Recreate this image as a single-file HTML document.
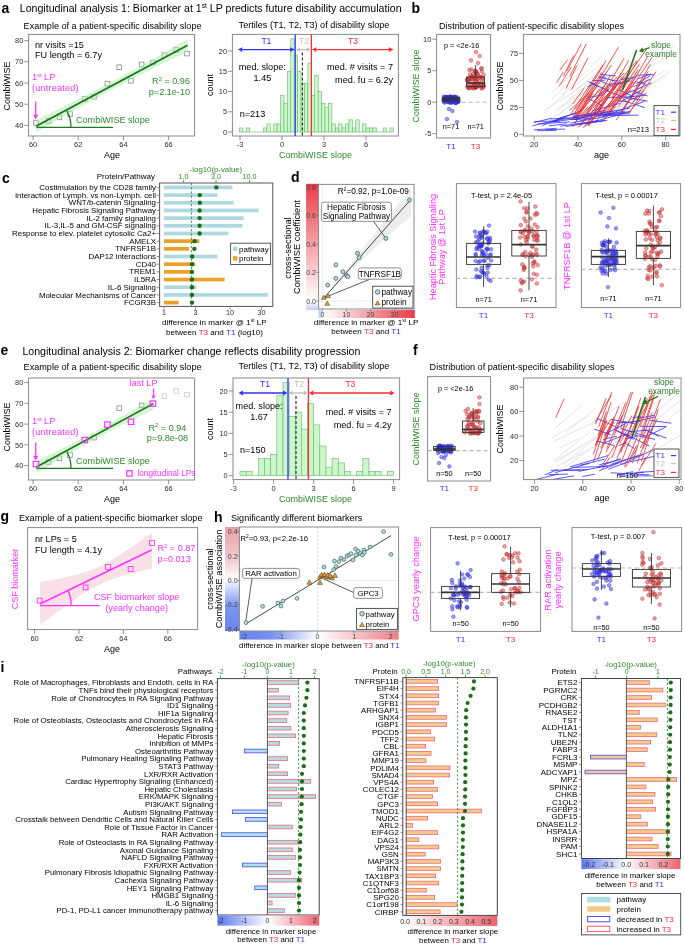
<!DOCTYPE html><html><head><meta charset="utf-8"><style>html,body{margin:0;padding:0;background:#fff;}svg{display:block;font-family:"Liberation Sans",sans-serif;will-change:transform;}</style></head><body>
<svg width="685" height="944" viewBox="0 0 685 944">
<defs>
<clipPath id="clip34"><rect x="523.4" y="34.4" width="156.6" height="101.6"/></clipPath>
<clipPath id="clip378"><rect x="523.6" y="378" width="157.4" height="101.6"/></clipPath>
<linearGradient id="gdy" x1="0" y1="0" x2="0" y2="1"><stop offset="0" stop-color="#ea3c48"/><stop offset="0.93" stop-color="#ffffff"/><stop offset="1" stop-color="#c4cef8"/></linearGradient>
<linearGradient id="gdx" x1="0" y1="0" x2="1" y2="0"><stop offset="0" stop-color="#b8c6fa"/><stop offset="0.06" stop-color="#ffffff"/><stop offset="1" stop-color="#ea3c48"/></linearGradient>
<linearGradient id="ghy" x1="0" y1="0" x2="0" y2="1"><stop offset="0" stop-color="#eaa0aa"/><stop offset="0.3" stop-color="#f2c8cc"/><stop offset="0.5" stop-color="#ffffff"/><stop offset="0.76" stop-color="#7c94f2"/><stop offset="1" stop-color="#6c84ee"/></linearGradient>
<linearGradient id="ghx" x1="0" y1="0" x2="1" y2="0"><stop offset="0" stop-color="#6c84ee"/><stop offset="0.2" stop-color="#7890f0"/><stop offset="0.49" stop-color="#ffffff"/><stop offset="1" stop-color="#ec8088"/></linearGradient>
<linearGradient id="gi1" x1="0" y1="0" x2="1" y2="0"><stop offset="0" stop-color="#5c78ee"/><stop offset="0.5" stop-color="#ffffff"/><stop offset="1" stop-color="#ea6470"/></linearGradient>
<linearGradient id="gi2" x1="0" y1="0" x2="1" y2="0"><stop offset="0" stop-color="#ffffff"/><stop offset="1" stop-color="#ea6470"/></linearGradient>
<linearGradient id="gi3" x1="0" y1="0" x2="1" y2="0"><stop offset="0" stop-color="#5c78ee"/><stop offset="0.45" stop-color="#ffffff"/><stop offset="1" stop-color="#ea6470"/></linearGradient>
</defs>
<rect x="0" y="0" width="685" height="944" fill="#ffffff"/>
<text x="1.5" y="12.6" font-size="14" fill="#000" font-weight="bold">a</text>
<text x="19.8" y="12" font-size="10.6">Longitudinal analysis 1: Biomarker at 1<tspan font-size="6.57" dy="-3.82">st</tspan><tspan dy="3.82"> LP predicts future disability accumulation</tspan></text>
<text x="23.6" y="28.9" font-size="9.1">Example of a patient-specific disability slope</text>
<rect x="28.6" y="34.4" width="166" height="101.6" fill="none" stroke="#8a8a8a" stroke-width="1"/>
<line x1="24.3" y1="125.4" x2="28.6" y2="125.4" stroke="#777777" stroke-width="0.8"/>
<text x="23.3" y="128.06" font-size="7.4" text-anchor="end" fill="#2a2a2a">40</text>
<line x1="24.3" y1="104.2" x2="28.6" y2="104.2" stroke="#777777" stroke-width="0.8"/>
<text x="23.3" y="106.86" font-size="7.4" text-anchor="end" fill="#2a2a2a">50</text>
<line x1="24.3" y1="83" x2="28.6" y2="83" stroke="#777777" stroke-width="0.8"/>
<text x="23.3" y="85.66" font-size="7.4" text-anchor="end" fill="#2a2a2a">60</text>
<line x1="24.3" y1="61.8" x2="28.6" y2="61.8" stroke="#777777" stroke-width="0.8"/>
<text x="23.3" y="64.46" font-size="7.4" text-anchor="end" fill="#2a2a2a">70</text>
<line x1="24.3" y1="40.6" x2="28.6" y2="40.6" stroke="#777777" stroke-width="0.8"/>
<text x="23.3" y="43.26" font-size="7.4" text-anchor="end" fill="#2a2a2a">80</text>
<line x1="33" y1="136" x2="33" y2="140.3" stroke="#777777" stroke-width="0.8"/>
<text x="33" y="147.3" font-size="7.4" text-anchor="middle" fill="#2a2a2a">60</text>
<line x1="78.2" y1="136" x2="78.2" y2="140.3" stroke="#777777" stroke-width="0.8"/>
<text x="78.2" y="147.3" font-size="7.4" text-anchor="middle" fill="#2a2a2a">62</text>
<line x1="123.4" y1="136" x2="123.4" y2="140.3" stroke="#777777" stroke-width="0.8"/>
<text x="123.4" y="147.3" font-size="7.4" text-anchor="middle" fill="#2a2a2a">64</text>
<line x1="168.6" y1="136" x2="168.6" y2="140.3" stroke="#777777" stroke-width="0.8"/>
<text x="168.6" y="147.3" font-size="7.4" text-anchor="middle" fill="#2a2a2a">66</text>
<text x="112" y="158" font-size="9" text-anchor="middle">Age</text>
<text x="10" y="86" font-size="9" text-anchor="middle" transform="rotate(-90 10 86)">CombiWISE</text>
<text x="35" y="48" font-size="9.1">nr visits =15</text>
<text x="35" y="58.4" font-size="9.1">FU length = 6.7y</text>
<rect x="33.7" y="120.7" width="4.6" height="4.6" fill="none" stroke="#888" stroke-width="0.8"/>
<rect x="46.3" y="118.7" width="4.6" height="4.6" fill="none" stroke="#888" stroke-width="0.8"/>
<rect x="57.1" y="115.1" width="4.6" height="4.6" fill="none" stroke="#888" stroke-width="0.8"/>
<rect x="67.7" y="111.7" width="4.6" height="4.6" fill="none" stroke="#888" stroke-width="0.8"/>
<rect x="82.5" y="96.7" width="4.6" height="4.6" fill="none" stroke="#888" stroke-width="0.8"/>
<rect x="91.7" y="94.3" width="4.6" height="4.6" fill="none" stroke="#888" stroke-width="0.8"/>
<rect x="105.1" y="81.3" width="4.6" height="4.6" fill="none" stroke="#888" stroke-width="0.8"/>
<rect x="116.9" y="64.9" width="4.6" height="4.6" fill="none" stroke="#888" stroke-width="0.8"/>
<rect x="128.7" y="78.5" width="4.6" height="4.6" fill="none" stroke="#888" stroke-width="0.8"/>
<rect x="139.3" y="62.1" width="4.6" height="4.6" fill="none" stroke="#888" stroke-width="0.8"/>
<rect x="150.7" y="60.3" width="4.6" height="4.6" fill="none" stroke="#888" stroke-width="0.8"/>
<rect x="162.1" y="52.9" width="4.6" height="4.6" fill="none" stroke="#888" stroke-width="0.8"/>
<rect x="173.9" y="47.7" width="4.6" height="4.6" fill="none" stroke="#888" stroke-width="0.8"/>
<rect x="184.7" y="51.3" width="4.6" height="4.6" fill="none" stroke="#888" stroke-width="0.8"/>
<path d="M36 120 L43.58 116.31 L51.16 112.61 L58.74 108.88 L66.32 105.13 L73.9 101.34 L81.48 97.52 L89.06 93.66 L96.64 89.74 L104.22 85.78 L111.8 81.75 L119.38 77.67 L126.96 73.52 L134.54 69.33 L142.12 65.08 L149.7 60.79 L157.28 56.47 L164.86 52.11 L172.44 47.73 L180.02 43.32 L187.6 38.9 L187.6 51.5 L180.02 55.19 L172.44 58.89 L164.86 62.62 L157.28 66.37 L149.7 70.16 L142.12 73.98 L134.54 77.84 L126.96 81.76 L119.38 85.72 L111.8 89.75 L104.22 93.83 L96.64 97.98 L89.06 102.17 L81.48 106.42 L73.9 110.71 L66.32 115.03 L58.74 119.39 L51.16 123.77 L43.58 128.18 L36 132.6 Z" fill="#a8f0a8" fill-opacity="0.5"/>
<line x1="36" y1="126.3" x2="187.6" y2="45.2" stroke="#1c701c" stroke-width="1.6"/>
<text x="190" y="84.4" font-size="9.1" text-anchor="end" fill="#2e8b2e">R<tspan font-size="5.8" dy="-3.3">2</tspan><tspan dy="3.3"> = 0.96</tspan></text>
<text x="190" y="95" font-size="9.1" text-anchor="end" fill="#2e8b2e">p=2.1e-10</text>
<line x1="36.5" y1="127.4" x2="113" y2="127.4" stroke="#1e7a1e" stroke-width="1.3"/>
<path d="M66.86 110.69 A 35 35 0 0 1 71 127.4" fill="none" stroke="#1e7a1e" stroke-width="1.3"/>
<text x="76" y="123" font-size="9.1" fill="#2e8b2e">CombiWISE slope</text>
<text x="32" y="80" font-size="9.1" fill="#ff33ff">1<tspan font-size="5.8" dy="-3.3">st</tspan><tspan dy="3.3"> LP</tspan></text>
<text x="32" y="91" font-size="9.1" fill="#ff33ff" letter-spacing="0.2">(untreated)</text>
<line x1="35.7" y1="101.5" x2="35.7" y2="114.7" stroke="#ff33ff" stroke-width="1.3"/>
<path d="M35.7 119.4 L33.2 114.7 L38.2 114.7 Z" fill="#ff33ff"/>
<text x="238.6" y="28.4" font-size="9.1">Tertiles (T1, T2, T3) of disability slope</text>
<rect x="239.5" y="127.95" width="3.42" height="4.05" fill="#ccf7cc" stroke="#66bb66" stroke-width="0.6"/>
<line x1="242.92" y1="132" x2="246.34" y2="132" stroke="#77c777" stroke-width="0.7"/>
<rect x="246.34" y="127.95" width="3.42" height="4.05" fill="#ccf7cc" stroke="#66bb66" stroke-width="0.6"/>
<line x1="249.76" y1="132" x2="253.18" y2="132" stroke="#77c777" stroke-width="0.7"/>
<line x1="253.18" y1="132" x2="256.6" y2="132" stroke="#77c777" stroke-width="0.7"/>
<line x1="256.6" y1="132" x2="260.02" y2="132" stroke="#77c777" stroke-width="0.7"/>
<line x1="260.02" y1="132" x2="263.44" y2="132" stroke="#77c777" stroke-width="0.7"/>
<rect x="263.44" y="127.95" width="3.42" height="4.05" fill="#ccf7cc" stroke="#66bb66" stroke-width="0.6"/>
<rect x="266.86" y="123.9" width="3.42" height="8.1" fill="#ccf7cc" stroke="#66bb66" stroke-width="0.6"/>
<line x1="270.28" y1="132" x2="273.7" y2="132" stroke="#77c777" stroke-width="0.7"/>
<rect x="273.7" y="123.9" width="3.42" height="8.1" fill="#ccf7cc" stroke="#66bb66" stroke-width="0.6"/>
<rect x="277.12" y="123.9" width="3.42" height="8.1" fill="#ccf7cc" stroke="#66bb66" stroke-width="0.6"/>
<rect x="280.54" y="95.55" width="3.42" height="36.45" fill="#ccf7cc" stroke="#66bb66" stroke-width="0.6"/>
<rect x="283.96" y="103.65" width="3.42" height="28.35" fill="#ccf7cc" stroke="#66bb66" stroke-width="0.6"/>
<rect x="287.38" y="71.25" width="3.42" height="60.75" fill="#ccf7cc" stroke="#66bb66" stroke-width="0.6"/>
<rect x="290.8" y="38.85" width="3.42" height="93.15" fill="#ccf7cc" stroke="#66bb66" stroke-width="0.6"/>
<rect x="294.22" y="55.05" width="3.42" height="76.95" fill="#ccf7cc" stroke="#66bb66" stroke-width="0.6"/>
<rect x="297.64" y="71.25" width="3.42" height="60.75" fill="#ccf7cc" stroke="#66bb66" stroke-width="0.6"/>
<rect x="301.06" y="83.4" width="3.42" height="48.6" fill="#ccf7cc" stroke="#66bb66" stroke-width="0.6"/>
<rect x="304.48" y="83.4" width="3.42" height="48.6" fill="#ccf7cc" stroke="#66bb66" stroke-width="0.6"/>
<rect x="307.9" y="63.15" width="3.42" height="68.85" fill="#ccf7cc" stroke="#66bb66" stroke-width="0.6"/>
<rect x="311.32" y="95.55" width="3.42" height="36.45" fill="#ccf7cc" stroke="#66bb66" stroke-width="0.6"/>
<rect x="314.74" y="75.3" width="3.42" height="56.7" fill="#ccf7cc" stroke="#66bb66" stroke-width="0.6"/>
<rect x="318.16" y="91.5" width="3.42" height="40.5" fill="#ccf7cc" stroke="#66bb66" stroke-width="0.6"/>
<rect x="321.58" y="103.65" width="3.42" height="28.35" fill="#ccf7cc" stroke="#66bb66" stroke-width="0.6"/>
<rect x="325" y="107.7" width="3.42" height="24.3" fill="#ccf7cc" stroke="#66bb66" stroke-width="0.6"/>
<rect x="328.42" y="103.65" width="3.42" height="28.35" fill="#ccf7cc" stroke="#66bb66" stroke-width="0.6"/>
<rect x="331.84" y="123.9" width="3.42" height="8.1" fill="#ccf7cc" stroke="#66bb66" stroke-width="0.6"/>
<rect x="335.26" y="127.95" width="3.42" height="4.05" fill="#ccf7cc" stroke="#66bb66" stroke-width="0.6"/>
<rect x="338.68" y="123.9" width="3.42" height="8.1" fill="#ccf7cc" stroke="#66bb66" stroke-width="0.6"/>
<rect x="342.1" y="127.95" width="3.42" height="4.05" fill="#ccf7cc" stroke="#66bb66" stroke-width="0.6"/>
<rect x="345.52" y="123.9" width="3.42" height="8.1" fill="#ccf7cc" stroke="#66bb66" stroke-width="0.6"/>
<rect x="348.94" y="119.85" width="3.42" height="12.15" fill="#ccf7cc" stroke="#66bb66" stroke-width="0.6"/>
<rect x="352.36" y="127.95" width="3.42" height="4.05" fill="#ccf7cc" stroke="#66bb66" stroke-width="0.6"/>
<rect x="355.78" y="119.85" width="3.42" height="12.15" fill="#ccf7cc" stroke="#66bb66" stroke-width="0.6"/>
<line x1="359.2" y1="132" x2="362.62" y2="132" stroke="#77c777" stroke-width="0.7"/>
<rect x="362.62" y="123.9" width="3.42" height="8.1" fill="#ccf7cc" stroke="#66bb66" stroke-width="0.6"/>
<rect x="366.04" y="127.95" width="3.42" height="4.05" fill="#ccf7cc" stroke="#66bb66" stroke-width="0.6"/>
<rect x="369.46" y="127.95" width="3.42" height="4.05" fill="#ccf7cc" stroke="#66bb66" stroke-width="0.6"/>
<rect x="372.88" y="127.95" width="3.42" height="4.05" fill="#ccf7cc" stroke="#66bb66" stroke-width="0.6"/>
<line x1="376.3" y1="132" x2="379.72" y2="132" stroke="#77c777" stroke-width="0.7"/>
<line x1="379.72" y1="132" x2="383.14" y2="132" stroke="#77c777" stroke-width="0.7"/>
<rect x="383.14" y="127.95" width="3.42" height="4.05" fill="#ccf7cc" stroke="#66bb66" stroke-width="0.6"/>
<line x1="386.56" y1="132" x2="389.98" y2="132" stroke="#77c777" stroke-width="0.7"/>
<rect x="389.98" y="127.95" width="3.42" height="4.05" fill="#ccf7cc" stroke="#66bb66" stroke-width="0.6"/>
<rect x="232.4" y="34.4" width="166" height="101.6" fill="none" stroke="#8a8a8a" stroke-width="1"/>
<line x1="228.1" y1="132" x2="232.4" y2="132" stroke="#777777" stroke-width="0.8"/>
<text x="227.1" y="134.66" font-size="7.4" text-anchor="end" fill="#2a2a2a">0</text>
<line x1="228.1" y1="111.75" x2="232.4" y2="111.75" stroke="#777777" stroke-width="0.8"/>
<text x="227.1" y="114.41" font-size="7.4" text-anchor="end" fill="#2a2a2a">5</text>
<line x1="228.1" y1="91.5" x2="232.4" y2="91.5" stroke="#777777" stroke-width="0.8"/>
<text x="227.1" y="94.16" font-size="7.4" text-anchor="end" fill="#2a2a2a">10</text>
<line x1="228.1" y1="71.25" x2="232.4" y2="71.25" stroke="#777777" stroke-width="0.8"/>
<text x="227.1" y="73.91" font-size="7.4" text-anchor="end" fill="#2a2a2a">15</text>
<line x1="228.1" y1="51" x2="232.4" y2="51" stroke="#777777" stroke-width="0.8"/>
<text x="227.1" y="53.66" font-size="7.4" text-anchor="end" fill="#2a2a2a">20</text>
<line x1="240" y1="136" x2="240" y2="140.3" stroke="#777777" stroke-width="0.8"/>
<text x="240" y="147.3" font-size="7.4" text-anchor="middle" fill="#2a2a2a">-3</text>
<line x1="282" y1="136" x2="282" y2="140.3" stroke="#777777" stroke-width="0.8"/>
<text x="282" y="147.3" font-size="7.4" text-anchor="middle" fill="#2a2a2a">0</text>
<line x1="324" y1="136" x2="324" y2="140.3" stroke="#777777" stroke-width="0.8"/>
<text x="324" y="147.3" font-size="7.4" text-anchor="middle" fill="#2a2a2a">3</text>
<line x1="366" y1="136" x2="366" y2="140.3" stroke="#777777" stroke-width="0.8"/>
<text x="366" y="147.3" font-size="7.4" text-anchor="middle" fill="#2a2a2a">6</text>
<line x1="295.2" y1="34.4" x2="295.2" y2="136" stroke="#3333ff" stroke-width="1.3"/>
<line x1="311.4" y1="34.4" x2="311.4" y2="136" stroke="#ff2a2a" stroke-width="1.3"/>
<line x1="302.4" y1="52.6" x2="302.4" y2="136" stroke="#333" stroke-width="1.2" stroke-dasharray="3,2"/>
<line x1="242.4" y1="49.6" x2="290.2" y2="49.6" stroke="#3333ff" stroke-width="1.3"/>
<path d="M237.9 49.6 L242.4 47.2 L242.4 52 Z" fill="#3333ff"/>
<path d="M294.7 49.6 L290.2 47.2 L290.2 52 Z" fill="#3333ff"/>
<line x1="299.8" y1="49.6" x2="306.8" y2="49.6" stroke="#bbbbbb" stroke-width="1.3"/>
<path d="M296.2 49.6 L299.8 47.4 L299.8 51.8 Z" fill="#bbbbbb"/>
<path d="M310.4 49.6 L306.8 47.4 L306.8 51.8 Z" fill="#bbbbbb"/>
<line x1="316.4" y1="49.6" x2="388.9" y2="49.6" stroke="#ff2a2a" stroke-width="1.3"/>
<path d="M311.9 49.6 L316.4 47.2 L316.4 52 Z" fill="#ff2a2a"/>
<path d="M393.4 49.6 L388.9 47.2 L388.9 52 Z" fill="#ff2a2a"/>
<text x="266.4" y="44" font-size="8.6" text-anchor="middle" fill="#3333ff">T1</text>
<text x="304" y="44" font-size="8.6" text-anchor="middle" fill="#c0c0c0">T2</text>
<text x="353" y="44" font-size="8.6" text-anchor="middle" fill="#ff2a2a">T3</text>
<text x="238.8" y="70.4" font-size="9.1">med. slope:</text>
<text x="262.4" y="81.4" font-size="9.1" text-anchor="middle">1.45</text>
<text x="239.7" y="116.6" font-size="9.1">n=213</text>
<text x="393" y="70" font-size="9.1" text-anchor="end">med. # visits = 7</text>
<text x="393" y="83" font-size="9.1" text-anchor="end">med. fu = 6.2y</text>
<text x="212.5" y="85" font-size="9" text-anchor="middle" transform="rotate(-90 212.5 85)">count</text>
<text x="315.6" y="157.8" font-size="9" text-anchor="middle" fill="#2e8b2e">CombiWISE slope</text>
<text x="411.5" y="12.6" font-size="14" fill="#000" font-weight="bold">b</text>
<text x="439" y="28.6" font-size="9.1">Distribution of patient-specific disability slopes</text>
<rect x="436.6" y="34.4" width="54" height="103.6" fill="none" stroke="#8a8a8a" stroke-width="1"/>
<line x1="461.6" y1="102.2" x2="490.6" y2="102.2" stroke="#b8b8b8" stroke-width="1.1" stroke-dasharray="4,3"/>
<circle cx="453.26" cy="98.14" r="1.8" fill="#3a3af6" stroke="#2424c0" stroke-width="0.4" fill-opacity="0.5"/>
<circle cx="448.99" cy="99.53" r="1.8" fill="#3a3af6" stroke="#2424c0" stroke-width="0.4" fill-opacity="0.5"/>
<circle cx="444.06" cy="99.43" r="1.8" fill="#3a3af6" stroke="#2424c0" stroke-width="0.4" fill-opacity="0.5"/>
<circle cx="444.86" cy="97.85" r="1.8" fill="#3a3af6" stroke="#2424c0" stroke-width="0.4" fill-opacity="0.5"/>
<circle cx="445.36" cy="100.58" r="1.8" fill="#3a3af6" stroke="#2424c0" stroke-width="0.4" fill-opacity="0.5"/>
<circle cx="457.72" cy="99.86" r="1.8" fill="#3a3af6" stroke="#2424c0" stroke-width="0.4" fill-opacity="0.5"/>
<circle cx="458.14" cy="101.93" r="1.8" fill="#3a3af6" stroke="#2424c0" stroke-width="0.4" fill-opacity="0.5"/>
<circle cx="447.84" cy="100.69" r="1.8" fill="#3a3af6" stroke="#2424c0" stroke-width="0.4" fill-opacity="0.5"/>
<circle cx="448.13" cy="98.02" r="1.8" fill="#3a3af6" stroke="#2424c0" stroke-width="0.4" fill-opacity="0.5"/>
<circle cx="452.22" cy="96.68" r="1.8" fill="#3a3af6" stroke="#2424c0" stroke-width="0.4" fill-opacity="0.5"/>
<circle cx="451.72" cy="101.89" r="1.8" fill="#3a3af6" stroke="#2424c0" stroke-width="0.4" fill-opacity="0.5"/>
<circle cx="446.59" cy="97.81" r="1.8" fill="#3a3af6" stroke="#2424c0" stroke-width="0.4" fill-opacity="0.5"/>
<circle cx="448.21" cy="101.99" r="1.8" fill="#3a3af6" stroke="#2424c0" stroke-width="0.4" fill-opacity="0.5"/>
<circle cx="448" cy="102.03" r="1.8" fill="#3a3af6" stroke="#2424c0" stroke-width="0.4" fill-opacity="0.5"/>
<circle cx="447.16" cy="97.26" r="1.8" fill="#3a3af6" stroke="#2424c0" stroke-width="0.4" fill-opacity="0.5"/>
<circle cx="456.63" cy="102.17" r="1.8" fill="#3a3af6" stroke="#2424c0" stroke-width="0.4" fill-opacity="0.5"/>
<circle cx="458.2" cy="101.73" r="1.8" fill="#3a3af6" stroke="#2424c0" stroke-width="0.4" fill-opacity="0.5"/>
<circle cx="454.86" cy="99.11" r="1.8" fill="#3a3af6" stroke="#2424c0" stroke-width="0.4" fill-opacity="0.5"/>
<circle cx="444.09" cy="99.36" r="1.8" fill="#3a3af6" stroke="#2424c0" stroke-width="0.4" fill-opacity="0.5"/>
<circle cx="452.1" cy="102.61" r="1.8" fill="#3a3af6" stroke="#2424c0" stroke-width="0.4" fill-opacity="0.5"/>
<circle cx="453.93" cy="96.83" r="1.8" fill="#3a3af6" stroke="#2424c0" stroke-width="0.4" fill-opacity="0.5"/>
<circle cx="450.34" cy="102.27" r="1.8" fill="#3a3af6" stroke="#2424c0" stroke-width="0.4" fill-opacity="0.5"/>
<circle cx="450.61" cy="97.54" r="1.8" fill="#3a3af6" stroke="#2424c0" stroke-width="0.4" fill-opacity="0.5"/>
<circle cx="454.02" cy="101.31" r="1.8" fill="#3a3af6" stroke="#2424c0" stroke-width="0.4" fill-opacity="0.5"/>
<circle cx="455.83" cy="103.03" r="1.8" fill="#3a3af6" stroke="#2424c0" stroke-width="0.4" fill-opacity="0.5"/>
<circle cx="453.53" cy="98.99" r="1.8" fill="#3a3af6" stroke="#2424c0" stroke-width="0.4" fill-opacity="0.5"/>
<circle cx="446.02" cy="99.26" r="1.8" fill="#3a3af6" stroke="#2424c0" stroke-width="0.4" fill-opacity="0.5"/>
<circle cx="455.02" cy="97.81" r="1.8" fill="#3a3af6" stroke="#2424c0" stroke-width="0.4" fill-opacity="0.5"/>
<circle cx="449.36" cy="98.49" r="1.8" fill="#3a3af6" stroke="#2424c0" stroke-width="0.4" fill-opacity="0.5"/>
<circle cx="450.24" cy="96.57" r="1.8" fill="#3a3af6" stroke="#2424c0" stroke-width="0.4" fill-opacity="0.5"/>
<circle cx="455.79" cy="102.83" r="1.8" fill="#3a3af6" stroke="#2424c0" stroke-width="0.4" fill-opacity="0.5"/>
<circle cx="449.73" cy="96.79" r="1.8" fill="#3a3af6" stroke="#2424c0" stroke-width="0.4" fill-opacity="0.5"/>
<circle cx="457.87" cy="100.78" r="1.8" fill="#3a3af6" stroke="#2424c0" stroke-width="0.4" fill-opacity="0.5"/>
<circle cx="446.98" cy="98.23" r="1.8" fill="#3a3af6" stroke="#2424c0" stroke-width="0.4" fill-opacity="0.5"/>
<circle cx="452.34" cy="99.35" r="1.8" fill="#3a3af6" stroke="#2424c0" stroke-width="0.4" fill-opacity="0.5"/>
<circle cx="449.78" cy="97.61" r="1.8" fill="#3a3af6" stroke="#2424c0" stroke-width="0.4" fill-opacity="0.5"/>
<circle cx="457.8" cy="99.64" r="1.8" fill="#3a3af6" stroke="#2424c0" stroke-width="0.4" fill-opacity="0.5"/>
<circle cx="452.76" cy="102.15" r="1.8" fill="#3a3af6" stroke="#2424c0" stroke-width="0.4" fill-opacity="0.5"/>
<circle cx="456.99" cy="101.3" r="1.8" fill="#3a3af6" stroke="#2424c0" stroke-width="0.4" fill-opacity="0.5"/>
<circle cx="455.47" cy="97.46" r="1.8" fill="#3a3af6" stroke="#2424c0" stroke-width="0.4" fill-opacity="0.5"/>
<circle cx="445.05" cy="99.04" r="1.8" fill="#3a3af6" stroke="#2424c0" stroke-width="0.4" fill-opacity="0.5"/>
<circle cx="444.51" cy="101.31" r="1.8" fill="#3a3af6" stroke="#2424c0" stroke-width="0.4" fill-opacity="0.5"/>
<circle cx="448.6" cy="98.18" r="1.8" fill="#3a3af6" stroke="#2424c0" stroke-width="0.4" fill-opacity="0.5"/>
<circle cx="445.77" cy="97.6" r="1.8" fill="#3a3af6" stroke="#2424c0" stroke-width="0.4" fill-opacity="0.5"/>
<circle cx="443.88" cy="98.91" r="1.8" fill="#3a3af6" stroke="#2424c0" stroke-width="0.4" fill-opacity="0.5"/>
<circle cx="445.73" cy="97.17" r="1.8" fill="#3a3af6" stroke="#2424c0" stroke-width="0.4" fill-opacity="0.5"/>
<circle cx="448.96" cy="98.85" r="1.8" fill="#3a3af6" stroke="#2424c0" stroke-width="0.4" fill-opacity="0.5"/>
<circle cx="458.4" cy="100.66" r="1.8" fill="#3a3af6" stroke="#2424c0" stroke-width="0.4" fill-opacity="0.5"/>
<circle cx="444.79" cy="99.34" r="1.8" fill="#3a3af6" stroke="#2424c0" stroke-width="0.4" fill-opacity="0.5"/>
<circle cx="447.47" cy="98.83" r="1.8" fill="#3a3af6" stroke="#2424c0" stroke-width="0.4" fill-opacity="0.5"/>
<circle cx="443.85" cy="96.66" r="1.8" fill="#3a3af6" stroke="#2424c0" stroke-width="0.4" fill-opacity="0.5"/>
<circle cx="445.7" cy="97.07" r="1.8" fill="#3a3af6" stroke="#2424c0" stroke-width="0.4" fill-opacity="0.5"/>
<circle cx="451.42" cy="101.25" r="1.8" fill="#3a3af6" stroke="#2424c0" stroke-width="0.4" fill-opacity="0.5"/>
<circle cx="453.94" cy="97.45" r="1.8" fill="#3a3af6" stroke="#2424c0" stroke-width="0.4" fill-opacity="0.5"/>
<circle cx="446.01" cy="98.92" r="1.8" fill="#3a3af6" stroke="#2424c0" stroke-width="0.4" fill-opacity="0.5"/>
<circle cx="455.19" cy="97.08" r="1.8" fill="#3a3af6" stroke="#2424c0" stroke-width="0.4" fill-opacity="0.5"/>
<circle cx="455.67" cy="98.4" r="1.8" fill="#3a3af6" stroke="#2424c0" stroke-width="0.4" fill-opacity="0.5"/>
<circle cx="455.59" cy="97.43" r="1.8" fill="#3a3af6" stroke="#2424c0" stroke-width="0.4" fill-opacity="0.5"/>
<circle cx="446.9" cy="97.31" r="1.8" fill="#3a3af6" stroke="#2424c0" stroke-width="0.4" fill-opacity="0.5"/>
<circle cx="443.93" cy="101.85" r="1.8" fill="#3a3af6" stroke="#2424c0" stroke-width="0.4" fill-opacity="0.5"/>
<circle cx="447.39" cy="98.61" r="1.8" fill="#3a3af6" stroke="#2424c0" stroke-width="0.4" fill-opacity="0.5"/>
<circle cx="450.21" cy="102.96" r="1.8" fill="#3a3af6" stroke="#2424c0" stroke-width="0.4" fill-opacity="0.5"/>
<circle cx="457.83" cy="97.59" r="1.8" fill="#3a3af6" stroke="#2424c0" stroke-width="0.4" fill-opacity="0.5"/>
<circle cx="446.9" cy="98.39" r="1.8" fill="#3a3af6" stroke="#2424c0" stroke-width="0.4" fill-opacity="0.5"/>
<circle cx="452.86" cy="98.34" r="1.8" fill="#3a3af6" stroke="#2424c0" stroke-width="0.4" fill-opacity="0.5"/>
<circle cx="450.69" cy="97.42" r="1.8" fill="#3a3af6" stroke="#2424c0" stroke-width="0.4" fill-opacity="0.5"/>
<circle cx="444.77" cy="102.67" r="1.8" fill="#3a3af6" stroke="#2424c0" stroke-width="0.4" fill-opacity="0.5"/>
<circle cx="455.23" cy="102.87" r="1.8" fill="#3a3af6" stroke="#2424c0" stroke-width="0.4" fill-opacity="0.5"/>
<circle cx="446.18" cy="97.02" r="1.8" fill="#3a3af6" stroke="#2424c0" stroke-width="0.4" fill-opacity="0.5"/>
<circle cx="455.51" cy="96.85" r="1.8" fill="#3a3af6" stroke="#2424c0" stroke-width="0.4" fill-opacity="0.5"/>
<circle cx="449.52" cy="96.92" r="1.8" fill="#3a3af6" stroke="#2424c0" stroke-width="0.4" fill-opacity="0.5"/>
<circle cx="449" cy="109" r="1.8" fill="#3a3af6" stroke="#2424c0" stroke-width="0.4" fill-opacity="0.5"/>
<circle cx="452.4" cy="111" r="1.8" fill="#3a3af6" stroke="#2424c0" stroke-width="0.4" fill-opacity="0.5"/>
<circle cx="447" cy="119" r="1.8" fill="#3a3af6" stroke="#2424c0" stroke-width="0.4" fill-opacity="0.5"/>
<circle cx="457" cy="122" r="1.8" fill="#3a3af6" stroke="#2424c0" stroke-width="0.4" fill-opacity="0.5"/>
<line x1="451" y1="96.2" x2="451" y2="97.6" stroke="#333" stroke-width="0.9"/>
<line x1="451" y1="101.2" x2="451" y2="103.5" stroke="#333" stroke-width="0.9"/>
<rect x="442.2" y="97.6" width="17.6" height="3.6" fill="none" stroke="#333" stroke-width="0.9"/>
<line x1="442.2" y1="99.4" x2="459.8" y2="99.4" stroke="#333" stroke-width="1.6"/>
<circle cx="469.99" cy="74.36" r="1.8" fill="#de4646" stroke="#a82222" stroke-width="0.4" fill-opacity="0.5"/>
<circle cx="482.48" cy="78.42" r="1.8" fill="#de4646" stroke="#a82222" stroke-width="0.4" fill-opacity="0.5"/>
<circle cx="481.15" cy="68.8" r="1.8" fill="#de4646" stroke="#a82222" stroke-width="0.4" fill-opacity="0.5"/>
<circle cx="473.06" cy="73.71" r="1.8" fill="#de4646" stroke="#a82222" stroke-width="0.4" fill-opacity="0.5"/>
<circle cx="467.34" cy="86.67" r="1.8" fill="#de4646" stroke="#a82222" stroke-width="0.4" fill-opacity="0.5"/>
<circle cx="476.05" cy="73.64" r="1.8" fill="#de4646" stroke="#a82222" stroke-width="0.4" fill-opacity="0.5"/>
<circle cx="481.92" cy="71.56" r="1.8" fill="#de4646" stroke="#a82222" stroke-width="0.4" fill-opacity="0.5"/>
<circle cx="471.38" cy="69.43" r="1.8" fill="#de4646" stroke="#a82222" stroke-width="0.4" fill-opacity="0.5"/>
<circle cx="477.07" cy="79.26" r="1.8" fill="#de4646" stroke="#a82222" stroke-width="0.4" fill-opacity="0.5"/>
<circle cx="469.33" cy="80.94" r="1.8" fill="#de4646" stroke="#a82222" stroke-width="0.4" fill-opacity="0.5"/>
<circle cx="474.89" cy="70.8" r="1.8" fill="#de4646" stroke="#a82222" stroke-width="0.4" fill-opacity="0.5"/>
<circle cx="474.25" cy="88.28" r="1.8" fill="#de4646" stroke="#a82222" stroke-width="0.4" fill-opacity="0.5"/>
<circle cx="476.14" cy="72.22" r="1.8" fill="#de4646" stroke="#a82222" stroke-width="0.4" fill-opacity="0.5"/>
<circle cx="474.58" cy="86.44" r="1.8" fill="#de4646" stroke="#a82222" stroke-width="0.4" fill-opacity="0.5"/>
<circle cx="480.69" cy="77.04" r="1.8" fill="#de4646" stroke="#a82222" stroke-width="0.4" fill-opacity="0.5"/>
<circle cx="479.43" cy="81.45" r="1.8" fill="#de4646" stroke="#a82222" stroke-width="0.4" fill-opacity="0.5"/>
<circle cx="475.91" cy="87.08" r="1.8" fill="#de4646" stroke="#a82222" stroke-width="0.4" fill-opacity="0.5"/>
<circle cx="468.9" cy="88.03" r="1.8" fill="#de4646" stroke="#a82222" stroke-width="0.4" fill-opacity="0.5"/>
<circle cx="471.81" cy="86.92" r="1.8" fill="#de4646" stroke="#a82222" stroke-width="0.4" fill-opacity="0.5"/>
<circle cx="476.65" cy="72.27" r="1.8" fill="#de4646" stroke="#a82222" stroke-width="0.4" fill-opacity="0.5"/>
<circle cx="474.64" cy="76.16" r="1.8" fill="#de4646" stroke="#a82222" stroke-width="0.4" fill-opacity="0.5"/>
<circle cx="475.81" cy="87.45" r="1.8" fill="#de4646" stroke="#a82222" stroke-width="0.4" fill-opacity="0.5"/>
<circle cx="476.17" cy="87.34" r="1.8" fill="#de4646" stroke="#a82222" stroke-width="0.4" fill-opacity="0.5"/>
<circle cx="478.99" cy="85.85" r="1.8" fill="#de4646" stroke="#a82222" stroke-width="0.4" fill-opacity="0.5"/>
<circle cx="471.51" cy="76.44" r="1.8" fill="#de4646" stroke="#a82222" stroke-width="0.4" fill-opacity="0.5"/>
<circle cx="481.38" cy="88.36" r="1.8" fill="#de4646" stroke="#a82222" stroke-width="0.4" fill-opacity="0.5"/>
<circle cx="474.62" cy="78.14" r="1.8" fill="#de4646" stroke="#a82222" stroke-width="0.4" fill-opacity="0.5"/>
<circle cx="468.34" cy="79.26" r="1.8" fill="#de4646" stroke="#a82222" stroke-width="0.4" fill-opacity="0.5"/>
<circle cx="482.35" cy="88.03" r="1.8" fill="#de4646" stroke="#a82222" stroke-width="0.4" fill-opacity="0.5"/>
<circle cx="478.32" cy="83.73" r="1.8" fill="#de4646" stroke="#a82222" stroke-width="0.4" fill-opacity="0.5"/>
<circle cx="483.55" cy="85.3" r="1.8" fill="#de4646" stroke="#a82222" stroke-width="0.4" fill-opacity="0.5"/>
<circle cx="473.87" cy="85.95" r="1.8" fill="#de4646" stroke="#a82222" stroke-width="0.4" fill-opacity="0.5"/>
<circle cx="481.25" cy="86.3" r="1.8" fill="#de4646" stroke="#a82222" stroke-width="0.4" fill-opacity="0.5"/>
<circle cx="475.87" cy="81.06" r="1.8" fill="#de4646" stroke="#a82222" stroke-width="0.4" fill-opacity="0.5"/>
<circle cx="472.51" cy="78.84" r="1.8" fill="#de4646" stroke="#a82222" stroke-width="0.4" fill-opacity="0.5"/>
<circle cx="476.52" cy="86.44" r="1.8" fill="#de4646" stroke="#a82222" stroke-width="0.4" fill-opacity="0.5"/>
<circle cx="472.74" cy="77.17" r="1.8" fill="#de4646" stroke="#a82222" stroke-width="0.4" fill-opacity="0.5"/>
<circle cx="468.19" cy="87.47" r="1.8" fill="#de4646" stroke="#a82222" stroke-width="0.4" fill-opacity="0.5"/>
<circle cx="483.62" cy="74.97" r="1.8" fill="#de4646" stroke="#a82222" stroke-width="0.4" fill-opacity="0.5"/>
<circle cx="467.77" cy="79.5" r="1.8" fill="#de4646" stroke="#a82222" stroke-width="0.4" fill-opacity="0.5"/>
<circle cx="469.3" cy="70" r="1.8" fill="#de4646" stroke="#a82222" stroke-width="0.4" fill-opacity="0.5"/>
<circle cx="481.02" cy="85.57" r="1.8" fill="#de4646" stroke="#a82222" stroke-width="0.4" fill-opacity="0.5"/>
<circle cx="482.73" cy="78.4" r="1.8" fill="#de4646" stroke="#a82222" stroke-width="0.4" fill-opacity="0.5"/>
<circle cx="468.62" cy="87.86" r="1.8" fill="#de4646" stroke="#a82222" stroke-width="0.4" fill-opacity="0.5"/>
<circle cx="474.33" cy="83.47" r="1.8" fill="#de4646" stroke="#a82222" stroke-width="0.4" fill-opacity="0.5"/>
<circle cx="477.89" cy="85.82" r="1.8" fill="#de4646" stroke="#a82222" stroke-width="0.4" fill-opacity="0.5"/>
<circle cx="481.66" cy="68.2" r="1.8" fill="#de4646" stroke="#a82222" stroke-width="0.4" fill-opacity="0.5"/>
<circle cx="474.81" cy="85.11" r="1.8" fill="#de4646" stroke="#a82222" stroke-width="0.4" fill-opacity="0.5"/>
<circle cx="482.85" cy="82.2" r="1.8" fill="#de4646" stroke="#a82222" stroke-width="0.4" fill-opacity="0.5"/>
<circle cx="476.06" cy="78.21" r="1.8" fill="#de4646" stroke="#a82222" stroke-width="0.4" fill-opacity="0.5"/>
<circle cx="469.84" cy="78.03" r="1.8" fill="#de4646" stroke="#a82222" stroke-width="0.4" fill-opacity="0.5"/>
<circle cx="472.4" cy="78.9" r="1.8" fill="#de4646" stroke="#a82222" stroke-width="0.4" fill-opacity="0.5"/>
<circle cx="472.03" cy="84.14" r="1.8" fill="#de4646" stroke="#a82222" stroke-width="0.4" fill-opacity="0.5"/>
<circle cx="473" cy="86.77" r="1.8" fill="#de4646" stroke="#a82222" stroke-width="0.4" fill-opacity="0.5"/>
<circle cx="467.36" cy="79.35" r="1.8" fill="#de4646" stroke="#a82222" stroke-width="0.4" fill-opacity="0.5"/>
<circle cx="470.32" cy="87.55" r="1.8" fill="#de4646" stroke="#a82222" stroke-width="0.4" fill-opacity="0.5"/>
<circle cx="468.91" cy="85.79" r="1.8" fill="#de4646" stroke="#a82222" stroke-width="0.4" fill-opacity="0.5"/>
<circle cx="475.52" cy="71.55" r="1.8" fill="#de4646" stroke="#a82222" stroke-width="0.4" fill-opacity="0.5"/>
<circle cx="475.71" cy="71.17" r="1.8" fill="#de4646" stroke="#a82222" stroke-width="0.4" fill-opacity="0.5"/>
<circle cx="472.93" cy="88.44" r="1.8" fill="#de4646" stroke="#a82222" stroke-width="0.4" fill-opacity="0.5"/>
<circle cx="477.91" cy="74.18" r="1.8" fill="#de4646" stroke="#a82222" stroke-width="0.4" fill-opacity="0.5"/>
<circle cx="468.02" cy="80.27" r="1.8" fill="#de4646" stroke="#a82222" stroke-width="0.4" fill-opacity="0.5"/>
<circle cx="479.7" cy="77.66" r="1.8" fill="#de4646" stroke="#a82222" stroke-width="0.4" fill-opacity="0.5"/>
<circle cx="468.54" cy="78.53" r="1.8" fill="#de4646" stroke="#a82222" stroke-width="0.4" fill-opacity="0.5"/>
<circle cx="478.5" cy="75.76" r="1.8" fill="#de4646" stroke="#a82222" stroke-width="0.4" fill-opacity="0.5"/>
<circle cx="472.08" cy="79.28" r="1.8" fill="#de4646" stroke="#a82222" stroke-width="0.4" fill-opacity="0.5"/>
<circle cx="474.68" cy="78.48" r="1.8" fill="#de4646" stroke="#a82222" stroke-width="0.4" fill-opacity="0.5"/>
<circle cx="483.63" cy="86.04" r="1.8" fill="#de4646" stroke="#a82222" stroke-width="0.4" fill-opacity="0.5"/>
<circle cx="483.52" cy="86.91" r="1.8" fill="#de4646" stroke="#a82222" stroke-width="0.4" fill-opacity="0.5"/>
<circle cx="467.12" cy="80.35" r="1.8" fill="#de4646" stroke="#a82222" stroke-width="0.4" fill-opacity="0.5"/>
<circle cx="475.65" cy="81.46" r="1.8" fill="#de4646" stroke="#a82222" stroke-width="0.4" fill-opacity="0.5"/>
<circle cx="476" cy="52" r="1.8" fill="#de4646" stroke="#a82222" stroke-width="0.4" fill-opacity="0.5"/>
<circle cx="479.6" cy="56" r="1.8" fill="#de4646" stroke="#a82222" stroke-width="0.4" fill-opacity="0.5"/>
<circle cx="471" cy="60.4" r="1.8" fill="#de4646" stroke="#a82222" stroke-width="0.4" fill-opacity="0.5"/>
<circle cx="478" cy="63" r="1.8" fill="#de4646" stroke="#a82222" stroke-width="0.4" fill-opacity="0.5"/>
<line x1="475.6" y1="65" x2="475.6" y2="77" stroke="#333" stroke-width="0.9"/>
<line x1="475.6" y1="86.4" x2="475.6" y2="89" stroke="#333" stroke-width="0.9"/>
<rect x="466.6" y="77" width="18" height="9.4" fill="none" stroke="#333" stroke-width="0.9"/>
<line x1="466.6" y1="83" x2="484.6" y2="83" stroke="#333" stroke-width="1.6"/>
<text x="461.6" y="48" font-size="7.3" text-anchor="middle">p = &lt;2e-16</text>
<text x="451" y="129" font-size="7.3" text-anchor="middle">n=71</text>
<text x="475.6" y="129" font-size="7.3" text-anchor="middle">n=71</text>
<text x="451" y="148.9" font-size="8.1" text-anchor="middle" fill="#3333ff">T1</text>
<text x="475.6" y="148.9" font-size="8.1" text-anchor="middle" fill="#ff2a2a">T3</text>
<line x1="432.3" y1="133.7" x2="436.6" y2="133.7" stroke="#777777" stroke-width="0.8"/>
<text x="431.3" y="136.36" font-size="7.4" text-anchor="end" fill="#2a2a2a">-5</text>
<line x1="432.3" y1="102.2" x2="436.6" y2="102.2" stroke="#777777" stroke-width="0.8"/>
<text x="431.3" y="104.86" font-size="7.4" text-anchor="end" fill="#2a2a2a">0</text>
<line x1="432.3" y1="70.7" x2="436.6" y2="70.7" stroke="#777777" stroke-width="0.8"/>
<text x="431.3" y="73.36" font-size="7.4" text-anchor="end" fill="#2a2a2a">5</text>
<line x1="432.3" y1="39.2" x2="436.6" y2="39.2" stroke="#777777" stroke-width="0.8"/>
<text x="431.3" y="41.86" font-size="7.4" text-anchor="end" fill="#2a2a2a">10</text>
<text x="418.5" y="86" font-size="9" text-anchor="middle" fill="#2e8b2e" transform="rotate(-90 418.5 86)">CombiWISE slope</text>
<g clip-path="url(#clip34)">
<line x1="600.25" y1="85.07" x2="637.27" y2="49.71" stroke="#dedede" stroke-width="0.8"/>
<line x1="611.02" y1="112.44" x2="652.77" y2="83.35" stroke="#dedede" stroke-width="0.8"/>
<line x1="629.73" y1="76.71" x2="664.31" y2="59.24" stroke="#dedede" stroke-width="0.8"/>
<line x1="586.1" y1="96.66" x2="610.1" y2="78.54" stroke="#dedede" stroke-width="0.8"/>
<line x1="544.17" y1="112.86" x2="567.38" y2="91.01" stroke="#dedede" stroke-width="0.8"/>
<line x1="613.39" y1="83.05" x2="635.11" y2="71.78" stroke="#dedede" stroke-width="0.8"/>
<line x1="599.75" y1="115.13" x2="620.6" y2="96.02" stroke="#dedede" stroke-width="0.8"/>
<line x1="562.23" y1="83.61" x2="585.41" y2="62.35" stroke="#dedede" stroke-width="0.8"/>
<line x1="569.57" y1="99.28" x2="612.36" y2="64.56" stroke="#dedede" stroke-width="0.8"/>
<line x1="561.8" y1="94.71" x2="604.04" y2="53.8" stroke="#dedede" stroke-width="0.8"/>
<line x1="625.17" y1="97.78" x2="650.54" y2="84.24" stroke="#dedede" stroke-width="0.8"/>
<line x1="556.36" y1="110.23" x2="575.59" y2="95.4" stroke="#dedede" stroke-width="0.8"/>
<line x1="543.27" y1="110.78" x2="578.61" y2="89.16" stroke="#dedede" stroke-width="0.8"/>
<line x1="618.25" y1="100.52" x2="648.4" y2="79.27" stroke="#dedede" stroke-width="0.8"/>
<line x1="607.78" y1="77.15" x2="626.79" y2="68.48" stroke="#dedede" stroke-width="0.8"/>
<line x1="611.93" y1="112.71" x2="651.65" y2="78.11" stroke="#dedede" stroke-width="0.8"/>
<line x1="576.64" y1="118.27" x2="609.37" y2="102.92" stroke="#dedede" stroke-width="0.8"/>
<line x1="559.6" y1="113.71" x2="602.22" y2="77.32" stroke="#dedede" stroke-width="0.8"/>
<line x1="628.47" y1="97.93" x2="670.75" y2="71.03" stroke="#dedede" stroke-width="0.8"/>
<line x1="591.22" y1="112.38" x2="629.12" y2="80.17" stroke="#dedede" stroke-width="0.8"/>
<line x1="616.29" y1="111.37" x2="656.4" y2="72.98" stroke="#dedede" stroke-width="0.8"/>
<line x1="551.35" y1="99.27" x2="577.82" y2="74.33" stroke="#dedede" stroke-width="0.8"/>
<line x1="574.23" y1="98.37" x2="616.04" y2="72.73" stroke="#dedede" stroke-width="0.8"/>
<line x1="572.1" y1="116.33" x2="594.28" y2="104.7" stroke="#dedede" stroke-width="0.8"/>
<line x1="606.35" y1="108.12" x2="650.06" y2="87.56" stroke="#dedede" stroke-width="0.8"/>
<line x1="633.72" y1="94.83" x2="665.26" y2="76.77" stroke="#dedede" stroke-width="0.8"/>
<line x1="597.59" y1="98.29" x2="636.83" y2="71.9" stroke="#dedede" stroke-width="0.8"/>
<line x1="548.08" y1="121.61" x2="589.68" y2="92.01" stroke="#dedede" stroke-width="0.8"/>
<line x1="620.08" y1="84.53" x2="641.03" y2="64.44" stroke="#dedede" stroke-width="0.8"/>
<line x1="600.94" y1="110.99" x2="639.17" y2="85.01" stroke="#dedede" stroke-width="0.8"/>
<line x1="556.69" y1="110.43" x2="596.41" y2="83.03" stroke="#dedede" stroke-width="0.8"/>
<line x1="634.88" y1="73.11" x2="674.79" y2="45.57" stroke="#dedede" stroke-width="0.8"/>
<line x1="587.86" y1="98.85" x2="624.55" y2="76.77" stroke="#dedede" stroke-width="0.8"/>
<line x1="580.1" y1="103.85" x2="601.47" y2="82.91" stroke="#dedede" stroke-width="0.8"/>
<line x1="631.24" y1="91.66" x2="665.24" y2="70.33" stroke="#dedede" stroke-width="0.8"/>
<line x1="551.16" y1="92.83" x2="575.84" y2="70.26" stroke="#dedede" stroke-width="0.8"/>
<line x1="576.19" y1="89.39" x2="614.37" y2="58.06" stroke="#dedede" stroke-width="0.8"/>
<line x1="604.04" y1="100.83" x2="641.52" y2="69.87" stroke="#dedede" stroke-width="0.8"/>
<line x1="568.79" y1="90.68" x2="599.08" y2="65.89" stroke="#dedede" stroke-width="0.8"/>
<line x1="569.99" y1="95.04" x2="612.36" y2="62.89" stroke="#dedede" stroke-width="0.8"/>
<line x1="532.48" y1="125.82" x2="557.28" y2="119.83" stroke="#3030f4" stroke-width="0.8"/>
<line x1="582.8" y1="118.38" x2="605.81" y2="84.06" stroke="#ee3030" stroke-width="0.8"/>
<line x1="600.12" y1="80.92" x2="615.75" y2="87.7" stroke="#3030f4" stroke-width="0.8"/>
<line x1="576.92" y1="116.71" x2="597.17" y2="85.47" stroke="#ee3030" stroke-width="0.8"/>
<line x1="576.11" y1="119.64" x2="598.24" y2="112.82" stroke="#3030f4" stroke-width="0.8"/>
<line x1="553.24" y1="121" x2="581.39" y2="110.57" stroke="#3030f4" stroke-width="0.8"/>
<line x1="595.58" y1="122.1" x2="628.38" y2="78.71" stroke="#ee3030" stroke-width="0.8"/>
<line x1="637.64" y1="84.91" x2="650.36" y2="78.99" stroke="#3030f4" stroke-width="0.8"/>
<line x1="637.13" y1="79.02" x2="651.04" y2="73.86" stroke="#3030f4" stroke-width="0.8"/>
<line x1="619.32" y1="89.96" x2="634.05" y2="96.94" stroke="#3030f4" stroke-width="0.8"/>
<line x1="604.08" y1="119.66" x2="633.68" y2="81.67" stroke="#ee3030" stroke-width="0.8"/>
<line x1="571.57" y1="89.64" x2="588.13" y2="57.46" stroke="#ee3030" stroke-width="0.8"/>
<line x1="572.68" y1="104.08" x2="584.49" y2="87.54" stroke="#ee3030" stroke-width="0.8"/>
<line x1="603.51" y1="114.61" x2="627.38" y2="113.73" stroke="#3030f4" stroke-width="0.8"/>
<line x1="570.06" y1="115.22" x2="602.74" y2="65.12" stroke="#ee3030" stroke-width="0.8"/>
<line x1="592.97" y1="80.65" x2="604.81" y2="80.18" stroke="#3030f4" stroke-width="0.8"/>
<line x1="583.33" y1="127.91" x2="608.46" y2="94.75" stroke="#ee3030" stroke-width="0.8"/>
<line x1="622.91" y1="83.08" x2="637.74" y2="75.26" stroke="#3030f4" stroke-width="0.8"/>
<line x1="587.69" y1="111.18" x2="624.04" y2="72.87" stroke="#ee3030" stroke-width="0.8"/>
<line x1="612.04" y1="80.65" x2="618.62" y2="80.88" stroke="#3030f4" stroke-width="0.8"/>
<line x1="579.6" y1="121.1" x2="613.42" y2="111.37" stroke="#3030f4" stroke-width="0.8"/>
<line x1="569.58" y1="110.41" x2="590.01" y2="91.97" stroke="#ee3030" stroke-width="0.8"/>
<line x1="591.62" y1="122.24" x2="630.4" y2="111.61" stroke="#3030f4" stroke-width="0.8"/>
<line x1="596.74" y1="115.97" x2="638.57" y2="115.09" stroke="#3030f4" stroke-width="0.8"/>
<line x1="594.62" y1="100.94" x2="607.98" y2="84.86" stroke="#ee3030" stroke-width="0.8"/>
<line x1="560.35" y1="126.23" x2="598.98" y2="120.53" stroke="#3030f4" stroke-width="0.8"/>
<line x1="579.22" y1="112.57" x2="592.93" y2="91.18" stroke="#ee3030" stroke-width="0.8"/>
<line x1="633.43" y1="86.68" x2="640.26" y2="84.43" stroke="#3030f4" stroke-width="0.8"/>
<line x1="606.19" y1="114.23" x2="636.88" y2="80.41" stroke="#ee3030" stroke-width="0.8"/>
<line x1="636.19" y1="83.86" x2="650.31" y2="75.92" stroke="#3030f4" stroke-width="0.8"/>
<line x1="607.02" y1="91" x2="628.52" y2="98.72" stroke="#3030f4" stroke-width="0.8"/>
<line x1="565.98" y1="88.65" x2="576.72" y2="65.72" stroke="#ee3030" stroke-width="0.8"/>
<line x1="596.63" y1="114.27" x2="621.47" y2="72.26" stroke="#ee3030" stroke-width="0.8"/>
<line x1="617.81" y1="100.98" x2="628.81" y2="101.55" stroke="#3030f4" stroke-width="0.8"/>
<line x1="584.35" y1="114.87" x2="602.5" y2="113.15" stroke="#3030f4" stroke-width="0.8"/>
<line x1="623.62" y1="100.63" x2="644.94" y2="107.71" stroke="#3030f4" stroke-width="0.8"/>
<line x1="576.33" y1="115.13" x2="611.5" y2="65.24" stroke="#ee3030" stroke-width="0.8"/>
<line x1="597.76" y1="113.61" x2="628.88" y2="60.13" stroke="#ee3030" stroke-width="0.8"/>
<line x1="602.66" y1="113.7" x2="627.57" y2="89.72" stroke="#ee3030" stroke-width="0.8"/>
<line x1="608.88" y1="84.49" x2="629.02" y2="81.22" stroke="#3030f4" stroke-width="0.8"/>
<line x1="588.21" y1="97.51" x2="602.51" y2="94.97" stroke="#3030f4" stroke-width="0.8"/>
<line x1="572.56" y1="119.78" x2="585.09" y2="105.81" stroke="#ee3030" stroke-width="0.8"/>
<line x1="621.71" y1="111.01" x2="648.26" y2="71.43" stroke="#ee3030" stroke-width="0.8"/>
<line x1="629.43" y1="100.08" x2="640.03" y2="96.07" stroke="#3030f4" stroke-width="0.8"/>
<line x1="597.61" y1="115.02" x2="629.79" y2="111.68" stroke="#3030f4" stroke-width="0.8"/>
<line x1="551.14" y1="118.97" x2="592.2" y2="116.66" stroke="#3030f4" stroke-width="0.8"/>
<line x1="569.79" y1="76.35" x2="586.45" y2="43.68" stroke="#ee3030" stroke-width="0.8"/>
<line x1="600.56" y1="122.26" x2="616.6" y2="105.8" stroke="#ee3030" stroke-width="0.8"/>
<line x1="574.74" y1="119.19" x2="599.98" y2="88.39" stroke="#ee3030" stroke-width="0.8"/>
<line x1="588.03" y1="117.36" x2="601.57" y2="100.29" stroke="#ee3030" stroke-width="0.8"/>
<line x1="587.45" y1="87.05" x2="598.82" y2="81.19" stroke="#3030f4" stroke-width="0.8"/>
<line x1="572.65" y1="116.28" x2="612.73" y2="114.16" stroke="#3030f4" stroke-width="0.8"/>
<line x1="598.74" y1="103.03" x2="615.58" y2="86.35" stroke="#ee3030" stroke-width="0.8"/>
<line x1="580.9" y1="116.51" x2="595.32" y2="113.82" stroke="#3030f4" stroke-width="0.8"/>
<line x1="534.35" y1="121.47" x2="560.07" y2="121.01" stroke="#3030f4" stroke-width="0.8"/>
<line x1="608.47" y1="113.31" x2="637.39" y2="74.92" stroke="#ee3030" stroke-width="0.8"/>
<line x1="616.29" y1="119.93" x2="647.03" y2="74.35" stroke="#ee3030" stroke-width="0.8"/>
<line x1="629.89" y1="98.08" x2="647.41" y2="101.1" stroke="#3030f4" stroke-width="0.8"/>
<line x1="599.26" y1="76.64" x2="605.84" y2="77.38" stroke="#3030f4" stroke-width="0.8"/>
<line x1="563.49" y1="76.05" x2="573.58" y2="55.54" stroke="#ee3030" stroke-width="0.8"/>
<line x1="594.39" y1="113.34" x2="623.83" y2="76.79" stroke="#ee3030" stroke-width="0.8"/>
<line x1="594.63" y1="84.85" x2="608.45" y2="90.4" stroke="#3030f4" stroke-width="0.8"/>
<line x1="572.57" y1="126.99" x2="592.9" y2="93.42" stroke="#ee3030" stroke-width="0.8"/>
<line x1="588" y1="125.74" x2="619.02" y2="82.86" stroke="#ee3030" stroke-width="0.8"/>
<line x1="575" y1="109.17" x2="607.48" y2="71.31" stroke="#ee3030" stroke-width="0.8"/>
<line x1="572.68" y1="116.72" x2="605.21" y2="110.54" stroke="#3030f4" stroke-width="0.8"/>
<line x1="548.74" y1="125.85" x2="566.83" y2="123.8" stroke="#3030f4" stroke-width="0.8"/>
<line x1="559.17" y1="86.21" x2="571.38" y2="66.8" stroke="#ee3030" stroke-width="0.8"/>
<line x1="576.83" y1="114.47" x2="603.64" y2="86.3" stroke="#ee3030" stroke-width="0.8"/>
<line x1="589.05" y1="98.96" x2="602.26" y2="105.65" stroke="#3030f4" stroke-width="0.8"/>
<line x1="544.79" y1="129.7" x2="564.99" y2="129.08" stroke="#3030f4" stroke-width="0.8"/>
<line x1="630.29" y1="92.17" x2="651.63" y2="82.83" stroke="#3030f4" stroke-width="0.8"/>
<line x1="575.09" y1="119.39" x2="608.01" y2="111.55" stroke="#3030f4" stroke-width="0.8"/>
<line x1="602.23" y1="116.61" x2="644.84" y2="101.25" stroke="#3030f4" stroke-width="0.8"/>
<line x1="619.15" y1="102.02" x2="638.16" y2="69.47" stroke="#ee3030" stroke-width="0.8"/>
<line x1="576.4" y1="111.15" x2="601.89" y2="72.33" stroke="#ee3030" stroke-width="0.8"/>
<line x1="587.91" y1="125.38" x2="601.15" y2="109.44" stroke="#ee3030" stroke-width="0.8"/>
<line x1="574.63" y1="123.49" x2="587.79" y2="106.79" stroke="#ee3030" stroke-width="0.8"/>
<line x1="627.17" y1="109.13" x2="643.79" y2="90.29" stroke="#ee3030" stroke-width="0.8"/>
<line x1="541.66" y1="125.63" x2="566.63" y2="116.96" stroke="#3030f4" stroke-width="0.8"/>
<line x1="621.82" y1="110.62" x2="633.04" y2="95.57" stroke="#ee3030" stroke-width="0.8"/>
<line x1="606.18" y1="98.01" x2="623.19" y2="96.72" stroke="#3030f4" stroke-width="0.8"/>
<line x1="628.19" y1="115.01" x2="655.77" y2="71.76" stroke="#ee3030" stroke-width="0.8"/>
<line x1="570.55" y1="122.97" x2="604.28" y2="116.8" stroke="#3030f4" stroke-width="0.8"/>
<line x1="621.64" y1="101.28" x2="640.87" y2="90.39" stroke="#3030f4" stroke-width="0.8"/>
<line x1="557.46" y1="118.6" x2="576.1" y2="113.36" stroke="#3030f4" stroke-width="0.8"/>
<line x1="565.71" y1="126.51" x2="607.2" y2="120.48" stroke="#3030f4" stroke-width="0.8"/>
<line x1="537.86" y1="123.72" x2="569.86" y2="121.94" stroke="#3030f4" stroke-width="0.8"/>
<line x1="570.71" y1="119.74" x2="593.99" y2="118.33" stroke="#3030f4" stroke-width="0.8"/>
<line x1="581.38" y1="118.26" x2="600.66" y2="100.68" stroke="#ee3030" stroke-width="0.8"/>
<line x1="582.95" y1="114.5" x2="617.45" y2="76.56" stroke="#ee3030" stroke-width="0.8"/>
<line x1="559.66" y1="70.35" x2="567.59" y2="59.78" stroke="#ee3030" stroke-width="0.8"/>
<line x1="612.15" y1="98.41" x2="647.02" y2="48.47" stroke="#ee3030" stroke-width="0.8"/>
<line x1="591.24" y1="83.24" x2="599.41" y2="86.87" stroke="#3030f4" stroke-width="0.8"/>
<line x1="533.85" y1="129.91" x2="556.72" y2="128.28" stroke="#3030f4" stroke-width="0.8"/>
<line x1="613.96" y1="85.36" x2="630.57" y2="80.64" stroke="#3030f4" stroke-width="0.8"/>
<line x1="599.67" y1="94.48" x2="608.95" y2="89.11" stroke="#3030f4" stroke-width="0.8"/>
<line x1="636.81" y1="81.99" x2="645.74" y2="84.19" stroke="#3030f4" stroke-width="0.8"/>
<line x1="633.61" y1="91.45" x2="647.74" y2="96.02" stroke="#3030f4" stroke-width="0.8"/>
<line x1="533.97" y1="122.59" x2="551.74" y2="118.16" stroke="#3030f4" stroke-width="0.8"/>
<line x1="594.34" y1="118.36" x2="618.4" y2="82.13" stroke="#ee3030" stroke-width="0.8"/>
<line x1="585.55" y1="101.42" x2="618.58" y2="47.18" stroke="#ee3030" stroke-width="0.8"/>
<line x1="620.79" y1="79.6" x2="633.45" y2="77.44" stroke="#3030f4" stroke-width="0.8"/>
<line x1="599.3" y1="77.38" x2="614.29" y2="80.51" stroke="#3030f4" stroke-width="0.8"/>
<line x1="611.63" y1="97.78" x2="628.6" y2="72.22" stroke="#ee3030" stroke-width="0.8"/>
<line x1="566.75" y1="71.24" x2="581.31" y2="43.68" stroke="#ee3030" stroke-width="0.8"/>
<line x1="554.63" y1="120.61" x2="578.47" y2="116.99" stroke="#3030f4" stroke-width="0.8"/>
<line x1="632.95" y1="102.5" x2="646.62" y2="80.48" stroke="#ee3030" stroke-width="0.8"/>
<line x1="622.88" y1="98.88" x2="647.61" y2="56.64" stroke="#ee3030" stroke-width="0.8"/>
<line x1="591.7" y1="114.69" x2="629.51" y2="108.22" stroke="#3030f4" stroke-width="0.8"/>
<line x1="587.05" y1="125.05" x2="610.55" y2="83.65" stroke="#ee3030" stroke-width="0.8"/>
<line x1="551.92" y1="122.1" x2="579.3" y2="118.2" stroke="#3030f4" stroke-width="0.8"/>
<line x1="592.11" y1="110.88" x2="619.89" y2="103.3" stroke="#3030f4" stroke-width="0.8"/>
<line x1="608.3" y1="106" x2="637.39" y2="61.36" stroke="#ee3030" stroke-width="0.8"/>
<line x1="618.67" y1="106.4" x2="652.55" y2="56.64" stroke="#ee3030" stroke-width="0.8"/>
<line x1="585.36" y1="126.32" x2="614.72" y2="99.01" stroke="#ee3030" stroke-width="0.8"/>
<line x1="607" y1="111.77" x2="639.42" y2="64.14" stroke="#ee3030" stroke-width="0.8"/>
<line x1="577.8" y1="127.69" x2="593.2" y2="110.43" stroke="#ee3030" stroke-width="0.8"/>
<line x1="573.36" y1="115.07" x2="606.13" y2="60.42" stroke="#ee3030" stroke-width="0.8"/>
<line x1="593.98" y1="109.4" x2="624" y2="58.42" stroke="#ee3030" stroke-width="0.8"/>
<line x1="556.64" y1="82.7" x2="563.25" y2="72.01" stroke="#ee3030" stroke-width="0.8"/>
<line x1="599.35" y1="114.89" x2="623.88" y2="91.95" stroke="#ee3030" stroke-width="0.8"/>
<line x1="602.31" y1="116.79" x2="625.01" y2="112.6" stroke="#3030f4" stroke-width="0.8"/>
<line x1="621.61" y1="112.08" x2="650.5" y2="64.29" stroke="#ee3030" stroke-width="0.8"/>
<line x1="580.38" y1="126.3" x2="610.19" y2="76.01" stroke="#ee3030" stroke-width="0.8"/>
<line x1="622.56" y1="95.74" x2="631.16" y2="90.92" stroke="#3030f4" stroke-width="0.8"/>
<line x1="600.42" y1="74.45" x2="615.68" y2="75.98" stroke="#3030f4" stroke-width="0.8"/>
<line x1="575.51" y1="124.25" x2="605.36" y2="120.25" stroke="#3030f4" stroke-width="0.8"/>
<line x1="625.15" y1="97.18" x2="645.39" y2="95.24" stroke="#3030f4" stroke-width="0.8"/>
<line x1="572.55" y1="119.15" x2="589.75" y2="93.71" stroke="#ee3030" stroke-width="0.8"/>
<line x1="589.34" y1="125.81" x2="601.28" y2="104.91" stroke="#ee3030" stroke-width="0.8"/>
<line x1="603.11" y1="115.02" x2="625.03" y2="110.9" stroke="#3030f4" stroke-width="0.8"/>
<line x1="607.06" y1="115.71" x2="626.87" y2="83.22" stroke="#ee3030" stroke-width="0.8"/>
<line x1="601.08" y1="102.34" x2="637.19" y2="60.09" stroke="#ee3030" stroke-width="0.8"/>
<line x1="638.06" y1="75.14" x2="653.71" y2="74.6" stroke="#3030f4" stroke-width="0.8"/>
<line x1="627.5" y1="113.92" x2="646.48" y2="92.57" stroke="#ee3030" stroke-width="0.8"/>
<line x1="588.31" y1="81.64" x2="595.82" y2="84.75" stroke="#3030f4" stroke-width="0.8"/>
<line x1="537.04" y1="130.74" x2="556.39" y2="130.44" stroke="#3030f4" stroke-width="0.8"/>
</g>
<rect x="523.4" y="34.4" width="156.6" height="101.6" fill="none" stroke="#8a8a8a" stroke-width="1"/>
<line x1="519.1" y1="134.4" x2="523.4" y2="134.4" stroke="#777777" stroke-width="0.8"/>
<text x="518.1" y="137.06" font-size="7.4" text-anchor="end" fill="#2a2a2a">0</text>
<line x1="519.1" y1="107.4" x2="523.4" y2="107.4" stroke="#777777" stroke-width="0.8"/>
<text x="518.1" y="110.06" font-size="7.4" text-anchor="end" fill="#2a2a2a">25</text>
<line x1="519.1" y1="80.4" x2="523.4" y2="80.4" stroke="#777777" stroke-width="0.8"/>
<text x="518.1" y="83.06" font-size="7.4" text-anchor="end" fill="#2a2a2a">50</text>
<line x1="519.1" y1="53.4" x2="523.4" y2="53.4" stroke="#777777" stroke-width="0.8"/>
<text x="518.1" y="56.06" font-size="7.4" text-anchor="end" fill="#2a2a2a">75</text>
<line x1="534.2" y1="136" x2="534.2" y2="140.3" stroke="#777777" stroke-width="0.8"/>
<text x="534.2" y="147.3" font-size="7.4" text-anchor="middle" fill="#2a2a2a">20</text>
<line x1="578" y1="136" x2="578" y2="140.3" stroke="#777777" stroke-width="0.8"/>
<text x="578" y="147.3" font-size="7.4" text-anchor="middle" fill="#2a2a2a">40</text>
<line x1="621.8" y1="136" x2="621.8" y2="140.3" stroke="#777777" stroke-width="0.8"/>
<text x="621.8" y="147.3" font-size="7.4" text-anchor="middle" fill="#2a2a2a">60</text>
<line x1="665.6" y1="136" x2="665.6" y2="140.3" stroke="#777777" stroke-width="0.8"/>
<text x="665.6" y="147.3" font-size="7.4" text-anchor="middle" fill="#2a2a2a">80</text>
<text x="502.5" y="86" font-size="9" text-anchor="middle" transform="rotate(-90 502.5 86)">CombiWISE</text>
<text x="601.6" y="158" font-size="9" text-anchor="middle">age</text>
<line x1="622.4" y1="90" x2="636.6" y2="50" stroke="#1e6e1e" stroke-width="1.5"/>
<line x1="649.5" y1="47.6" x2="642.64" y2="50.16" stroke="#2a7a1a" stroke-width="1.4"/>
<path d="M638.8 51.6 L642.2 47.55 L644.02 52.42 Z" fill="#2a7a1a"/>
<text x="661" y="48" font-size="8.4" text-anchor="middle" fill="#2a7a2a">slope</text>
<text x="661" y="57" font-size="8.4" text-anchor="middle" fill="#2a7a2a">example</text>
<rect x="654" y="105.6" width="25" height="30" fill="#ffffff" stroke="#444" stroke-width="0.9"/>
<text x="655.5" y="114.6" font-size="8" fill="#3333ff">T1</text>
<line x1="671" y1="112.2" x2="676" y2="112.2" stroke="#3333ff" stroke-width="1.2"/>
<text x="655.5" y="123" font-size="8" fill="#c0c0c0">T2</text>
<line x1="671" y1="120.4" x2="676" y2="120.4" stroke="#c0c0c0" stroke-width="1.2"/>
<text x="655.5" y="132" font-size="8" fill="#ff2a2a">T3</text>
<line x1="671" y1="129.4" x2="676" y2="129.4" stroke="#ff2a2a" stroke-width="1.2"/>
<text x="649" y="132.4" font-size="7.6" text-anchor="end">n=213</text>
<text x="2" y="182.6" font-size="14" fill="#000" font-weight="bold">c</text>
<text x="155" y="179.3" font-size="8" text-anchor="end">Protein/Pathway</text>
<rect x="164" y="185.55" width="68.4" height="3.7" fill="#add8e0"/>
<line x1="156.6" y1="187.4" x2="159.6" y2="187.4" stroke="#777777" stroke-width="0.8"/>
<text x="156" y="190" font-size="7.9" text-anchor="end">Costimulation by the CD28 family</text>
<rect x="164" y="193.23" width="53.4" height="3.7" fill="#add8e0"/>
<line x1="156.6" y1="195.08" x2="159.6" y2="195.08" stroke="#777777" stroke-width="0.8"/>
<text x="156" y="197.68" font-size="7.9" text-anchor="end">Interaction of Lymph. vs non-Lymph. cell</text>
<rect x="164" y="200.91" width="69.6" height="3.7" fill="#add8e0"/>
<line x1="156.6" y1="202.76" x2="159.6" y2="202.76" stroke="#777777" stroke-width="0.8"/>
<text x="156" y="205.36" font-size="7.9" text-anchor="end">WNT/b-catenin Signaling</text>
<rect x="164" y="208.59" width="94.6" height="3.7" fill="#add8e0"/>
<line x1="156.6" y1="210.44" x2="159.6" y2="210.44" stroke="#777777" stroke-width="0.8"/>
<text x="156" y="213.04" font-size="7.9" text-anchor="end">Hepatic Fibrosis Signaling Pathway</text>
<rect x="164" y="216.27" width="79.6" height="3.7" fill="#add8e0"/>
<line x1="156.6" y1="218.12" x2="159.6" y2="218.12" stroke="#777777" stroke-width="0.8"/>
<text x="156" y="220.72" font-size="7.9" text-anchor="end">IL-2 family signaling</text>
<rect x="164" y="223.95" width="78.4" height="3.7" fill="#add8e0"/>
<line x1="156.6" y1="225.8" x2="159.6" y2="225.8" stroke="#777777" stroke-width="0.8"/>
<text x="156" y="228.4" font-size="7.9" text-anchor="end">IL-3,IL-5 and GM-CSF signaling</text>
<rect x="164" y="231.63" width="64.4" height="3.7" fill="#add8e0"/>
<line x1="156.6" y1="233.48" x2="159.6" y2="233.48" stroke="#777777" stroke-width="0.8"/>
<text x="156" y="236.08" font-size="7.9" text-anchor="end">Response to elev. platelet cytosolic Ca2+</text>
<rect x="164" y="239.31" width="35.4" height="3.7" fill="#e9a228"/>
<line x1="156.6" y1="241.16" x2="159.6" y2="241.16" stroke="#777777" stroke-width="0.8"/>
<text x="156" y="243.76" font-size="7.9" text-anchor="end">AMELX</text>
<rect x="164" y="246.99" width="25" height="3.7" fill="#e9a228"/>
<line x1="156.6" y1="248.84" x2="159.6" y2="248.84" stroke="#777777" stroke-width="0.8"/>
<text x="156" y="251.44" font-size="7.9" text-anchor="end">TNFRSF1B</text>
<rect x="164" y="254.67" width="53.6" height="3.7" fill="#add8e0"/>
<line x1="156.6" y1="256.52" x2="159.6" y2="256.52" stroke="#777777" stroke-width="0.8"/>
<text x="156" y="259.12" font-size="7.9" text-anchor="end">DAP12 interactions</text>
<rect x="164" y="262.35" width="31.2" height="3.7" fill="#e9a228"/>
<line x1="156.6" y1="264.2" x2="159.6" y2="264.2" stroke="#777777" stroke-width="0.8"/>
<text x="156" y="266.8" font-size="7.9" text-anchor="end">CD40</text>
<rect x="164" y="270.03" width="29" height="3.7" fill="#e9a228"/>
<line x1="156.6" y1="271.88" x2="159.6" y2="271.88" stroke="#777777" stroke-width="0.8"/>
<text x="156" y="274.48" font-size="7.9" text-anchor="end">TREM1</text>
<rect x="164" y="277.71" width="60.6" height="3.7" fill="#e9a228"/>
<line x1="156.6" y1="279.56" x2="159.6" y2="279.56" stroke="#777777" stroke-width="0.8"/>
<text x="156" y="282.16" font-size="7.9" text-anchor="end">IL5RA</text>
<rect x="164" y="285.39" width="32.4" height="3.7" fill="#add8e0"/>
<line x1="156.6" y1="287.24" x2="159.6" y2="287.24" stroke="#777777" stroke-width="0.8"/>
<text x="156" y="289.84" font-size="7.9" text-anchor="end">IL-6 Signaling</text>
<rect x="164" y="293.07" width="104" height="3.7" fill="#add8e0"/>
<line x1="156.6" y1="294.92" x2="159.6" y2="294.92" stroke="#777777" stroke-width="0.8"/>
<text x="156" y="297.52" font-size="7.9" text-anchor="end">Molecular Mechanisms of Cancer</text>
<rect x="164" y="300.75" width="14.6" height="3.7" fill="#e9a228"/>
<line x1="156.6" y1="302.6" x2="159.6" y2="302.6" stroke="#777777" stroke-width="0.8"/>
<text x="156" y="305.2" font-size="7.9" text-anchor="end">FCGR3B</text>
<line x1="191.4" y1="183" x2="191.4" y2="306.4" stroke="#2e8b2e" stroke-width="0.9" stroke-dasharray="2.2,2"/>
<circle cx="216.4" cy="187.4" r="2.2" fill="#1a6e1a"/>
<circle cx="199.8" cy="195.08" r="2.2" fill="#1a6e1a"/>
<circle cx="199.8" cy="202.76" r="2.2" fill="#1a6e1a"/>
<circle cx="199.6" cy="210.44" r="2.2" fill="#1a6e1a"/>
<circle cx="199.6" cy="218.12" r="2.2" fill="#1a6e1a"/>
<circle cx="199.6" cy="225.8" r="2.2" fill="#1a6e1a"/>
<circle cx="199.6" cy="233.48" r="2.2" fill="#1a6e1a"/>
<circle cx="194.6" cy="241.16" r="2.2" fill="#1a6e1a"/>
<circle cx="194.4" cy="248.84" r="2.2" fill="#1a6e1a"/>
<circle cx="192.2" cy="256.52" r="2.2" fill="#1a6e1a"/>
<circle cx="192" cy="264.2" r="2.2" fill="#1a6e1a"/>
<circle cx="192" cy="271.88" r="2.2" fill="#1a6e1a"/>
<circle cx="192" cy="279.56" r="2.2" fill="#1a6e1a"/>
<circle cx="192" cy="287.24" r="2.2" fill="#1a6e1a"/>
<circle cx="192" cy="294.92" r="2.2" fill="#1a6e1a"/>
<circle cx="192" cy="302.6" r="2.2" fill="#1a6e1a"/>
<rect x="159.6" y="183" width="113.2" height="123.4" fill="none" stroke="#555" stroke-width="1"/>
<line x1="183.6" y1="180" x2="183.6" y2="183" stroke="#2e8b2e" stroke-width="0.8"/>
<text x="183.6" y="179.4" font-size="7.2" text-anchor="middle" fill="#2e8b2e">1.0</text>
<line x1="216" y1="180" x2="216" y2="183" stroke="#2e8b2e" stroke-width="0.8"/>
<text x="216" y="179.4" font-size="7.2" text-anchor="middle" fill="#2e8b2e">3.0</text>
<line x1="249.6" y1="180" x2="249.6" y2="183" stroke="#2e8b2e" stroke-width="0.8"/>
<text x="249.6" y="179.4" font-size="7.2" text-anchor="middle" fill="#2e8b2e">10.0</text>
<text x="216" y="172.2" font-size="7.8" text-anchor="middle" fill="#2e8b2e">-log10(p-value)</text>
<line x1="164" y1="306.4" x2="164" y2="309.9" stroke="#777777" stroke-width="0.8"/>
<text x="164" y="315.4" font-size="7.2" text-anchor="middle" fill="#2a2a2a">1</text>
<line x1="195.6" y1="306.4" x2="195.6" y2="309.9" stroke="#777777" stroke-width="0.8"/>
<text x="195.6" y="315.4" font-size="7.2" text-anchor="middle" fill="#2a2a2a">3</text>
<line x1="230" y1="306.4" x2="230" y2="309.9" stroke="#777777" stroke-width="0.8"/>
<text x="230" y="315.4" font-size="7.2" text-anchor="middle" fill="#2a2a2a">10</text>
<line x1="261.5" y1="306.4" x2="261.5" y2="309.9" stroke="#777777" stroke-width="0.8"/>
<text x="261.5" y="315.4" font-size="7.2" text-anchor="middle" fill="#2a2a2a">30</text>
<text x="214.4" y="325.4" font-size="8.1" text-anchor="middle">difference in marker @ 1<tspan font-size="5.02" dy="-2.92">st</tspan><tspan dy="2.92"> LP</tspan></text>
<text x="214.4" y="335" font-size="8.1" text-anchor="middle">between <tspan fill="#ff2a2a">T3</tspan> and <tspan fill="#3333ff">T1</tspan> (log10)</text>
<rect x="230.6" y="243.2" width="40" height="21.3" fill="#fff" stroke="#444" stroke-width="0.9"/>
<rect x="233" y="246.6" width="4.4" height="4.4" fill="#add8e0"/>
<text x="239" y="251.6" font-size="8">pathway</text>
<rect x="233" y="256.2" width="4.4" height="4.4" fill="#e9a228"/>
<text x="239" y="261.4" font-size="8">protein</text>
<text x="291" y="182.4" font-size="14" fill="#000" font-weight="bold">d</text>
<rect x="306.1" y="183.8" width="12.5" height="126.2" fill="url(#gdy)"/>
<rect x="318.6" y="310" width="96.2" height="8" fill="url(#gdx)"/>
<line x1="322.4" y1="184.4" x2="322.4" y2="309" stroke="#cfcfcf" stroke-width="0.7" stroke-dasharray="1.5,1.5"/>
<line x1="318.6" y1="301" x2="414" y2="301" stroke="#cfcfcf" stroke-width="0.7" stroke-dasharray="1.5,1.5"/>
<path d="M323 299.5 L360 252 L411 188 L411 216 L392 232 L360 262 L323 298.5 Z" fill="#eceeec"/>
<line x1="323.5" y1="298.5" x2="410" y2="200.4" stroke="#333" stroke-width="0.9"/>
<line x1="373.6" y1="221.4" x2="385.8" y2="238.4" stroke="#333" stroke-width="0.8"/>
<line x1="370" y1="279.2" x2="325" y2="297.4" stroke="#333" stroke-width="0.8"/>
<circle cx="327.7" cy="285" r="2" fill="#a8dce8" stroke="#333" stroke-width="0.6"/>
<circle cx="335.9" cy="264.9" r="2" fill="#a8dce8" stroke="#333" stroke-width="0.6"/>
<circle cx="335.9" cy="278.4" r="2" fill="#a8dce8" stroke="#333" stroke-width="0.6"/>
<circle cx="342.9" cy="271.7" r="2" fill="#a8dce8" stroke="#333" stroke-width="0.6"/>
<circle cx="346.4" cy="275.2" r="2" fill="#a8dce8" stroke="#333" stroke-width="0.6"/>
<circle cx="347.7" cy="276.6" r="2" fill="#a8dce8" stroke="#333" stroke-width="0.6"/>
<circle cx="357.5" cy="253.3" r="2" fill="#a8dce8" stroke="#333" stroke-width="0.6"/>
<circle cx="359.2" cy="257.7" r="2" fill="#a8dce8" stroke="#333" stroke-width="0.6"/>
<circle cx="385.8" cy="238.4" r="2" fill="#a8dce8" stroke="#333" stroke-width="0.6"/>
<circle cx="409.5" cy="200" r="2" fill="#a8dce8" stroke="#333" stroke-width="0.6"/>
<path d="M323.8 295.1 L321.4 299.3 L326.2 299.3 Z" fill="#e9a228" stroke="#333" stroke-width="0.5"/>
<path d="M328 293.5 L325.6 297.7 L330.4 297.7 Z" fill="#e9a228" stroke="#333" stroke-width="0.5"/>
<path d="M327.2 301.1 L324.8 305.3 L329.6 305.3 Z" fill="#e9a228" stroke="#333" stroke-width="0.5"/>
<rect x="318.6" y="184.4" width="95.4" height="124.6" fill="none" stroke="#8a8a8a" stroke-width="1"/>
<line x1="316" y1="301" x2="318.6" y2="301" stroke="#777" stroke-width="0.7"/>
<text x="316" y="303.5" font-size="7" text-anchor="end" fill="#444">0.0</text>
<line x1="316" y1="272.6" x2="318.6" y2="272.6" stroke="#777" stroke-width="0.7"/>
<text x="316" y="275.1" font-size="7" text-anchor="end" fill="#444">0.2</text>
<line x1="316" y1="244.2" x2="318.6" y2="244.2" stroke="#777" stroke-width="0.7"/>
<text x="316" y="246.7" font-size="7" text-anchor="end" fill="#444">0.4</text>
<line x1="316" y1="215.8" x2="318.6" y2="215.8" stroke="#777" stroke-width="0.7"/>
<text x="316" y="218.3" font-size="7" text-anchor="end" fill="#444">0.6</text>
<line x1="316" y1="187.4" x2="318.6" y2="187.4" stroke="#777" stroke-width="0.7"/>
<text x="316" y="189.9" font-size="7" text-anchor="end" fill="#444">0.8</text>
<line x1="322.4" y1="309" x2="322.4" y2="311.5" stroke="#777" stroke-width="0.7"/>
<text x="322.4" y="316.6" font-size="7" text-anchor="middle" fill="#444">0</text>
<line x1="346.5" y1="309" x2="346.5" y2="311.5" stroke="#777" stroke-width="0.7"/>
<text x="346.5" y="316.6" font-size="7" text-anchor="middle" fill="#444">10</text>
<line x1="370.6" y1="309" x2="370.6" y2="311.5" stroke="#777" stroke-width="0.7"/>
<text x="370.6" y="316.6" font-size="7" text-anchor="middle" fill="#444">20</text>
<line x1="394.7" y1="309" x2="394.7" y2="311.5" stroke="#777" stroke-width="0.7"/>
<text x="394.7" y="316.6" font-size="7" text-anchor="middle" fill="#444">30</text>
<text x="337.7" y="193.9" font-size="8.2">R<tspan font-size="5.08" dy="-2.95">2</tspan><tspan dy="2.95">=0.92, p=1.0e-09</tspan></text>
<rect x="321.4" y="202.2" width="70" height="19.2" fill="#fff" stroke="#777" stroke-width="0.8" rx="2.5"/>
<text x="356.4" y="210.4" font-size="8.2" text-anchor="middle">Hepatic Fibrosis</text>
<text x="356.4" y="218.9" font-size="8.2" text-anchor="middle">Signaling Pathway</text>
<rect x="358.3" y="267.9" width="43" height="11.3" fill="#fff" stroke="#777" stroke-width="0.8" rx="2.5"/>
<text x="379.8" y="276.6" font-size="8.2" text-anchor="middle">TNFRSF1B</text>
<rect x="372.7" y="286.2" width="40.3" height="21.9" fill="#fff" stroke="#444" stroke-width="0.9"/>
<circle cx="377.6" cy="292" r="2.3" fill="#a8dce8" stroke="#333" stroke-width="0.6"/>
<text x="381.5" y="294.8" font-size="8.2">pathway</text>
<path d="M377.6 300.8 L375.1 305 L380.1 305 Z" fill="#e9a228" stroke="#333" stroke-width="0.5"/>
<text x="381.5" y="305.3" font-size="8.2">protein</text>
<text x="290.5" y="248" font-size="9.2" text-anchor="middle" transform="rotate(-90 290.5 248)">cross-sectional</text>
<text x="299.8" y="247" font-size="9.2" text-anchor="middle" transform="rotate(-90 299.8 247)">CombiWISE coefficient</text>
<text x="366" y="325" font-size="8.1" text-anchor="middle">difference in marker @ 1<tspan font-size="5.02" dy="-2.92">st</tspan><tspan dy="2.92"> LP</tspan></text>
<text x="366" y="334.4" font-size="8.1" text-anchor="middle">between <tspan fill="#ff2a2a">T3</tspan> and <tspan fill="#3333ff">T1</tspan></text>
<rect x="456.4" y="183.6" width="99.6" height="124" fill="none" stroke="#8a8a8a" stroke-width="1"/>
<line x1="456.4" y1="278.4" x2="556" y2="278.4" stroke="#b8b8b8" stroke-width="1.1" stroke-dasharray="4,3"/>
<circle cx="475.68" cy="254" r="1.8" fill="#3a3af6" stroke="#2424c0" stroke-width="0.4" fill-opacity="0.5"/>
<circle cx="481.99" cy="245.28" r="1.8" fill="#3a3af6" stroke="#2424c0" stroke-width="0.4" fill-opacity="0.5"/>
<circle cx="480.47" cy="243.87" r="1.8" fill="#3a3af6" stroke="#2424c0" stroke-width="0.4" fill-opacity="0.5"/>
<circle cx="484.07" cy="255.7" r="1.8" fill="#3a3af6" stroke="#2424c0" stroke-width="0.4" fill-opacity="0.5"/>
<circle cx="487.06" cy="238.74" r="1.8" fill="#3a3af6" stroke="#2424c0" stroke-width="0.4" fill-opacity="0.5"/>
<circle cx="480.82" cy="235.1" r="1.8" fill="#3a3af6" stroke="#2424c0" stroke-width="0.4" fill-opacity="0.5"/>
<circle cx="487.19" cy="231.83" r="1.8" fill="#3a3af6" stroke="#2424c0" stroke-width="0.4" fill-opacity="0.5"/>
<circle cx="488.96" cy="265.19" r="1.8" fill="#3a3af6" stroke="#2424c0" stroke-width="0.4" fill-opacity="0.5"/>
<circle cx="487.34" cy="238.33" r="1.8" fill="#3a3af6" stroke="#2424c0" stroke-width="0.4" fill-opacity="0.5"/>
<circle cx="483.98" cy="231.69" r="1.8" fill="#3a3af6" stroke="#2424c0" stroke-width="0.4" fill-opacity="0.5"/>
<circle cx="488.47" cy="279.5" r="1.8" fill="#3a3af6" stroke="#2424c0" stroke-width="0.4" fill-opacity="0.5"/>
<circle cx="489.89" cy="237.74" r="1.8" fill="#3a3af6" stroke="#2424c0" stroke-width="0.4" fill-opacity="0.5"/>
<circle cx="479.28" cy="276.94" r="1.8" fill="#3a3af6" stroke="#2424c0" stroke-width="0.4" fill-opacity="0.5"/>
<circle cx="481.37" cy="246.19" r="1.8" fill="#3a3af6" stroke="#2424c0" stroke-width="0.4" fill-opacity="0.5"/>
<circle cx="484.54" cy="260.95" r="1.8" fill="#3a3af6" stroke="#2424c0" stroke-width="0.4" fill-opacity="0.5"/>
<circle cx="486.49" cy="275.72" r="1.8" fill="#3a3af6" stroke="#2424c0" stroke-width="0.4" fill-opacity="0.5"/>
<circle cx="488.36" cy="243.47" r="1.8" fill="#3a3af6" stroke="#2424c0" stroke-width="0.4" fill-opacity="0.5"/>
<circle cx="484.16" cy="273.49" r="1.8" fill="#3a3af6" stroke="#2424c0" stroke-width="0.4" fill-opacity="0.5"/>
<circle cx="487.39" cy="265.59" r="1.8" fill="#3a3af6" stroke="#2424c0" stroke-width="0.4" fill-opacity="0.5"/>
<circle cx="479.85" cy="244.96" r="1.8" fill="#3a3af6" stroke="#2424c0" stroke-width="0.4" fill-opacity="0.5"/>
<circle cx="487.44" cy="268.11" r="1.8" fill="#3a3af6" stroke="#2424c0" stroke-width="0.4" fill-opacity="0.5"/>
<circle cx="481.72" cy="236.52" r="1.8" fill="#3a3af6" stroke="#2424c0" stroke-width="0.4" fill-opacity="0.5"/>
<circle cx="487.87" cy="257.76" r="1.8" fill="#3a3af6" stroke="#2424c0" stroke-width="0.4" fill-opacity="0.5"/>
<circle cx="476.84" cy="276.02" r="1.8" fill="#3a3af6" stroke="#2424c0" stroke-width="0.4" fill-opacity="0.5"/>
<circle cx="487.49" cy="248.73" r="1.8" fill="#3a3af6" stroke="#2424c0" stroke-width="0.4" fill-opacity="0.5"/>
<circle cx="475.8" cy="255.32" r="1.8" fill="#3a3af6" stroke="#2424c0" stroke-width="0.4" fill-opacity="0.5"/>
<circle cx="486.35" cy="249.04" r="1.8" fill="#3a3af6" stroke="#2424c0" stroke-width="0.4" fill-opacity="0.5"/>
<circle cx="480.25" cy="276.62" r="1.8" fill="#3a3af6" stroke="#2424c0" stroke-width="0.4" fill-opacity="0.5"/>
<circle cx="483.06" cy="272.8" r="1.8" fill="#3a3af6" stroke="#2424c0" stroke-width="0.4" fill-opacity="0.5"/>
<circle cx="478.79" cy="262.17" r="1.8" fill="#3a3af6" stroke="#2424c0" stroke-width="0.4" fill-opacity="0.5"/>
<circle cx="475.88" cy="242.53" r="1.8" fill="#3a3af6" stroke="#2424c0" stroke-width="0.4" fill-opacity="0.5"/>
<circle cx="491.09" cy="260.62" r="1.8" fill="#3a3af6" stroke="#2424c0" stroke-width="0.4" fill-opacity="0.5"/>
<circle cx="478.96" cy="249.04" r="1.8" fill="#3a3af6" stroke="#2424c0" stroke-width="0.4" fill-opacity="0.5"/>
<circle cx="484.9" cy="232.67" r="1.8" fill="#3a3af6" stroke="#2424c0" stroke-width="0.4" fill-opacity="0.5"/>
<circle cx="490.84" cy="254.41" r="1.8" fill="#3a3af6" stroke="#2424c0" stroke-width="0.4" fill-opacity="0.5"/>
<circle cx="483.74" cy="260.62" r="1.8" fill="#3a3af6" stroke="#2424c0" stroke-width="0.4" fill-opacity="0.5"/>
<circle cx="479.3" cy="239.37" r="1.8" fill="#3a3af6" stroke="#2424c0" stroke-width="0.4" fill-opacity="0.5"/>
<circle cx="476" cy="236.41" r="1.8" fill="#3a3af6" stroke="#2424c0" stroke-width="0.4" fill-opacity="0.5"/>
<circle cx="482.81" cy="253.73" r="1.8" fill="#3a3af6" stroke="#2424c0" stroke-width="0.4" fill-opacity="0.5"/>
<circle cx="481.1" cy="246.35" r="1.8" fill="#3a3af6" stroke="#2424c0" stroke-width="0.4" fill-opacity="0.5"/>
<circle cx="475.63" cy="261.04" r="1.8" fill="#3a3af6" stroke="#2424c0" stroke-width="0.4" fill-opacity="0.5"/>
<circle cx="477.52" cy="241.21" r="1.8" fill="#3a3af6" stroke="#2424c0" stroke-width="0.4" fill-opacity="0.5"/>
<circle cx="490.03" cy="239.5" r="1.8" fill="#3a3af6" stroke="#2424c0" stroke-width="0.4" fill-opacity="0.5"/>
<circle cx="481.89" cy="251.22" r="1.8" fill="#3a3af6" stroke="#2424c0" stroke-width="0.4" fill-opacity="0.5"/>
<circle cx="481.37" cy="237.81" r="1.8" fill="#3a3af6" stroke="#2424c0" stroke-width="0.4" fill-opacity="0.5"/>
<circle cx="476.37" cy="249.18" r="1.8" fill="#3a3af6" stroke="#2424c0" stroke-width="0.4" fill-opacity="0.5"/>
<circle cx="480.17" cy="260.93" r="1.8" fill="#3a3af6" stroke="#2424c0" stroke-width="0.4" fill-opacity="0.5"/>
<circle cx="479.85" cy="233.19" r="1.8" fill="#3a3af6" stroke="#2424c0" stroke-width="0.4" fill-opacity="0.5"/>
<circle cx="481.57" cy="267.83" r="1.8" fill="#3a3af6" stroke="#2424c0" stroke-width="0.4" fill-opacity="0.5"/>
<circle cx="488.59" cy="241.83" r="1.8" fill="#3a3af6" stroke="#2424c0" stroke-width="0.4" fill-opacity="0.5"/>
<circle cx="490.65" cy="280.91" r="1.8" fill="#3a3af6" stroke="#2424c0" stroke-width="0.4" fill-opacity="0.5"/>
<circle cx="476.39" cy="277.41" r="1.8" fill="#3a3af6" stroke="#2424c0" stroke-width="0.4" fill-opacity="0.5"/>
<circle cx="487.64" cy="272.55" r="1.8" fill="#3a3af6" stroke="#2424c0" stroke-width="0.4" fill-opacity="0.5"/>
<circle cx="476.38" cy="269.57" r="1.8" fill="#3a3af6" stroke="#2424c0" stroke-width="0.4" fill-opacity="0.5"/>
<circle cx="483.15" cy="231.53" r="1.8" fill="#3a3af6" stroke="#2424c0" stroke-width="0.4" fill-opacity="0.5"/>
<circle cx="487.42" cy="249.65" r="1.8" fill="#3a3af6" stroke="#2424c0" stroke-width="0.4" fill-opacity="0.5"/>
<circle cx="486.1" cy="233.34" r="1.8" fill="#3a3af6" stroke="#2424c0" stroke-width="0.4" fill-opacity="0.5"/>
<circle cx="481.91" cy="255.1" r="1.8" fill="#3a3af6" stroke="#2424c0" stroke-width="0.4" fill-opacity="0.5"/>
<circle cx="478.93" cy="246.79" r="1.8" fill="#3a3af6" stroke="#2424c0" stroke-width="0.4" fill-opacity="0.5"/>
<circle cx="479.12" cy="236.56" r="1.8" fill="#3a3af6" stroke="#2424c0" stroke-width="0.4" fill-opacity="0.5"/>
<circle cx="482.8" cy="243.35" r="1.8" fill="#3a3af6" stroke="#2424c0" stroke-width="0.4" fill-opacity="0.5"/>
<circle cx="477.05" cy="247.44" r="1.8" fill="#3a3af6" stroke="#2424c0" stroke-width="0.4" fill-opacity="0.5"/>
<circle cx="479.43" cy="245.31" r="1.8" fill="#3a3af6" stroke="#2424c0" stroke-width="0.4" fill-opacity="0.5"/>
<circle cx="489.8" cy="255.36" r="1.8" fill="#3a3af6" stroke="#2424c0" stroke-width="0.4" fill-opacity="0.5"/>
<circle cx="482.22" cy="271.86" r="1.8" fill="#3a3af6" stroke="#2424c0" stroke-width="0.4" fill-opacity="0.5"/>
<circle cx="481.01" cy="271.21" r="1.8" fill="#3a3af6" stroke="#2424c0" stroke-width="0.4" fill-opacity="0.5"/>
<circle cx="491.08" cy="249.23" r="1.8" fill="#3a3af6" stroke="#2424c0" stroke-width="0.4" fill-opacity="0.5"/>
<circle cx="485.67" cy="253.97" r="1.8" fill="#3a3af6" stroke="#2424c0" stroke-width="0.4" fill-opacity="0.5"/>
<circle cx="479.94" cy="232.74" r="1.8" fill="#3a3af6" stroke="#2424c0" stroke-width="0.4" fill-opacity="0.5"/>
<circle cx="482.73" cy="251.79" r="1.8" fill="#3a3af6" stroke="#2424c0" stroke-width="0.4" fill-opacity="0.5"/>
<circle cx="489.57" cy="241.34" r="1.8" fill="#3a3af6" stroke="#2424c0" stroke-width="0.4" fill-opacity="0.5"/>
<circle cx="489" cy="225.6" r="1.8" fill="#3a3af6" stroke="#2424c0" stroke-width="0.4" fill-opacity="0.5"/>
<circle cx="475" cy="231.6" r="1.8" fill="#3a3af6" stroke="#2424c0" stroke-width="0.4" fill-opacity="0.5"/>
<line x1="483.6" y1="226.4" x2="483.6" y2="243.4" stroke="#333" stroke-width="0.9"/>
<line x1="483.6" y1="264.4" x2="483.6" y2="287" stroke="#333" stroke-width="0.9"/>
<rect x="466.6" y="243.4" width="34" height="21" fill="none" stroke="#333" stroke-width="0.9"/>
<line x1="466.6" y1="257" x2="500.6" y2="257" stroke="#333" stroke-width="1.6"/>
<circle cx="532.77" cy="231.23" r="1.8" fill="#de4646" stroke="#a82222" stroke-width="0.4" fill-opacity="0.5"/>
<circle cx="530.57" cy="218.43" r="1.8" fill="#de4646" stroke="#a82222" stroke-width="0.4" fill-opacity="0.5"/>
<circle cx="536.68" cy="240.42" r="1.8" fill="#de4646" stroke="#a82222" stroke-width="0.4" fill-opacity="0.5"/>
<circle cx="537.5" cy="227.12" r="1.8" fill="#de4646" stroke="#a82222" stroke-width="0.4" fill-opacity="0.5"/>
<circle cx="522.78" cy="233.19" r="1.8" fill="#de4646" stroke="#a82222" stroke-width="0.4" fill-opacity="0.5"/>
<circle cx="536.95" cy="274.77" r="1.8" fill="#de4646" stroke="#a82222" stroke-width="0.4" fill-opacity="0.5"/>
<circle cx="533.77" cy="273.82" r="1.8" fill="#de4646" stroke="#a82222" stroke-width="0.4" fill-opacity="0.5"/>
<circle cx="520.71" cy="244.52" r="1.8" fill="#de4646" stroke="#a82222" stroke-width="0.4" fill-opacity="0.5"/>
<circle cx="536.56" cy="212.96" r="1.8" fill="#de4646" stroke="#a82222" stroke-width="0.4" fill-opacity="0.5"/>
<circle cx="522.3" cy="264.36" r="1.8" fill="#de4646" stroke="#a82222" stroke-width="0.4" fill-opacity="0.5"/>
<circle cx="532.57" cy="246.69" r="1.8" fill="#de4646" stroke="#a82222" stroke-width="0.4" fill-opacity="0.5"/>
<circle cx="529.44" cy="232.2" r="1.8" fill="#de4646" stroke="#a82222" stroke-width="0.4" fill-opacity="0.5"/>
<circle cx="524.02" cy="266.68" r="1.8" fill="#de4646" stroke="#a82222" stroke-width="0.4" fill-opacity="0.5"/>
<circle cx="525.43" cy="256.29" r="1.8" fill="#de4646" stroke="#a82222" stroke-width="0.4" fill-opacity="0.5"/>
<circle cx="531.6" cy="254.95" r="1.8" fill="#de4646" stroke="#a82222" stroke-width="0.4" fill-opacity="0.5"/>
<circle cx="524.23" cy="218.48" r="1.8" fill="#de4646" stroke="#a82222" stroke-width="0.4" fill-opacity="0.5"/>
<circle cx="532.68" cy="254.99" r="1.8" fill="#de4646" stroke="#a82222" stroke-width="0.4" fill-opacity="0.5"/>
<circle cx="528.97" cy="230.96" r="1.8" fill="#de4646" stroke="#a82222" stroke-width="0.4" fill-opacity="0.5"/>
<circle cx="524.63" cy="267.56" r="1.8" fill="#de4646" stroke="#a82222" stroke-width="0.4" fill-opacity="0.5"/>
<circle cx="524.08" cy="281.46" r="1.8" fill="#de4646" stroke="#a82222" stroke-width="0.4" fill-opacity="0.5"/>
<circle cx="527.57" cy="239.05" r="1.8" fill="#de4646" stroke="#a82222" stroke-width="0.4" fill-opacity="0.5"/>
<circle cx="534.35" cy="261.45" r="1.8" fill="#de4646" stroke="#a82222" stroke-width="0.4" fill-opacity="0.5"/>
<circle cx="523.69" cy="269.89" r="1.8" fill="#de4646" stroke="#a82222" stroke-width="0.4" fill-opacity="0.5"/>
<circle cx="534.76" cy="214.76" r="1.8" fill="#de4646" stroke="#a82222" stroke-width="0.4" fill-opacity="0.5"/>
<circle cx="533.69" cy="236.07" r="1.8" fill="#de4646" stroke="#a82222" stroke-width="0.4" fill-opacity="0.5"/>
<circle cx="528.92" cy="254.77" r="1.8" fill="#de4646" stroke="#a82222" stroke-width="0.4" fill-opacity="0.5"/>
<circle cx="527.51" cy="236.12" r="1.8" fill="#de4646" stroke="#a82222" stroke-width="0.4" fill-opacity="0.5"/>
<circle cx="522.63" cy="282.11" r="1.8" fill="#de4646" stroke="#a82222" stroke-width="0.4" fill-opacity="0.5"/>
<circle cx="537.53" cy="235.85" r="1.8" fill="#de4646" stroke="#a82222" stroke-width="0.4" fill-opacity="0.5"/>
<circle cx="521.08" cy="231.73" r="1.8" fill="#de4646" stroke="#a82222" stroke-width="0.4" fill-opacity="0.5"/>
<circle cx="535.9" cy="253.39" r="1.8" fill="#de4646" stroke="#a82222" stroke-width="0.4" fill-opacity="0.5"/>
<circle cx="536.77" cy="283.45" r="1.8" fill="#de4646" stroke="#a82222" stroke-width="0.4" fill-opacity="0.5"/>
<circle cx="536.85" cy="235.15" r="1.8" fill="#de4646" stroke="#a82222" stroke-width="0.4" fill-opacity="0.5"/>
<circle cx="531.96" cy="256.88" r="1.8" fill="#de4646" stroke="#a82222" stroke-width="0.4" fill-opacity="0.5"/>
<circle cx="525.97" cy="239.97" r="1.8" fill="#de4646" stroke="#a82222" stroke-width="0.4" fill-opacity="0.5"/>
<circle cx="525.04" cy="230.47" r="1.8" fill="#de4646" stroke="#a82222" stroke-width="0.4" fill-opacity="0.5"/>
<circle cx="522.23" cy="254.86" r="1.8" fill="#de4646" stroke="#a82222" stroke-width="0.4" fill-opacity="0.5"/>
<circle cx="526.42" cy="212.39" r="1.8" fill="#de4646" stroke="#a82222" stroke-width="0.4" fill-opacity="0.5"/>
<circle cx="527.78" cy="226.36" r="1.8" fill="#de4646" stroke="#a82222" stroke-width="0.4" fill-opacity="0.5"/>
<circle cx="526.71" cy="242.52" r="1.8" fill="#de4646" stroke="#a82222" stroke-width="0.4" fill-opacity="0.5"/>
<circle cx="526.56" cy="212.07" r="1.8" fill="#de4646" stroke="#a82222" stroke-width="0.4" fill-opacity="0.5"/>
<circle cx="527.39" cy="208.37" r="1.8" fill="#de4646" stroke="#a82222" stroke-width="0.4" fill-opacity="0.5"/>
<circle cx="520.73" cy="225.1" r="1.8" fill="#de4646" stroke="#a82222" stroke-width="0.4" fill-opacity="0.5"/>
<circle cx="536.56" cy="232" r="1.8" fill="#de4646" stroke="#a82222" stroke-width="0.4" fill-opacity="0.5"/>
<circle cx="536.17" cy="249.53" r="1.8" fill="#de4646" stroke="#a82222" stroke-width="0.4" fill-opacity="0.5"/>
<circle cx="537.24" cy="237.37" r="1.8" fill="#de4646" stroke="#a82222" stroke-width="0.4" fill-opacity="0.5"/>
<circle cx="532.9" cy="263.21" r="1.8" fill="#de4646" stroke="#a82222" stroke-width="0.4" fill-opacity="0.5"/>
<circle cx="520.07" cy="237.46" r="1.8" fill="#de4646" stroke="#a82222" stroke-width="0.4" fill-opacity="0.5"/>
<circle cx="531.41" cy="228.5" r="1.8" fill="#de4646" stroke="#a82222" stroke-width="0.4" fill-opacity="0.5"/>
<circle cx="524.21" cy="208.23" r="1.8" fill="#de4646" stroke="#a82222" stroke-width="0.4" fill-opacity="0.5"/>
<circle cx="537.17" cy="254.89" r="1.8" fill="#de4646" stroke="#a82222" stroke-width="0.4" fill-opacity="0.5"/>
<circle cx="527.74" cy="236.83" r="1.8" fill="#de4646" stroke="#a82222" stroke-width="0.4" fill-opacity="0.5"/>
<circle cx="523.29" cy="254.16" r="1.8" fill="#de4646" stroke="#a82222" stroke-width="0.4" fill-opacity="0.5"/>
<circle cx="534.81" cy="224.46" r="1.8" fill="#de4646" stroke="#a82222" stroke-width="0.4" fill-opacity="0.5"/>
<circle cx="525.9" cy="221.48" r="1.8" fill="#de4646" stroke="#a82222" stroke-width="0.4" fill-opacity="0.5"/>
<circle cx="534.08" cy="239.66" r="1.8" fill="#de4646" stroke="#a82222" stroke-width="0.4" fill-opacity="0.5"/>
<circle cx="533.55" cy="235.45" r="1.8" fill="#de4646" stroke="#a82222" stroke-width="0.4" fill-opacity="0.5"/>
<circle cx="520.61" cy="232.06" r="1.8" fill="#de4646" stroke="#a82222" stroke-width="0.4" fill-opacity="0.5"/>
<circle cx="537.64" cy="264.96" r="1.8" fill="#de4646" stroke="#a82222" stroke-width="0.4" fill-opacity="0.5"/>
<circle cx="524.77" cy="230.12" r="1.8" fill="#de4646" stroke="#a82222" stroke-width="0.4" fill-opacity="0.5"/>
<circle cx="528.97" cy="232.87" r="1.8" fill="#de4646" stroke="#a82222" stroke-width="0.4" fill-opacity="0.5"/>
<circle cx="524.22" cy="268.3" r="1.8" fill="#de4646" stroke="#a82222" stroke-width="0.4" fill-opacity="0.5"/>
<circle cx="532.13" cy="246.28" r="1.8" fill="#de4646" stroke="#a82222" stroke-width="0.4" fill-opacity="0.5"/>
<circle cx="531.96" cy="279.31" r="1.8" fill="#de4646" stroke="#a82222" stroke-width="0.4" fill-opacity="0.5"/>
<circle cx="525.29" cy="251.93" r="1.8" fill="#de4646" stroke="#a82222" stroke-width="0.4" fill-opacity="0.5"/>
<circle cx="533.29" cy="266.26" r="1.8" fill="#de4646" stroke="#a82222" stroke-width="0.4" fill-opacity="0.5"/>
<circle cx="524.42" cy="236.73" r="1.8" fill="#de4646" stroke="#a82222" stroke-width="0.4" fill-opacity="0.5"/>
<circle cx="530.41" cy="253.03" r="1.8" fill="#de4646" stroke="#a82222" stroke-width="0.4" fill-opacity="0.5"/>
<circle cx="537.86" cy="240.54" r="1.8" fill="#de4646" stroke="#a82222" stroke-width="0.4" fill-opacity="0.5"/>
<circle cx="534.55" cy="262.37" r="1.8" fill="#de4646" stroke="#a82222" stroke-width="0.4" fill-opacity="0.5"/>
<circle cx="521.84" cy="283.27" r="1.8" fill="#de4646" stroke="#a82222" stroke-width="0.4" fill-opacity="0.5"/>
<circle cx="520.6" cy="201.4" r="1.8" fill="#de4646" stroke="#a82222" stroke-width="0.4" fill-opacity="0.5"/>
<circle cx="535.4" cy="206.6" r="1.8" fill="#de4646" stroke="#a82222" stroke-width="0.4" fill-opacity="0.5"/>
<circle cx="520.6" cy="280.8" r="1.8" fill="#de4646" stroke="#a82222" stroke-width="0.4" fill-opacity="0.5"/>
<circle cx="520.6" cy="290.4" r="1.8" fill="#de4646" stroke="#a82222" stroke-width="0.4" fill-opacity="0.5"/>
<circle cx="537" cy="214.4" r="1.8" fill="#de4646" stroke="#a82222" stroke-width="0.4" fill-opacity="0.5"/>
<line x1="529" y1="202" x2="529" y2="230.4" stroke="#333" stroke-width="0.9"/>
<line x1="529" y1="256" x2="529" y2="290.4" stroke="#333" stroke-width="0.9"/>
<rect x="511.8" y="230.4" width="34.4" height="25.6" fill="none" stroke="#333" stroke-width="0.9"/>
<line x1="511.8" y1="244.6" x2="546.2" y2="244.6" stroke="#333" stroke-width="1.6"/>
<text x="501.6" y="198.4" font-size="7.5" text-anchor="middle">T-test, p = 2.4e-05</text>
<text x="483.6" y="302.4" font-size="7.3" text-anchor="middle">n=71</text>
<text x="529" y="302.4" font-size="7.3" text-anchor="middle">n=71</text>
<text x="483.6" y="318" font-size="8.1" text-anchor="middle" fill="#3333ff">T1</text>
<text x="529" y="318" font-size="8.1" text-anchor="middle" fill="#ff2a2a">T3</text>
<text x="436" y="247" font-size="9.2" text-anchor="middle" fill="#ff33ff" transform="rotate(-90 436 247)">Heaptic Fibrosis Signaling</text>
<text x="445.4" y="247" font-size="9.2" text-anchor="middle" fill="#ff33ff" transform="rotate(-90 445.4 247)">Pathway @ 1st LP</text>
<rect x="581.4" y="183.6" width="99.2" height="124" fill="none" stroke="#8a8a8a" stroke-width="1"/>
<line x1="581.4" y1="269.4" x2="680.6" y2="269.4" stroke="#b8b8b8" stroke-width="1.1" stroke-dasharray="4,3"/>
<circle cx="614.19" cy="261.87" r="1.8" fill="#3a3af6" stroke="#2424c0" stroke-width="0.4" fill-opacity="0.5"/>
<circle cx="604.89" cy="241.19" r="1.8" fill="#3a3af6" stroke="#2424c0" stroke-width="0.4" fill-opacity="0.5"/>
<circle cx="616.44" cy="253.05" r="1.8" fill="#3a3af6" stroke="#2424c0" stroke-width="0.4" fill-opacity="0.5"/>
<circle cx="606.23" cy="273.78" r="1.8" fill="#3a3af6" stroke="#2424c0" stroke-width="0.4" fill-opacity="0.5"/>
<circle cx="604.32" cy="245.11" r="1.8" fill="#3a3af6" stroke="#2424c0" stroke-width="0.4" fill-opacity="0.5"/>
<circle cx="601.7" cy="249.88" r="1.8" fill="#3a3af6" stroke="#2424c0" stroke-width="0.4" fill-opacity="0.5"/>
<circle cx="603.6" cy="270.65" r="1.8" fill="#3a3af6" stroke="#2424c0" stroke-width="0.4" fill-opacity="0.5"/>
<circle cx="603.37" cy="252.38" r="1.8" fill="#3a3af6" stroke="#2424c0" stroke-width="0.4" fill-opacity="0.5"/>
<circle cx="610.98" cy="258.79" r="1.8" fill="#3a3af6" stroke="#2424c0" stroke-width="0.4" fill-opacity="0.5"/>
<circle cx="605.46" cy="250.56" r="1.8" fill="#3a3af6" stroke="#2424c0" stroke-width="0.4" fill-opacity="0.5"/>
<circle cx="605.21" cy="266.27" r="1.8" fill="#3a3af6" stroke="#2424c0" stroke-width="0.4" fill-opacity="0.5"/>
<circle cx="609.22" cy="261.53" r="1.8" fill="#3a3af6" stroke="#2424c0" stroke-width="0.4" fill-opacity="0.5"/>
<circle cx="606.62" cy="251.82" r="1.8" fill="#3a3af6" stroke="#2424c0" stroke-width="0.4" fill-opacity="0.5"/>
<circle cx="601.45" cy="270.84" r="1.8" fill="#3a3af6" stroke="#2424c0" stroke-width="0.4" fill-opacity="0.5"/>
<circle cx="606.87" cy="260.14" r="1.8" fill="#3a3af6" stroke="#2424c0" stroke-width="0.4" fill-opacity="0.5"/>
<circle cx="616.1" cy="254.71" r="1.8" fill="#3a3af6" stroke="#2424c0" stroke-width="0.4" fill-opacity="0.5"/>
<circle cx="605.97" cy="258.33" r="1.8" fill="#3a3af6" stroke="#2424c0" stroke-width="0.4" fill-opacity="0.5"/>
<circle cx="616.84" cy="262.5" r="1.8" fill="#3a3af6" stroke="#2424c0" stroke-width="0.4" fill-opacity="0.5"/>
<circle cx="612.28" cy="253.16" r="1.8" fill="#3a3af6" stroke="#2424c0" stroke-width="0.4" fill-opacity="0.5"/>
<circle cx="615.23" cy="250.48" r="1.8" fill="#3a3af6" stroke="#2424c0" stroke-width="0.4" fill-opacity="0.5"/>
<circle cx="606.81" cy="261.89" r="1.8" fill="#3a3af6" stroke="#2424c0" stroke-width="0.4" fill-opacity="0.5"/>
<circle cx="602.66" cy="245.22" r="1.8" fill="#3a3af6" stroke="#2424c0" stroke-width="0.4" fill-opacity="0.5"/>
<circle cx="610.79" cy="258.12" r="1.8" fill="#3a3af6" stroke="#2424c0" stroke-width="0.4" fill-opacity="0.5"/>
<circle cx="610.48" cy="241.65" r="1.8" fill="#3a3af6" stroke="#2424c0" stroke-width="0.4" fill-opacity="0.5"/>
<circle cx="602.38" cy="257.46" r="1.8" fill="#3a3af6" stroke="#2424c0" stroke-width="0.4" fill-opacity="0.5"/>
<circle cx="615.63" cy="257.7" r="1.8" fill="#3a3af6" stroke="#2424c0" stroke-width="0.4" fill-opacity="0.5"/>
<circle cx="613.58" cy="257.27" r="1.8" fill="#3a3af6" stroke="#2424c0" stroke-width="0.4" fill-opacity="0.5"/>
<circle cx="602.05" cy="242.69" r="1.8" fill="#3a3af6" stroke="#2424c0" stroke-width="0.4" fill-opacity="0.5"/>
<circle cx="608.11" cy="250.17" r="1.8" fill="#3a3af6" stroke="#2424c0" stroke-width="0.4" fill-opacity="0.5"/>
<circle cx="606.49" cy="263.37" r="1.8" fill="#3a3af6" stroke="#2424c0" stroke-width="0.4" fill-opacity="0.5"/>
<circle cx="613.92" cy="246.76" r="1.8" fill="#3a3af6" stroke="#2424c0" stroke-width="0.4" fill-opacity="0.5"/>
<circle cx="603.68" cy="261.4" r="1.8" fill="#3a3af6" stroke="#2424c0" stroke-width="0.4" fill-opacity="0.5"/>
<circle cx="614" cy="262.25" r="1.8" fill="#3a3af6" stroke="#2424c0" stroke-width="0.4" fill-opacity="0.5"/>
<circle cx="606.7" cy="253.45" r="1.8" fill="#3a3af6" stroke="#2424c0" stroke-width="0.4" fill-opacity="0.5"/>
<circle cx="601.99" cy="268.27" r="1.8" fill="#3a3af6" stroke="#2424c0" stroke-width="0.4" fill-opacity="0.5"/>
<circle cx="615.15" cy="260.55" r="1.8" fill="#3a3af6" stroke="#2424c0" stroke-width="0.4" fill-opacity="0.5"/>
<circle cx="612.78" cy="258.27" r="1.8" fill="#3a3af6" stroke="#2424c0" stroke-width="0.4" fill-opacity="0.5"/>
<circle cx="601.9" cy="262.13" r="1.8" fill="#3a3af6" stroke="#2424c0" stroke-width="0.4" fill-opacity="0.5"/>
<circle cx="610.56" cy="269.94" r="1.8" fill="#3a3af6" stroke="#2424c0" stroke-width="0.4" fill-opacity="0.5"/>
<circle cx="609.8" cy="256.28" r="1.8" fill="#3a3af6" stroke="#2424c0" stroke-width="0.4" fill-opacity="0.5"/>
<circle cx="607.5" cy="259.62" r="1.8" fill="#3a3af6" stroke="#2424c0" stroke-width="0.4" fill-opacity="0.5"/>
<circle cx="610.42" cy="250.73" r="1.8" fill="#3a3af6" stroke="#2424c0" stroke-width="0.4" fill-opacity="0.5"/>
<circle cx="612.88" cy="253.69" r="1.8" fill="#3a3af6" stroke="#2424c0" stroke-width="0.4" fill-opacity="0.5"/>
<circle cx="602.95" cy="245.2" r="1.8" fill="#3a3af6" stroke="#2424c0" stroke-width="0.4" fill-opacity="0.5"/>
<circle cx="602.08" cy="251.9" r="1.8" fill="#3a3af6" stroke="#2424c0" stroke-width="0.4" fill-opacity="0.5"/>
<circle cx="607.41" cy="251.68" r="1.8" fill="#3a3af6" stroke="#2424c0" stroke-width="0.4" fill-opacity="0.5"/>
<circle cx="610.72" cy="264.81" r="1.8" fill="#3a3af6" stroke="#2424c0" stroke-width="0.4" fill-opacity="0.5"/>
<circle cx="613.12" cy="260.67" r="1.8" fill="#3a3af6" stroke="#2424c0" stroke-width="0.4" fill-opacity="0.5"/>
<circle cx="608.47" cy="264.95" r="1.8" fill="#3a3af6" stroke="#2424c0" stroke-width="0.4" fill-opacity="0.5"/>
<circle cx="602.22" cy="263.71" r="1.8" fill="#3a3af6" stroke="#2424c0" stroke-width="0.4" fill-opacity="0.5"/>
<circle cx="612.35" cy="250.36" r="1.8" fill="#3a3af6" stroke="#2424c0" stroke-width="0.4" fill-opacity="0.5"/>
<circle cx="616.59" cy="242.66" r="1.8" fill="#3a3af6" stroke="#2424c0" stroke-width="0.4" fill-opacity="0.5"/>
<circle cx="615.47" cy="263.79" r="1.8" fill="#3a3af6" stroke="#2424c0" stroke-width="0.4" fill-opacity="0.5"/>
<circle cx="615.72" cy="261.44" r="1.8" fill="#3a3af6" stroke="#2424c0" stroke-width="0.4" fill-opacity="0.5"/>
<circle cx="612.76" cy="255.31" r="1.8" fill="#3a3af6" stroke="#2424c0" stroke-width="0.4" fill-opacity="0.5"/>
<circle cx="604.57" cy="262.95" r="1.8" fill="#3a3af6" stroke="#2424c0" stroke-width="0.4" fill-opacity="0.5"/>
<circle cx="608.44" cy="242.18" r="1.8" fill="#3a3af6" stroke="#2424c0" stroke-width="0.4" fill-opacity="0.5"/>
<circle cx="604.37" cy="242.8" r="1.8" fill="#3a3af6" stroke="#2424c0" stroke-width="0.4" fill-opacity="0.5"/>
<circle cx="600.53" cy="267.62" r="1.8" fill="#3a3af6" stroke="#2424c0" stroke-width="0.4" fill-opacity="0.5"/>
<circle cx="615.82" cy="252.66" r="1.8" fill="#3a3af6" stroke="#2424c0" stroke-width="0.4" fill-opacity="0.5"/>
<circle cx="602.77" cy="273.43" r="1.8" fill="#3a3af6" stroke="#2424c0" stroke-width="0.4" fill-opacity="0.5"/>
<circle cx="608.92" cy="241.9" r="1.8" fill="#3a3af6" stroke="#2424c0" stroke-width="0.4" fill-opacity="0.5"/>
<circle cx="614.74" cy="268.03" r="1.8" fill="#3a3af6" stroke="#2424c0" stroke-width="0.4" fill-opacity="0.5"/>
<circle cx="614.9" cy="270.25" r="1.8" fill="#3a3af6" stroke="#2424c0" stroke-width="0.4" fill-opacity="0.5"/>
<circle cx="610.61" cy="264.3" r="1.8" fill="#3a3af6" stroke="#2424c0" stroke-width="0.4" fill-opacity="0.5"/>
<circle cx="604.4" cy="261.57" r="1.8" fill="#3a3af6" stroke="#2424c0" stroke-width="0.4" fill-opacity="0.5"/>
<circle cx="606.02" cy="246.34" r="1.8" fill="#3a3af6" stroke="#2424c0" stroke-width="0.4" fill-opacity="0.5"/>
<circle cx="602.9" cy="245.05" r="1.8" fill="#3a3af6" stroke="#2424c0" stroke-width="0.4" fill-opacity="0.5"/>
<circle cx="613.84" cy="264.89" r="1.8" fill="#3a3af6" stroke="#2424c0" stroke-width="0.4" fill-opacity="0.5"/>
<circle cx="616.63" cy="259.35" r="1.8" fill="#3a3af6" stroke="#2424c0" stroke-width="0.4" fill-opacity="0.5"/>
<circle cx="605.22" cy="271.09" r="1.8" fill="#3a3af6" stroke="#2424c0" stroke-width="0.4" fill-opacity="0.5"/>
<circle cx="600.6" cy="212.6" r="1.8" fill="#3a3af6" stroke="#2424c0" stroke-width="0.4" fill-opacity="0.5"/>
<circle cx="613.4" cy="207.8" r="1.8" fill="#3a3af6" stroke="#2424c0" stroke-width="0.4" fill-opacity="0.5"/>
<circle cx="609" cy="218" r="1.8" fill="#3a3af6" stroke="#2424c0" stroke-width="0.4" fill-opacity="0.5"/>
<circle cx="607.4" cy="226.4" r="1.8" fill="#3a3af6" stroke="#2424c0" stroke-width="0.4" fill-opacity="0.5"/>
<circle cx="616" cy="228.4" r="1.8" fill="#3a3af6" stroke="#2424c0" stroke-width="0.4" fill-opacity="0.5"/>
<circle cx="608" cy="287" r="1.8" fill="#3a3af6" stroke="#2424c0" stroke-width="0.4" fill-opacity="0.5"/>
<line x1="608.4" y1="238.4" x2="608.4" y2="250.4" stroke="#333" stroke-width="0.9"/>
<line x1="608.4" y1="264.4" x2="608.4" y2="277" stroke="#333" stroke-width="0.9"/>
<rect x="591.3" y="250.4" width="34.2" height="14" fill="none" stroke="#333" stroke-width="0.9"/>
<line x1="591.3" y1="256.6" x2="625.5" y2="256.6" stroke="#333" stroke-width="1.6"/>
<circle cx="647.44" cy="232.31" r="1.8" fill="#de4646" stroke="#a82222" stroke-width="0.4" fill-opacity="0.5"/>
<circle cx="653.62" cy="267.6" r="1.8" fill="#de4646" stroke="#a82222" stroke-width="0.4" fill-opacity="0.5"/>
<circle cx="648.76" cy="213.48" r="1.8" fill="#de4646" stroke="#a82222" stroke-width="0.4" fill-opacity="0.5"/>
<circle cx="644.94" cy="258.87" r="1.8" fill="#de4646" stroke="#a82222" stroke-width="0.4" fill-opacity="0.5"/>
<circle cx="650.97" cy="234.27" r="1.8" fill="#de4646" stroke="#a82222" stroke-width="0.4" fill-opacity="0.5"/>
<circle cx="654.91" cy="247.16" r="1.8" fill="#de4646" stroke="#a82222" stroke-width="0.4" fill-opacity="0.5"/>
<circle cx="652.97" cy="248.25" r="1.8" fill="#de4646" stroke="#a82222" stroke-width="0.4" fill-opacity="0.5"/>
<circle cx="649.04" cy="256.69" r="1.8" fill="#de4646" stroke="#a82222" stroke-width="0.4" fill-opacity="0.5"/>
<circle cx="655.75" cy="233.99" r="1.8" fill="#de4646" stroke="#a82222" stroke-width="0.4" fill-opacity="0.5"/>
<circle cx="651.73" cy="226.9" r="1.8" fill="#de4646" stroke="#a82222" stroke-width="0.4" fill-opacity="0.5"/>
<circle cx="655.86" cy="231.71" r="1.8" fill="#de4646" stroke="#a82222" stroke-width="0.4" fill-opacity="0.5"/>
<circle cx="655.88" cy="265.86" r="1.8" fill="#de4646" stroke="#a82222" stroke-width="0.4" fill-opacity="0.5"/>
<circle cx="657.37" cy="256.7" r="1.8" fill="#de4646" stroke="#a82222" stroke-width="0.4" fill-opacity="0.5"/>
<circle cx="645.65" cy="255.79" r="1.8" fill="#de4646" stroke="#a82222" stroke-width="0.4" fill-opacity="0.5"/>
<circle cx="648.94" cy="267.04" r="1.8" fill="#de4646" stroke="#a82222" stroke-width="0.4" fill-opacity="0.5"/>
<circle cx="645.11" cy="252.43" r="1.8" fill="#de4646" stroke="#a82222" stroke-width="0.4" fill-opacity="0.5"/>
<circle cx="647.32" cy="278.42" r="1.8" fill="#de4646" stroke="#a82222" stroke-width="0.4" fill-opacity="0.5"/>
<circle cx="653.52" cy="247.82" r="1.8" fill="#de4646" stroke="#a82222" stroke-width="0.4" fill-opacity="0.5"/>
<circle cx="647.87" cy="275.71" r="1.8" fill="#de4646" stroke="#a82222" stroke-width="0.4" fill-opacity="0.5"/>
<circle cx="645.72" cy="239.51" r="1.8" fill="#de4646" stroke="#a82222" stroke-width="0.4" fill-opacity="0.5"/>
<circle cx="657.06" cy="226.92" r="1.8" fill="#de4646" stroke="#a82222" stroke-width="0.4" fill-opacity="0.5"/>
<circle cx="657.57" cy="254.2" r="1.8" fill="#de4646" stroke="#a82222" stroke-width="0.4" fill-opacity="0.5"/>
<circle cx="652.59" cy="251.43" r="1.8" fill="#de4646" stroke="#a82222" stroke-width="0.4" fill-opacity="0.5"/>
<circle cx="648.85" cy="234.24" r="1.8" fill="#de4646" stroke="#a82222" stroke-width="0.4" fill-opacity="0.5"/>
<circle cx="657.64" cy="240.46" r="1.8" fill="#de4646" stroke="#a82222" stroke-width="0.4" fill-opacity="0.5"/>
<circle cx="657" cy="276.39" r="1.8" fill="#de4646" stroke="#a82222" stroke-width="0.4" fill-opacity="0.5"/>
<circle cx="652.31" cy="246.35" r="1.8" fill="#de4646" stroke="#a82222" stroke-width="0.4" fill-opacity="0.5"/>
<circle cx="649.41" cy="221.56" r="1.8" fill="#de4646" stroke="#a82222" stroke-width="0.4" fill-opacity="0.5"/>
<circle cx="648.59" cy="278.94" r="1.8" fill="#de4646" stroke="#a82222" stroke-width="0.4" fill-opacity="0.5"/>
<circle cx="649.33" cy="211.07" r="1.8" fill="#de4646" stroke="#a82222" stroke-width="0.4" fill-opacity="0.5"/>
<circle cx="660.96" cy="251.48" r="1.8" fill="#de4646" stroke="#a82222" stroke-width="0.4" fill-opacity="0.5"/>
<circle cx="659.86" cy="265.36" r="1.8" fill="#de4646" stroke="#a82222" stroke-width="0.4" fill-opacity="0.5"/>
<circle cx="660.33" cy="237.86" r="1.8" fill="#de4646" stroke="#a82222" stroke-width="0.4" fill-opacity="0.5"/>
<circle cx="656.21" cy="273.14" r="1.8" fill="#de4646" stroke="#a82222" stroke-width="0.4" fill-opacity="0.5"/>
<circle cx="659.18" cy="220.45" r="1.8" fill="#de4646" stroke="#a82222" stroke-width="0.4" fill-opacity="0.5"/>
<circle cx="652.33" cy="276.65" r="1.8" fill="#de4646" stroke="#a82222" stroke-width="0.4" fill-opacity="0.5"/>
<circle cx="650.13" cy="270.54" r="1.8" fill="#de4646" stroke="#a82222" stroke-width="0.4" fill-opacity="0.5"/>
<circle cx="646.22" cy="248.21" r="1.8" fill="#de4646" stroke="#a82222" stroke-width="0.4" fill-opacity="0.5"/>
<circle cx="645.36" cy="213.74" r="1.8" fill="#de4646" stroke="#a82222" stroke-width="0.4" fill-opacity="0.5"/>
<circle cx="650.76" cy="256.48" r="1.8" fill="#de4646" stroke="#a82222" stroke-width="0.4" fill-opacity="0.5"/>
<circle cx="645.61" cy="232.18" r="1.8" fill="#de4646" stroke="#a82222" stroke-width="0.4" fill-opacity="0.5"/>
<circle cx="656.75" cy="271.89" r="1.8" fill="#de4646" stroke="#a82222" stroke-width="0.4" fill-opacity="0.5"/>
<circle cx="654.94" cy="259.8" r="1.8" fill="#de4646" stroke="#a82222" stroke-width="0.4" fill-opacity="0.5"/>
<circle cx="658.83" cy="253.47" r="1.8" fill="#de4646" stroke="#a82222" stroke-width="0.4" fill-opacity="0.5"/>
<circle cx="659.65" cy="212.12" r="1.8" fill="#de4646" stroke="#a82222" stroke-width="0.4" fill-opacity="0.5"/>
<circle cx="646.72" cy="230.25" r="1.8" fill="#de4646" stroke="#a82222" stroke-width="0.4" fill-opacity="0.5"/>
<circle cx="645.49" cy="234.42" r="1.8" fill="#de4646" stroke="#a82222" stroke-width="0.4" fill-opacity="0.5"/>
<circle cx="655.68" cy="227.52" r="1.8" fill="#de4646" stroke="#a82222" stroke-width="0.4" fill-opacity="0.5"/>
<circle cx="649.79" cy="223.79" r="1.8" fill="#de4646" stroke="#a82222" stroke-width="0.4" fill-opacity="0.5"/>
<circle cx="657.78" cy="234.04" r="1.8" fill="#de4646" stroke="#a82222" stroke-width="0.4" fill-opacity="0.5"/>
<circle cx="652.1" cy="240.02" r="1.8" fill="#de4646" stroke="#a82222" stroke-width="0.4" fill-opacity="0.5"/>
<circle cx="649.7" cy="238.33" r="1.8" fill="#de4646" stroke="#a82222" stroke-width="0.4" fill-opacity="0.5"/>
<circle cx="650.35" cy="266.23" r="1.8" fill="#de4646" stroke="#a82222" stroke-width="0.4" fill-opacity="0.5"/>
<circle cx="659.37" cy="221.16" r="1.8" fill="#de4646" stroke="#a82222" stroke-width="0.4" fill-opacity="0.5"/>
<circle cx="651.92" cy="259.06" r="1.8" fill="#de4646" stroke="#a82222" stroke-width="0.4" fill-opacity="0.5"/>
<circle cx="650.8" cy="252.27" r="1.8" fill="#de4646" stroke="#a82222" stroke-width="0.4" fill-opacity="0.5"/>
<circle cx="648.58" cy="269.85" r="1.8" fill="#de4646" stroke="#a82222" stroke-width="0.4" fill-opacity="0.5"/>
<circle cx="658.84" cy="212.64" r="1.8" fill="#de4646" stroke="#a82222" stroke-width="0.4" fill-opacity="0.5"/>
<circle cx="648.33" cy="231.44" r="1.8" fill="#de4646" stroke="#a82222" stroke-width="0.4" fill-opacity="0.5"/>
<circle cx="644.97" cy="230.94" r="1.8" fill="#de4646" stroke="#a82222" stroke-width="0.4" fill-opacity="0.5"/>
<circle cx="658.45" cy="244.67" r="1.8" fill="#de4646" stroke="#a82222" stroke-width="0.4" fill-opacity="0.5"/>
<circle cx="650.8" cy="244.75" r="1.8" fill="#de4646" stroke="#a82222" stroke-width="0.4" fill-opacity="0.5"/>
<circle cx="660.95" cy="216.14" r="1.8" fill="#de4646" stroke="#a82222" stroke-width="0.4" fill-opacity="0.5"/>
<circle cx="656.79" cy="237.2" r="1.8" fill="#de4646" stroke="#a82222" stroke-width="0.4" fill-opacity="0.5"/>
<circle cx="655.72" cy="234.37" r="1.8" fill="#de4646" stroke="#a82222" stroke-width="0.4" fill-opacity="0.5"/>
<circle cx="656.75" cy="252.67" r="1.8" fill="#de4646" stroke="#a82222" stroke-width="0.4" fill-opacity="0.5"/>
<circle cx="650.95" cy="223.72" r="1.8" fill="#de4646" stroke="#a82222" stroke-width="0.4" fill-opacity="0.5"/>
<circle cx="660.04" cy="242.05" r="1.8" fill="#de4646" stroke="#a82222" stroke-width="0.4" fill-opacity="0.5"/>
<circle cx="645.33" cy="255.39" r="1.8" fill="#de4646" stroke="#a82222" stroke-width="0.4" fill-opacity="0.5"/>
<circle cx="660.22" cy="238.51" r="1.8" fill="#de4646" stroke="#a82222" stroke-width="0.4" fill-opacity="0.5"/>
<circle cx="659.93" cy="266.47" r="1.8" fill="#de4646" stroke="#a82222" stroke-width="0.4" fill-opacity="0.5"/>
<circle cx="662" cy="209.4" r="1.8" fill="#de4646" stroke="#a82222" stroke-width="0.4" fill-opacity="0.5"/>
<circle cx="647" cy="210.6" r="1.8" fill="#de4646" stroke="#a82222" stroke-width="0.4" fill-opacity="0.5"/>
<circle cx="661.8" cy="285.2" r="1.8" fill="#de4646" stroke="#a82222" stroke-width="0.4" fill-opacity="0.5"/>
<line x1="653.4" y1="205.6" x2="653.4" y2="231.4" stroke="#333" stroke-width="0.9"/>
<line x1="653.4" y1="258.4" x2="653.4" y2="285" stroke="#333" stroke-width="0.9"/>
<rect x="636.3" y="231.4" width="34.2" height="27" fill="none" stroke="#333" stroke-width="0.9"/>
<line x1="636.3" y1="245.6" x2="670.5" y2="245.6" stroke="#333" stroke-width="1.6"/>
<text x="626.6" y="198.4" font-size="7.5" text-anchor="middle">T-test, p = 0.00017</text>
<text x="608.4" y="300.8" font-size="7.3" text-anchor="middle">n=71</text>
<text x="653.4" y="300.8" font-size="7.3" text-anchor="middle">n=71</text>
<text x="608.4" y="317.8" font-size="8.1" text-anchor="middle" fill="#3333ff">T1</text>
<text x="653.4" y="317.8" font-size="8.1" text-anchor="middle" fill="#ff2a2a">T3</text>
<text x="570.4" y="246" font-size="9.2" text-anchor="middle" fill="#ff33ff" transform="rotate(-90 570.4 246)">TNFRSF1B @ 1st LP</text>
<text x="0.5" y="355" font-size="14" fill="#000" font-weight="bold">e</text>
<text x="22.4" y="355" font-size="10.6">Longitudinal analysis 2: Biomarker change reflects disability progression</text>
<text x="23.6" y="369.9" font-size="9.1">Example of a patient-specific disability slope</text>
<rect x="28.6" y="378" width="166" height="102" fill="none" stroke="#8a8a8a" stroke-width="1"/>
<line x1="24.3" y1="465.6" x2="28.6" y2="465.6" stroke="#777777" stroke-width="0.8"/>
<text x="23.3" y="468.26" font-size="7.4" text-anchor="end" fill="#2a2a2a">40</text>
<line x1="24.3" y1="444.85" x2="28.6" y2="444.85" stroke="#777777" stroke-width="0.8"/>
<text x="23.3" y="447.51" font-size="7.4" text-anchor="end" fill="#2a2a2a">50</text>
<line x1="24.3" y1="424.1" x2="28.6" y2="424.1" stroke="#777777" stroke-width="0.8"/>
<text x="23.3" y="426.76" font-size="7.4" text-anchor="end" fill="#2a2a2a">60</text>
<line x1="24.3" y1="403.35" x2="28.6" y2="403.35" stroke="#777777" stroke-width="0.8"/>
<text x="23.3" y="406.01" font-size="7.4" text-anchor="end" fill="#2a2a2a">70</text>
<line x1="24.3" y1="382.6" x2="28.6" y2="382.6" stroke="#777777" stroke-width="0.8"/>
<text x="23.3" y="385.26" font-size="7.4" text-anchor="end" fill="#2a2a2a">80</text>
<line x1="33" y1="480" x2="33" y2="484.3" stroke="#777777" stroke-width="0.8"/>
<text x="33" y="491.3" font-size="7.4" text-anchor="middle" fill="#2a2a2a">60</text>
<line x1="78.2" y1="480" x2="78.2" y2="484.3" stroke="#777777" stroke-width="0.8"/>
<text x="78.2" y="491.3" font-size="7.4" text-anchor="middle" fill="#2a2a2a">62</text>
<line x1="123.4" y1="480" x2="123.4" y2="484.3" stroke="#777777" stroke-width="0.8"/>
<text x="123.4" y="491.3" font-size="7.4" text-anchor="middle" fill="#2a2a2a">64</text>
<line x1="168.6" y1="480" x2="168.6" y2="484.3" stroke="#777777" stroke-width="0.8"/>
<text x="168.6" y="491.3" font-size="7.4" text-anchor="middle" fill="#2a2a2a">66</text>
<text x="112" y="502" font-size="9" text-anchor="middle">Age</text>
<text x="10" y="427" font-size="9" text-anchor="middle" transform="rotate(-90 10 427)">CombiWISE</text>
<rect x="46.3" y="459.7" width="4.6" height="4.6" fill="none" stroke="#888" stroke-width="0.8"/>
<rect x="57.1" y="456.1" width="4.6" height="4.6" fill="none" stroke="#888" stroke-width="0.8"/>
<rect x="67.7" y="452.7" width="4.6" height="4.6" fill="none" stroke="#888" stroke-width="0.8"/>
<rect x="91.7" y="435.3" width="4.6" height="4.6" fill="none" stroke="#888" stroke-width="0.8"/>
<rect x="116.9" y="405.9" width="4.6" height="4.6" fill="none" stroke="#888" stroke-width="0.8"/>
<rect x="139.3" y="403.1" width="4.6" height="4.6" fill="none" stroke="#888" stroke-width="0.8"/>
<rect x="162.1" y="393.9" width="4.6" height="4.6" fill="none" stroke="#c8c8c8" stroke-width="0.8"/>
<rect x="173.9" y="388.7" width="4.6" height="4.6" fill="none" stroke="#c8c8c8" stroke-width="0.8"/>
<rect x="184.7" y="392.3" width="4.6" height="4.6" fill="none" stroke="#c8c8c8" stroke-width="0.8"/>
<path d="M36 461.3 L41.87 458.47 L47.74 455.62 L53.61 452.74 L59.48 449.85 L65.35 446.92 L71.22 443.96 L77.09 440.96 L82.96 437.91 L88.83 434.81 L94.7 431.65 L100.57 428.44 L106.44 425.17 L112.31 421.85 L118.18 418.48 L124.05 415.07 L129.92 411.63 L135.79 408.15 L141.66 404.66 L147.53 401.14 L153.4 397.6 L153.4 409.6 L147.53 412.43 L141.66 415.28 L135.79 418.16 L129.92 421.05 L124.05 423.98 L118.18 426.94 L112.31 429.94 L106.44 432.99 L100.57 436.09 L94.7 439.25 L88.83 442.46 L82.96 445.73 L77.09 449.05 L71.22 452.42 L65.35 455.83 L59.48 459.27 L53.61 462.75 L47.74 466.24 L41.87 469.76 L36 473.3 Z" fill="#a8f0a8" fill-opacity="0.5"/>
<line x1="36" y1="467.3" x2="153.4" y2="403.6" stroke="#1c701c" stroke-width="1.6"/>
<rect x="33.3" y="461.3" width="5.4" height="5.4" fill="none" stroke="#ff33ff" stroke-width="1.2"/>
<rect x="82.1" y="437.3" width="5.4" height="5.4" fill="none" stroke="#ff33ff" stroke-width="1.2"/>
<rect x="104.7" y="421.9" width="5.4" height="5.4" fill="none" stroke="#ff33ff" stroke-width="1.2"/>
<rect x="128.3" y="419.1" width="5.4" height="5.4" fill="none" stroke="#ff33ff" stroke-width="1.2"/>
<rect x="150.3" y="400.9" width="5.4" height="5.4" fill="none" stroke="#ff33ff" stroke-width="1.2"/>
<text x="186.4" y="430.6" font-size="9.1" text-anchor="end" fill="#2e8b2e">R<tspan font-size="5.8" dy="-3.3">2</tspan><tspan dy="3.3"> = 0.94</tspan></text>
<text x="188" y="441" font-size="9.1" text-anchor="end" fill="#2e8b2e">p=9.8e-08</text>
<text x="143.6" y="386" font-size="9.1" text-anchor="middle" fill="#ff33ff">last LP</text>
<line x1="153.6" y1="388.5" x2="153.6" y2="395.4" stroke="#ff33ff" stroke-width="1.2"/>
<path d="M153.6 399 L151.4 395.4 L155.8 395.4 Z" fill="#ff33ff"/>
<rect x="126.7" y="470.7" width="5.4" height="5.4" fill="none" stroke="#ff33ff" stroke-width="1.2"/>
<text x="137.5" y="476.2" font-size="8.2" fill="#ff33ff">longitudinal LPs</text>
<line x1="36.5" y1="468.4" x2="113" y2="468.4" stroke="#1e7a1e" stroke-width="1.3"/>
<path d="M66.76 451.51 A 35 35 0 0 1 71 468.4" fill="none" stroke="#1e7a1e" stroke-width="1.3"/>
<text x="76" y="464" font-size="9.1" fill="#2e8b2e">CombiWISE slope</text>
<text x="32" y="424" font-size="9.1" fill="#ff33ff">1<tspan font-size="5.8" dy="-3.3">st</tspan><tspan dy="3.3"> LP</tspan></text>
<text x="32" y="435" font-size="9.1" fill="#ff33ff" letter-spacing="0.2">(untreated)</text>
<line x1="35.7" y1="442.5" x2="35.7" y2="455.7" stroke="#ff33ff" stroke-width="1.3"/>
<path d="M35.7 460.4 L33.2 455.7 L38.2 455.7 Z" fill="#ff33ff"/>
<text x="238.6" y="369.4" font-size="9.1">Tertiles (T1, T2, T3) of disability slope</text>
<rect x="240" y="471.37" width="6.14" height="4.23" fill="#ccf7cc" stroke="#66bb66" stroke-width="0.6"/>
<rect x="246.14" y="471.37" width="6.14" height="4.23" fill="#ccf7cc" stroke="#66bb66" stroke-width="0.6"/>
<line x1="252.28" y1="475.6" x2="258.42" y2="475.6" stroke="#77c777" stroke-width="0.7"/>
<rect x="258.42" y="458.68" width="6.14" height="16.92" fill="#ccf7cc" stroke="#66bb66" stroke-width="0.6"/>
<rect x="264.56" y="458.68" width="6.14" height="16.92" fill="#ccf7cc" stroke="#66bb66" stroke-width="0.6"/>
<rect x="270.7" y="454.45" width="6.14" height="21.15" fill="#ccf7cc" stroke="#66bb66" stroke-width="0.6"/>
<rect x="276.84" y="395.23" width="6.14" height="80.37" fill="#ccf7cc" stroke="#66bb66" stroke-width="0.6"/>
<rect x="282.98" y="382.54" width="6.14" height="93.06" fill="#ccf7cc" stroke="#66bb66" stroke-width="0.6"/>
<rect x="289.12" y="416.38" width="6.14" height="59.22" fill="#ccf7cc" stroke="#66bb66" stroke-width="0.6"/>
<rect x="295.26" y="412.15" width="6.14" height="63.45" fill="#ccf7cc" stroke="#66bb66" stroke-width="0.6"/>
<rect x="301.4" y="429.07" width="6.14" height="46.53" fill="#ccf7cc" stroke="#66bb66" stroke-width="0.6"/>
<rect x="307.54" y="403.69" width="6.14" height="71.91" fill="#ccf7cc" stroke="#66bb66" stroke-width="0.6"/>
<rect x="313.68" y="424.84" width="6.14" height="50.76" fill="#ccf7cc" stroke="#66bb66" stroke-width="0.6"/>
<rect x="319.82" y="445.99" width="6.14" height="29.61" fill="#ccf7cc" stroke="#66bb66" stroke-width="0.6"/>
<rect x="325.96" y="467.14" width="6.14" height="8.46" fill="#ccf7cc" stroke="#66bb66" stroke-width="0.6"/>
<rect x="332.1" y="458.68" width="6.14" height="16.92" fill="#ccf7cc" stroke="#66bb66" stroke-width="0.6"/>
<rect x="338.24" y="462.91" width="6.14" height="12.69" fill="#ccf7cc" stroke="#66bb66" stroke-width="0.6"/>
<rect x="344.38" y="471.37" width="6.14" height="4.23" fill="#ccf7cc" stroke="#66bb66" stroke-width="0.6"/>
<line x1="350.52" y1="475.6" x2="356.66" y2="475.6" stroke="#77c777" stroke-width="0.7"/>
<rect x="356.66" y="471.37" width="6.14" height="4.23" fill="#ccf7cc" stroke="#66bb66" stroke-width="0.6"/>
<rect x="362.8" y="458.68" width="6.14" height="16.92" fill="#ccf7cc" stroke="#66bb66" stroke-width="0.6"/>
<rect x="368.94" y="471.37" width="6.14" height="4.23" fill="#ccf7cc" stroke="#66bb66" stroke-width="0.6"/>
<rect x="375.08" y="471.37" width="6.14" height="4.23" fill="#ccf7cc" stroke="#66bb66" stroke-width="0.6"/>
<line x1="381.22" y1="475.6" x2="387.36" y2="475.6" stroke="#77c777" stroke-width="0.7"/>
<rect x="387.36" y="471.37" width="6.14" height="4.23" fill="#ccf7cc" stroke="#66bb66" stroke-width="0.6"/>
<rect x="233" y="378" width="166.6" height="101.6" fill="none" stroke="#8a8a8a" stroke-width="1"/>
<line x1="228.7" y1="475.6" x2="233" y2="475.6" stroke="#777777" stroke-width="0.8"/>
<text x="227.7" y="478.26" font-size="7.4" text-anchor="end" fill="#2a2a2a">0</text>
<line x1="228.7" y1="454.45" x2="233" y2="454.45" stroke="#777777" stroke-width="0.8"/>
<text x="227.7" y="457.11" font-size="7.4" text-anchor="end" fill="#2a2a2a">5</text>
<line x1="228.7" y1="433.3" x2="233" y2="433.3" stroke="#777777" stroke-width="0.8"/>
<text x="227.7" y="435.96" font-size="7.4" text-anchor="end" fill="#2a2a2a">10</text>
<line x1="228.7" y1="412.15" x2="233" y2="412.15" stroke="#777777" stroke-width="0.8"/>
<text x="227.7" y="414.81" font-size="7.4" text-anchor="end" fill="#2a2a2a">15</text>
<line x1="228.7" y1="391" x2="233" y2="391" stroke="#777777" stroke-width="0.8"/>
<text x="227.7" y="393.66" font-size="7.4" text-anchor="end" fill="#2a2a2a">20</text>
<line x1="233.61" y1="479.6" x2="233.61" y2="483.9" stroke="#777777" stroke-width="0.8"/>
<text x="233.61" y="490.9" font-size="7.4" text-anchor="middle" fill="#2a2a2a">-3</text>
<line x1="273.6" y1="479.6" x2="273.6" y2="483.9" stroke="#777777" stroke-width="0.8"/>
<text x="273.6" y="490.9" font-size="7.4" text-anchor="middle" fill="#2a2a2a">0</text>
<line x1="313.59" y1="479.6" x2="313.59" y2="483.9" stroke="#777777" stroke-width="0.8"/>
<text x="313.59" y="490.9" font-size="7.4" text-anchor="middle" fill="#2a2a2a">3</text>
<line x1="353.58" y1="479.6" x2="353.58" y2="483.9" stroke="#777777" stroke-width="0.8"/>
<text x="353.58" y="490.9" font-size="7.4" text-anchor="middle" fill="#2a2a2a">6</text>
<line x1="393.57" y1="479.6" x2="393.57" y2="483.9" stroke="#777777" stroke-width="0.8"/>
<text x="393.57" y="490.9" font-size="7.4" text-anchor="middle" fill="#2a2a2a">9</text>
<line x1="288" y1="378" x2="288" y2="479.6" stroke="#3333ff" stroke-width="1.3"/>
<line x1="308.4" y1="378" x2="308.4" y2="479.6" stroke="#ff2a2a" stroke-width="1.3"/>
<line x1="296" y1="396" x2="296" y2="479.6" stroke="#333" stroke-width="1.2" stroke-dasharray="3,2"/>
<line x1="243" y1="393" x2="283" y2="393" stroke="#3333ff" stroke-width="1.3"/>
<path d="M238.5 393 L243 390.6 L243 395.4 Z" fill="#3333ff"/>
<path d="M287.5 393 L283 390.6 L283 395.4 Z" fill="#3333ff"/>
<line x1="292.6" y1="393" x2="303.8" y2="393" stroke="#bbbbbb" stroke-width="1.3"/>
<path d="M289 393 L292.6 390.8 L292.6 395.2 Z" fill="#bbbbbb"/>
<path d="M307.4 393 L303.8 390.8 L303.8 395.2 Z" fill="#bbbbbb"/>
<line x1="313.4" y1="393" x2="390.1" y2="393" stroke="#ff2a2a" stroke-width="1.3"/>
<path d="M308.9 393 L313.4 390.6 L313.4 395.4 Z" fill="#ff2a2a"/>
<path d="M394.6 393 L390.1 390.6 L390.1 395.4 Z" fill="#ff2a2a"/>
<text x="265" y="387.4" font-size="8.6" text-anchor="middle" fill="#3333ff">T1</text>
<text x="299" y="387.4" font-size="8.6" text-anchor="middle" fill="#c0c0c0">T2</text>
<text x="350.4" y="387.4" font-size="8.6" text-anchor="middle" fill="#ff2a2a">T3</text>
<text x="235.6" y="409" font-size="9.1">med. slope:</text>
<text x="259" y="419.6" font-size="9.1" text-anchor="middle">1.67</text>
<text x="240" y="453" font-size="9.1">n=150</text>
<text x="391.6" y="415" font-size="9.1" text-anchor="end">med. # visits = 7</text>
<text x="391.6" y="428" font-size="9.1" text-anchor="end">med. fu = 4.2y</text>
<text x="212.5" y="429" font-size="9" text-anchor="middle" transform="rotate(-90 212.5 429)">count</text>
<text x="315.6" y="501.5" font-size="9" text-anchor="middle" fill="#2e8b2e">CombiWISE slope</text>
<text x="413" y="355" font-size="14" fill="#000" font-weight="bold">f</text>
<text x="429.6" y="370" font-size="9.1">Distribution of patient-specific disability slopes</text>
<rect x="427.6" y="376.6" width="63" height="104.4" fill="none" stroke="#8a8a8a" stroke-width="1"/>
<line x1="427.6" y1="450.6" x2="490.6" y2="450.6" stroke="#b8b8b8" stroke-width="1.1" stroke-dasharray="4,3"/>
<circle cx="444.87" cy="448.24" r="1.8" fill="#3a3af6" stroke="#2424c0" stroke-width="0.4" fill-opacity="0.5"/>
<circle cx="446.59" cy="446.2" r="1.8" fill="#3a3af6" stroke="#2424c0" stroke-width="0.4" fill-opacity="0.5"/>
<circle cx="439.23" cy="447.71" r="1.8" fill="#3a3af6" stroke="#2424c0" stroke-width="0.4" fill-opacity="0.5"/>
<circle cx="448.03" cy="446.13" r="1.8" fill="#3a3af6" stroke="#2424c0" stroke-width="0.4" fill-opacity="0.5"/>
<circle cx="448.5" cy="448.16" r="1.8" fill="#3a3af6" stroke="#2424c0" stroke-width="0.4" fill-opacity="0.5"/>
<circle cx="443.83" cy="450.56" r="1.8" fill="#3a3af6" stroke="#2424c0" stroke-width="0.4" fill-opacity="0.5"/>
<circle cx="439.77" cy="445.79" r="1.8" fill="#3a3af6" stroke="#2424c0" stroke-width="0.4" fill-opacity="0.5"/>
<circle cx="449.55" cy="449.21" r="1.8" fill="#3a3af6" stroke="#2424c0" stroke-width="0.4" fill-opacity="0.5"/>
<circle cx="440.61" cy="447.02" r="1.8" fill="#3a3af6" stroke="#2424c0" stroke-width="0.4" fill-opacity="0.5"/>
<circle cx="439.31" cy="448.49" r="1.8" fill="#3a3af6" stroke="#2424c0" stroke-width="0.4" fill-opacity="0.5"/>
<circle cx="451.53" cy="447.16" r="1.8" fill="#3a3af6" stroke="#2424c0" stroke-width="0.4" fill-opacity="0.5"/>
<circle cx="451.34" cy="450.53" r="1.8" fill="#3a3af6" stroke="#2424c0" stroke-width="0.4" fill-opacity="0.5"/>
<circle cx="451.66" cy="447.94" r="1.8" fill="#3a3af6" stroke="#2424c0" stroke-width="0.4" fill-opacity="0.5"/>
<circle cx="443.42" cy="446.19" r="1.8" fill="#3a3af6" stroke="#2424c0" stroke-width="0.4" fill-opacity="0.5"/>
<circle cx="438.5" cy="448.95" r="1.8" fill="#3a3af6" stroke="#2424c0" stroke-width="0.4" fill-opacity="0.5"/>
<circle cx="437.41" cy="447.95" r="1.8" fill="#3a3af6" stroke="#2424c0" stroke-width="0.4" fill-opacity="0.5"/>
<circle cx="447.3" cy="449.56" r="1.8" fill="#3a3af6" stroke="#2424c0" stroke-width="0.4" fill-opacity="0.5"/>
<circle cx="443.85" cy="451.21" r="1.8" fill="#3a3af6" stroke="#2424c0" stroke-width="0.4" fill-opacity="0.5"/>
<circle cx="442.97" cy="448.81" r="1.8" fill="#3a3af6" stroke="#2424c0" stroke-width="0.4" fill-opacity="0.5"/>
<circle cx="443.35" cy="451.56" r="1.8" fill="#3a3af6" stroke="#2424c0" stroke-width="0.4" fill-opacity="0.5"/>
<circle cx="443.22" cy="451.36" r="1.8" fill="#3a3af6" stroke="#2424c0" stroke-width="0.4" fill-opacity="0.5"/>
<circle cx="450.1" cy="449.29" r="1.8" fill="#3a3af6" stroke="#2424c0" stroke-width="0.4" fill-opacity="0.5"/>
<circle cx="449.69" cy="446.16" r="1.8" fill="#3a3af6" stroke="#2424c0" stroke-width="0.4" fill-opacity="0.5"/>
<circle cx="443.71" cy="451.22" r="1.8" fill="#3a3af6" stroke="#2424c0" stroke-width="0.4" fill-opacity="0.5"/>
<circle cx="438.37" cy="448.91" r="1.8" fill="#3a3af6" stroke="#2424c0" stroke-width="0.4" fill-opacity="0.5"/>
<circle cx="447.6" cy="449.53" r="1.8" fill="#3a3af6" stroke="#2424c0" stroke-width="0.4" fill-opacity="0.5"/>
<circle cx="443.25" cy="450.72" r="1.8" fill="#3a3af6" stroke="#2424c0" stroke-width="0.4" fill-opacity="0.5"/>
<circle cx="443.04" cy="448.89" r="1.8" fill="#3a3af6" stroke="#2424c0" stroke-width="0.4" fill-opacity="0.5"/>
<circle cx="439.65" cy="451.59" r="1.8" fill="#3a3af6" stroke="#2424c0" stroke-width="0.4" fill-opacity="0.5"/>
<circle cx="442.73" cy="451.4" r="1.8" fill="#3a3af6" stroke="#2424c0" stroke-width="0.4" fill-opacity="0.5"/>
<circle cx="437.47" cy="450.3" r="1.8" fill="#3a3af6" stroke="#2424c0" stroke-width="0.4" fill-opacity="0.5"/>
<circle cx="448.63" cy="450.61" r="1.8" fill="#3a3af6" stroke="#2424c0" stroke-width="0.4" fill-opacity="0.5"/>
<circle cx="438.42" cy="446.02" r="1.8" fill="#3a3af6" stroke="#2424c0" stroke-width="0.4" fill-opacity="0.5"/>
<circle cx="447.66" cy="451.09" r="1.8" fill="#3a3af6" stroke="#2424c0" stroke-width="0.4" fill-opacity="0.5"/>
<circle cx="449.33" cy="451.22" r="1.8" fill="#3a3af6" stroke="#2424c0" stroke-width="0.4" fill-opacity="0.5"/>
<circle cx="451.12" cy="450.93" r="1.8" fill="#3a3af6" stroke="#2424c0" stroke-width="0.4" fill-opacity="0.5"/>
<circle cx="442.79" cy="449.14" r="1.8" fill="#3a3af6" stroke="#2424c0" stroke-width="0.4" fill-opacity="0.5"/>
<circle cx="451.67" cy="445.7" r="1.8" fill="#3a3af6" stroke="#2424c0" stroke-width="0.4" fill-opacity="0.5"/>
<circle cx="441.02" cy="446.63" r="1.8" fill="#3a3af6" stroke="#2424c0" stroke-width="0.4" fill-opacity="0.5"/>
<circle cx="443.18" cy="446.45" r="1.8" fill="#3a3af6" stroke="#2424c0" stroke-width="0.4" fill-opacity="0.5"/>
<circle cx="442.18" cy="449.19" r="1.8" fill="#3a3af6" stroke="#2424c0" stroke-width="0.4" fill-opacity="0.5"/>
<circle cx="448.02" cy="447.3" r="1.8" fill="#3a3af6" stroke="#2424c0" stroke-width="0.4" fill-opacity="0.5"/>
<circle cx="440.18" cy="446.02" r="1.8" fill="#3a3af6" stroke="#2424c0" stroke-width="0.4" fill-opacity="0.5"/>
<circle cx="440.08" cy="445.91" r="1.8" fill="#3a3af6" stroke="#2424c0" stroke-width="0.4" fill-opacity="0.5"/>
<circle cx="449.04" cy="449.51" r="1.8" fill="#3a3af6" stroke="#2424c0" stroke-width="0.4" fill-opacity="0.5"/>
<circle cx="445.33" cy="451" r="1.8" fill="#3a3af6" stroke="#2424c0" stroke-width="0.4" fill-opacity="0.5"/>
<circle cx="442.2" cy="450.26" r="1.8" fill="#3a3af6" stroke="#2424c0" stroke-width="0.4" fill-opacity="0.5"/>
<circle cx="449.14" cy="451.45" r="1.8" fill="#3a3af6" stroke="#2424c0" stroke-width="0.4" fill-opacity="0.5"/>
<circle cx="445.12" cy="447.58" r="1.8" fill="#3a3af6" stroke="#2424c0" stroke-width="0.4" fill-opacity="0.5"/>
<circle cx="442.22" cy="449.73" r="1.8" fill="#3a3af6" stroke="#2424c0" stroke-width="0.4" fill-opacity="0.5"/>
<circle cx="439" cy="463" r="1.8" fill="#3a3af6" stroke="#2424c0" stroke-width="0.4" fill-opacity="0.5"/>
<circle cx="449.4" cy="466.4" r="1.8" fill="#3a3af6" stroke="#2424c0" stroke-width="0.4" fill-opacity="0.5"/>
<circle cx="441.4" cy="457" r="1.8" fill="#3a3af6" stroke="#2424c0" stroke-width="0.4" fill-opacity="0.5"/>
<circle cx="444.4" cy="458" r="1.8" fill="#3a3af6" stroke="#2424c0" stroke-width="0.4" fill-opacity="0.5"/>
<circle cx="451" cy="452.4" r="1.8" fill="#3a3af6" stroke="#2424c0" stroke-width="0.4" fill-opacity="0.5"/>
<circle cx="438" cy="453" r="1.8" fill="#3a3af6" stroke="#2424c0" stroke-width="0.4" fill-opacity="0.5"/>
<circle cx="446" cy="455" r="1.8" fill="#3a3af6" stroke="#2424c0" stroke-width="0.4" fill-opacity="0.5"/>
<line x1="444.4" y1="445.4" x2="444.4" y2="446.4" stroke="#333" stroke-width="0.9"/>
<line x1="444.4" y1="450.4" x2="444.4" y2="452" stroke="#333" stroke-width="0.9"/>
<rect x="433.6" y="446.4" width="21.6" height="4" fill="none" stroke="#333" stroke-width="0.9"/>
<line x1="433.6" y1="449" x2="455.2" y2="449" stroke="#333" stroke-width="1.6"/>
<circle cx="471.09" cy="413.38" r="1.8" fill="#de4646" stroke="#a82222" stroke-width="0.4" fill-opacity="0.5"/>
<circle cx="467.86" cy="425.86" r="1.8" fill="#de4646" stroke="#a82222" stroke-width="0.4" fill-opacity="0.5"/>
<circle cx="469.48" cy="429.23" r="1.8" fill="#de4646" stroke="#a82222" stroke-width="0.4" fill-opacity="0.5"/>
<circle cx="472.85" cy="424.44" r="1.8" fill="#de4646" stroke="#a82222" stroke-width="0.4" fill-opacity="0.5"/>
<circle cx="475.91" cy="428.27" r="1.8" fill="#de4646" stroke="#a82222" stroke-width="0.4" fill-opacity="0.5"/>
<circle cx="479.23" cy="431.59" r="1.8" fill="#de4646" stroke="#a82222" stroke-width="0.4" fill-opacity="0.5"/>
<circle cx="480.1" cy="430.44" r="1.8" fill="#de4646" stroke="#a82222" stroke-width="0.4" fill-opacity="0.5"/>
<circle cx="478.83" cy="412.06" r="1.8" fill="#de4646" stroke="#a82222" stroke-width="0.4" fill-opacity="0.5"/>
<circle cx="464.9" cy="432.42" r="1.8" fill="#de4646" stroke="#a82222" stroke-width="0.4" fill-opacity="0.5"/>
<circle cx="468.95" cy="417.42" r="1.8" fill="#de4646" stroke="#a82222" stroke-width="0.4" fill-opacity="0.5"/>
<circle cx="468.67" cy="422.63" r="1.8" fill="#de4646" stroke="#a82222" stroke-width="0.4" fill-opacity="0.5"/>
<circle cx="467.3" cy="414.2" r="1.8" fill="#de4646" stroke="#a82222" stroke-width="0.4" fill-opacity="0.5"/>
<circle cx="467.55" cy="418.83" r="1.8" fill="#de4646" stroke="#a82222" stroke-width="0.4" fill-opacity="0.5"/>
<circle cx="477.98" cy="416.93" r="1.8" fill="#de4646" stroke="#a82222" stroke-width="0.4" fill-opacity="0.5"/>
<circle cx="478.1" cy="433.54" r="1.8" fill="#de4646" stroke="#a82222" stroke-width="0.4" fill-opacity="0.5"/>
<circle cx="476.48" cy="412.65" r="1.8" fill="#de4646" stroke="#a82222" stroke-width="0.4" fill-opacity="0.5"/>
<circle cx="472.16" cy="433.35" r="1.8" fill="#de4646" stroke="#a82222" stroke-width="0.4" fill-opacity="0.5"/>
<circle cx="469.2" cy="416.37" r="1.8" fill="#de4646" stroke="#a82222" stroke-width="0.4" fill-opacity="0.5"/>
<circle cx="473.08" cy="422.59" r="1.8" fill="#de4646" stroke="#a82222" stroke-width="0.4" fill-opacity="0.5"/>
<circle cx="467.16" cy="426.32" r="1.8" fill="#de4646" stroke="#a82222" stroke-width="0.4" fill-opacity="0.5"/>
<circle cx="473.87" cy="426.68" r="1.8" fill="#de4646" stroke="#a82222" stroke-width="0.4" fill-opacity="0.5"/>
<circle cx="478.99" cy="410.67" r="1.8" fill="#de4646" stroke="#a82222" stroke-width="0.4" fill-opacity="0.5"/>
<circle cx="476.01" cy="427.41" r="1.8" fill="#de4646" stroke="#a82222" stroke-width="0.4" fill-opacity="0.5"/>
<circle cx="471.82" cy="414.5" r="1.8" fill="#de4646" stroke="#a82222" stroke-width="0.4" fill-opacity="0.5"/>
<circle cx="475.53" cy="411.38" r="1.8" fill="#de4646" stroke="#a82222" stroke-width="0.4" fill-opacity="0.5"/>
<circle cx="475.06" cy="432.44" r="1.8" fill="#de4646" stroke="#a82222" stroke-width="0.4" fill-opacity="0.5"/>
<circle cx="470.32" cy="433.59" r="1.8" fill="#de4646" stroke="#a82222" stroke-width="0.4" fill-opacity="0.5"/>
<circle cx="472.94" cy="415.91" r="1.8" fill="#de4646" stroke="#a82222" stroke-width="0.4" fill-opacity="0.5"/>
<circle cx="476.91" cy="410.95" r="1.8" fill="#de4646" stroke="#a82222" stroke-width="0.4" fill-opacity="0.5"/>
<circle cx="479.35" cy="432.83" r="1.8" fill="#de4646" stroke="#a82222" stroke-width="0.4" fill-opacity="0.5"/>
<circle cx="473.63" cy="426.41" r="1.8" fill="#de4646" stroke="#a82222" stroke-width="0.4" fill-opacity="0.5"/>
<circle cx="472.1" cy="412.79" r="1.8" fill="#de4646" stroke="#a82222" stroke-width="0.4" fill-opacity="0.5"/>
<circle cx="478.75" cy="427.32" r="1.8" fill="#de4646" stroke="#a82222" stroke-width="0.4" fill-opacity="0.5"/>
<circle cx="471.56" cy="430.44" r="1.8" fill="#de4646" stroke="#a82222" stroke-width="0.4" fill-opacity="0.5"/>
<circle cx="473.31" cy="432.75" r="1.8" fill="#de4646" stroke="#a82222" stroke-width="0.4" fill-opacity="0.5"/>
<circle cx="478.16" cy="417.41" r="1.8" fill="#de4646" stroke="#a82222" stroke-width="0.4" fill-opacity="0.5"/>
<circle cx="469.79" cy="424.61" r="1.8" fill="#de4646" stroke="#a82222" stroke-width="0.4" fill-opacity="0.5"/>
<circle cx="478.03" cy="433.21" r="1.8" fill="#de4646" stroke="#a82222" stroke-width="0.4" fill-opacity="0.5"/>
<circle cx="479.76" cy="429.24" r="1.8" fill="#de4646" stroke="#a82222" stroke-width="0.4" fill-opacity="0.5"/>
<circle cx="469.81" cy="432.46" r="1.8" fill="#de4646" stroke="#a82222" stroke-width="0.4" fill-opacity="0.5"/>
<circle cx="480.36" cy="423.17" r="1.8" fill="#de4646" stroke="#a82222" stroke-width="0.4" fill-opacity="0.5"/>
<circle cx="478.11" cy="433.24" r="1.8" fill="#de4646" stroke="#a82222" stroke-width="0.4" fill-opacity="0.5"/>
<circle cx="475.18" cy="416.96" r="1.8" fill="#de4646" stroke="#a82222" stroke-width="0.4" fill-opacity="0.5"/>
<circle cx="474.84" cy="433.29" r="1.8" fill="#de4646" stroke="#a82222" stroke-width="0.4" fill-opacity="0.5"/>
<circle cx="476.04" cy="432.67" r="1.8" fill="#de4646" stroke="#a82222" stroke-width="0.4" fill-opacity="0.5"/>
<circle cx="466.42" cy="429.69" r="1.8" fill="#de4646" stroke="#a82222" stroke-width="0.4" fill-opacity="0.5"/>
<circle cx="477.87" cy="421.42" r="1.8" fill="#de4646" stroke="#a82222" stroke-width="0.4" fill-opacity="0.5"/>
<circle cx="470.97" cy="417.42" r="1.8" fill="#de4646" stroke="#a82222" stroke-width="0.4" fill-opacity="0.5"/>
<circle cx="474.26" cy="418.78" r="1.8" fill="#de4646" stroke="#a82222" stroke-width="0.4" fill-opacity="0.5"/>
<circle cx="471.87" cy="424.44" r="1.8" fill="#de4646" stroke="#a82222" stroke-width="0.4" fill-opacity="0.5"/>
<circle cx="479.4" cy="397.4" r="1.8" fill="#de4646" stroke="#a82222" stroke-width="0.4" fill-opacity="0.5"/>
<circle cx="479.4" cy="404" r="1.8" fill="#de4646" stroke="#a82222" stroke-width="0.4" fill-opacity="0.5"/>
<circle cx="468" cy="409" r="1.8" fill="#de4646" stroke="#a82222" stroke-width="0.4" fill-opacity="0.5"/>
<circle cx="465.6" cy="411" r="1.8" fill="#de4646" stroke="#a82222" stroke-width="0.4" fill-opacity="0.5"/>
<circle cx="476" cy="413" r="1.8" fill="#de4646" stroke="#a82222" stroke-width="0.4" fill-opacity="0.5"/>
<line x1="473.2" y1="408" x2="473.2" y2="421" stroke="#333" stroke-width="0.9"/>
<line x1="473.2" y1="432.4" x2="473.2" y2="434" stroke="#333" stroke-width="0.9"/>
<rect x="462.4" y="421" width="21.6" height="11.4" fill="none" stroke="#333" stroke-width="0.9"/>
<line x1="462.4" y1="429.4" x2="484" y2="429.4" stroke="#333" stroke-width="1.6"/>
<text x="455.6" y="390.6" font-size="7.3" text-anchor="middle">p = &lt;2e-16</text>
<text x="444.4" y="475.6" font-size="7.3" text-anchor="middle">n=50</text>
<text x="473.2" y="475.6" font-size="7.3" text-anchor="middle">n=50</text>
<text x="444.4" y="491" font-size="8.1" text-anchor="middle" fill="#3333ff">T1</text>
<text x="473.2" y="491" font-size="8.1" text-anchor="middle" fill="#ff2a2a">T3</text>
<text x="418.5" y="429" font-size="9" text-anchor="middle" fill="#2e8b2e" transform="rotate(-90 418.5 429)">CombiWISE slope</text>
<g clip-path="url(#clip378)">
<line x1="590.03" y1="426.18" x2="625.5" y2="400.83" stroke="#dedede" stroke-width="0.8"/>
<line x1="595.64" y1="456.91" x2="631.91" y2="430.05" stroke="#dedede" stroke-width="0.8"/>
<line x1="608" y1="458.9" x2="650.21" y2="432.53" stroke="#dedede" stroke-width="0.8"/>
<line x1="553.42" y1="441.6" x2="596.11" y2="421.15" stroke="#dedede" stroke-width="0.8"/>
<line x1="643.66" y1="429.58" x2="690.84" y2="391.91" stroke="#dedede" stroke-width="0.8"/>
<line x1="560.18" y1="447.62" x2="579.9" y2="437.98" stroke="#dedede" stroke-width="0.8"/>
<line x1="563.49" y1="468.39" x2="589.77" y2="449.63" stroke="#dedede" stroke-width="0.8"/>
<line x1="588.83" y1="443.66" x2="632.47" y2="408.22" stroke="#dedede" stroke-width="0.8"/>
<line x1="594.83" y1="445.39" x2="633.27" y2="421.92" stroke="#dedede" stroke-width="0.8"/>
<line x1="645.22" y1="421.39" x2="693.3" y2="380.54" stroke="#dedede" stroke-width="0.8"/>
<line x1="576.15" y1="455.41" x2="602.07" y2="442.59" stroke="#dedede" stroke-width="0.8"/>
<line x1="621.8" y1="424.67" x2="652.66" y2="403.97" stroke="#dedede" stroke-width="0.8"/>
<line x1="641.21" y1="457.85" x2="685" y2="432.79" stroke="#dedede" stroke-width="0.8"/>
<line x1="636.38" y1="416.75" x2="669.25" y2="394.49" stroke="#dedede" stroke-width="0.8"/>
<line x1="551.63" y1="438.23" x2="589.12" y2="415.53" stroke="#dedede" stroke-width="0.8"/>
<line x1="553.06" y1="430.09" x2="581.96" y2="404.73" stroke="#dedede" stroke-width="0.8"/>
<line x1="556.18" y1="466.47" x2="582.59" y2="453.56" stroke="#dedede" stroke-width="0.8"/>
<line x1="624.91" y1="436.47" x2="649.33" y2="419.26" stroke="#dedede" stroke-width="0.8"/>
<line x1="563.54" y1="464.08" x2="603.99" y2="431.15" stroke="#dedede" stroke-width="0.8"/>
<line x1="556.03" y1="461.72" x2="587.48" y2="442.67" stroke="#dedede" stroke-width="0.8"/>
<line x1="642.52" y1="444.69" x2="685.03" y2="404.37" stroke="#dedede" stroke-width="0.8"/>
<line x1="565.57" y1="432.88" x2="596.25" y2="407.93" stroke="#dedede" stroke-width="0.8"/>
<line x1="554.4" y1="461.95" x2="602.29" y2="433.25" stroke="#dedede" stroke-width="0.8"/>
<line x1="622.45" y1="448.07" x2="651.25" y2="433.77" stroke="#dedede" stroke-width="0.8"/>
<line x1="553.36" y1="460.84" x2="589.49" y2="432.28" stroke="#dedede" stroke-width="0.8"/>
<line x1="643.47" y1="429.06" x2="658.82" y2="436.45" stroke="#3030f4" stroke-width="0.8"/>
<line x1="636.5" y1="472.39" x2="667.23" y2="470.7" stroke="#3030f4" stroke-width="0.8"/>
<line x1="628.3" y1="444.39" x2="641.17" y2="416.33" stroke="#ee3030" stroke-width="0.8"/>
<line x1="630.33" y1="422.59" x2="656.04" y2="416.83" stroke="#3030f4" stroke-width="0.8"/>
<line x1="639.97" y1="427.52" x2="652.29" y2="392.08" stroke="#ee3030" stroke-width="0.8"/>
<line x1="595.1" y1="421.94" x2="611.37" y2="395.11" stroke="#ee3030" stroke-width="0.8"/>
<line x1="598.48" y1="426.86" x2="611.72" y2="392.08" stroke="#ee3030" stroke-width="0.8"/>
<line x1="639.03" y1="470.58" x2="645.72" y2="457.22" stroke="#ee3030" stroke-width="0.8"/>
<line x1="593.38" y1="462.3" x2="606.81" y2="420.24" stroke="#ee3030" stroke-width="0.8"/>
<line x1="642.53" y1="438.47" x2="652.22" y2="412.43" stroke="#ee3030" stroke-width="0.8"/>
<line x1="619.74" y1="443.46" x2="627.35" y2="429.4" stroke="#ee3030" stroke-width="0.8"/>
<line x1="620.58" y1="421.48" x2="631.01" y2="392.08" stroke="#ee3030" stroke-width="0.8"/>
<line x1="595.54" y1="424.16" x2="606.13" y2="398.2" stroke="#ee3030" stroke-width="0.8"/>
<line x1="619.76" y1="450.56" x2="632.3" y2="431.22" stroke="#ee3030" stroke-width="0.8"/>
<line x1="536.48" y1="479.37" x2="558.31" y2="474" stroke="#3030f4" stroke-width="0.8"/>
<line x1="597.9" y1="467.15" x2="620.38" y2="458.61" stroke="#3030f4" stroke-width="0.8"/>
<line x1="563.15" y1="470.4" x2="580.57" y2="470.37" stroke="#3030f4" stroke-width="0.8"/>
<line x1="555.1" y1="472.63" x2="589.75" y2="463.21" stroke="#3030f4" stroke-width="0.8"/>
<line x1="629.55" y1="461.94" x2="667.51" y2="453.41" stroke="#3030f4" stroke-width="0.8"/>
<line x1="619.12" y1="441.59" x2="625.44" y2="421.12" stroke="#ee3030" stroke-width="0.8"/>
<line x1="624.23" y1="446.76" x2="640.91" y2="397.64" stroke="#ee3030" stroke-width="0.8"/>
<line x1="620.7" y1="452.64" x2="637.57" y2="407.82" stroke="#ee3030" stroke-width="0.8"/>
<line x1="580.02" y1="465.27" x2="604.9" y2="459.1" stroke="#3030f4" stroke-width="0.8"/>
<line x1="614.67" y1="429.7" x2="628.01" y2="435.6" stroke="#3030f4" stroke-width="0.8"/>
<line x1="632.98" y1="417.66" x2="640.62" y2="416.4" stroke="#3030f4" stroke-width="0.8"/>
<line x1="550.82" y1="470.26" x2="587.8" y2="469.58" stroke="#3030f4" stroke-width="0.8"/>
<line x1="606.84" y1="437.5" x2="618.99" y2="406.31" stroke="#ee3030" stroke-width="0.8"/>
<line x1="614.55" y1="429.72" x2="633.52" y2="439.39" stroke="#3030f4" stroke-width="0.8"/>
<line x1="595.93" y1="445" x2="606.45" y2="411.21" stroke="#ee3030" stroke-width="0.8"/>
<line x1="602.8" y1="439.56" x2="616.69" y2="436.23" stroke="#3030f4" stroke-width="0.8"/>
<line x1="544.84" y1="474.79" x2="557.55" y2="469.67" stroke="#3030f4" stroke-width="0.8"/>
<line x1="622.58" y1="464.3" x2="653.48" y2="449.59" stroke="#3030f4" stroke-width="0.8"/>
<line x1="606.71" y1="448.36" x2="614.12" y2="431.43" stroke="#ee3030" stroke-width="0.8"/>
<line x1="613.95" y1="435.57" x2="620.74" y2="421.15" stroke="#ee3030" stroke-width="0.8"/>
<line x1="608.34" y1="469.23" x2="628.58" y2="461.55" stroke="#3030f4" stroke-width="0.8"/>
<line x1="600.74" y1="433.93" x2="611" y2="402.05" stroke="#ee3030" stroke-width="0.8"/>
<line x1="611.82" y1="457.96" x2="624.95" y2="424.98" stroke="#ee3030" stroke-width="0.8"/>
<line x1="602.79" y1="464.14" x2="614.37" y2="446.23" stroke="#ee3030" stroke-width="0.8"/>
<line x1="616.59" y1="459.17" x2="628.93" y2="431.26" stroke="#ee3030" stroke-width="0.8"/>
<line x1="602.46" y1="468.98" x2="609.64" y2="457.61" stroke="#ee3030" stroke-width="0.8"/>
<line x1="597.48" y1="418.62" x2="618.64" y2="428.13" stroke="#3030f4" stroke-width="0.8"/>
<line x1="618.61" y1="445.83" x2="626.45" y2="442.28" stroke="#3030f4" stroke-width="0.8"/>
<line x1="625.49" y1="467.35" x2="637.39" y2="447.75" stroke="#ee3030" stroke-width="0.8"/>
<line x1="631.48" y1="473.2" x2="643.97" y2="472.42" stroke="#3030f4" stroke-width="0.8"/>
<line x1="615.21" y1="448.13" x2="631.79" y2="415.79" stroke="#ee3030" stroke-width="0.8"/>
<line x1="613.68" y1="431.55" x2="625.81" y2="402.58" stroke="#ee3030" stroke-width="0.8"/>
<line x1="620.52" y1="428.98" x2="632.67" y2="392.08" stroke="#ee3030" stroke-width="0.8"/>
<line x1="630.61" y1="434.18" x2="655.04" y2="439.32" stroke="#3030f4" stroke-width="0.8"/>
<line x1="645.36" y1="437.04" x2="665.8" y2="427.09" stroke="#3030f4" stroke-width="0.8"/>
<line x1="614.79" y1="432.12" x2="622.19" y2="415.62" stroke="#ee3030" stroke-width="0.8"/>
<line x1="626.04" y1="434.23" x2="649.44" y2="446.06" stroke="#3030f4" stroke-width="0.8"/>
<line x1="621.2" y1="428.71" x2="646.18" y2="436.12" stroke="#3030f4" stroke-width="0.8"/>
<line x1="642.13" y1="435.57" x2="653.24" y2="399.45" stroke="#ee3030" stroke-width="0.8"/>
<line x1="572.04" y1="467.42" x2="607.96" y2="466.51" stroke="#3030f4" stroke-width="0.8"/>
<line x1="597.42" y1="441.18" x2="614.8" y2="445.61" stroke="#3030f4" stroke-width="0.8"/>
<line x1="545.4" y1="480.72" x2="574.13" y2="475.84" stroke="#3030f4" stroke-width="0.8"/>
<line x1="643.72" y1="443.5" x2="660.53" y2="398.95" stroke="#ee3030" stroke-width="0.8"/>
<line x1="617.13" y1="475" x2="633.12" y2="471.6" stroke="#3030f4" stroke-width="0.8"/>
<line x1="626.94" y1="438.89" x2="637.55" y2="436.05" stroke="#3030f4" stroke-width="0.8"/>
<line x1="555.92" y1="417.56" x2="564.1" y2="398.89" stroke="#ee3030" stroke-width="0.8"/>
<line x1="578.66" y1="471.33" x2="611.07" y2="465.02" stroke="#3030f4" stroke-width="0.8"/>
<line x1="602.92" y1="445.42" x2="613.69" y2="421.92" stroke="#ee3030" stroke-width="0.8"/>
<line x1="611.48" y1="464.22" x2="643.07" y2="453.91" stroke="#3030f4" stroke-width="0.8"/>
<line x1="609.81" y1="465.52" x2="638.87" y2="455.79" stroke="#3030f4" stroke-width="0.8"/>
<line x1="595.2" y1="445.54" x2="602.57" y2="428.56" stroke="#ee3030" stroke-width="0.8"/>
<line x1="603.01" y1="443.31" x2="627.76" y2="433.76" stroke="#3030f4" stroke-width="0.8"/>
<line x1="638.53" y1="418.25" x2="654.7" y2="415.28" stroke="#3030f4" stroke-width="0.8"/>
<line x1="597.66" y1="459.74" x2="613.51" y2="420.23" stroke="#ee3030" stroke-width="0.8"/>
<line x1="641.37" y1="461.42" x2="658.22" y2="409.33" stroke="#ee3030" stroke-width="0.8"/>
<line x1="641.5" y1="465.97" x2="655.97" y2="443.4" stroke="#ee3030" stroke-width="0.8"/>
<line x1="637.2" y1="463.31" x2="648.15" y2="432.34" stroke="#ee3030" stroke-width="0.8"/>
<line x1="636.99" y1="421.86" x2="653.07" y2="394.73" stroke="#ee3030" stroke-width="0.8"/>
<line x1="626.24" y1="443.75" x2="634.15" y2="448.38" stroke="#3030f4" stroke-width="0.8"/>
<line x1="632.83" y1="422.38" x2="639.1" y2="406.02" stroke="#ee3030" stroke-width="0.8"/>
<line x1="620.51" y1="464.42" x2="628.75" y2="442.68" stroke="#ee3030" stroke-width="0.8"/>
<line x1="610.76" y1="472.77" x2="649.31" y2="474.91" stroke="#3030f4" stroke-width="0.8"/>
<line x1="634.95" y1="436.49" x2="650.31" y2="396.04" stroke="#ee3030" stroke-width="0.8"/>
<line x1="596.48" y1="441.98" x2="610.74" y2="419.19" stroke="#ee3030" stroke-width="0.8"/>
<line x1="630.43" y1="457.43" x2="636.61" y2="445.37" stroke="#ee3030" stroke-width="0.8"/>
<line x1="603.92" y1="434.53" x2="626.69" y2="423.07" stroke="#3030f4" stroke-width="0.8"/>
<line x1="642.89" y1="448.92" x2="657.21" y2="418.89" stroke="#ee3030" stroke-width="0.8"/>
<line x1="599.13" y1="464.83" x2="621.17" y2="459.44" stroke="#3030f4" stroke-width="0.8"/>
<line x1="610.97" y1="419.34" x2="634.7" y2="423.7" stroke="#3030f4" stroke-width="0.8"/>
<line x1="640.76" y1="434.46" x2="655.06" y2="392.08" stroke="#ee3030" stroke-width="0.8"/>
<line x1="606.05" y1="452.02" x2="612.62" y2="439.77" stroke="#ee3030" stroke-width="0.8"/>
<line x1="600.92" y1="448.43" x2="608.78" y2="429.59" stroke="#ee3030" stroke-width="0.8"/>
<line x1="629.39" y1="431.62" x2="652.89" y2="429.91" stroke="#3030f4" stroke-width="0.8"/>
<line x1="594.16" y1="429.13" x2="610.67" y2="434.54" stroke="#3030f4" stroke-width="0.8"/>
<line x1="648.45" y1="431.57" x2="666.73" y2="438.21" stroke="#3030f4" stroke-width="0.8"/>
<line x1="582.45" y1="476.54" x2="594.79" y2="474.25" stroke="#3030f4" stroke-width="0.8"/>
<line x1="640.19" y1="448.18" x2="649.65" y2="430.6" stroke="#ee3030" stroke-width="0.8"/>
<line x1="604.49" y1="437.4" x2="614.01" y2="416.95" stroke="#ee3030" stroke-width="0.8"/>
<line x1="599.15" y1="470.92" x2="619.56" y2="462.58" stroke="#3030f4" stroke-width="0.8"/>
<line x1="593" y1="454.38" x2="605.95" y2="420.39" stroke="#ee3030" stroke-width="0.8"/>
<line x1="598" y1="435.15" x2="605.36" y2="417.32" stroke="#ee3030" stroke-width="0.8"/>
<line x1="616.57" y1="423.12" x2="640.45" y2="421.01" stroke="#3030f4" stroke-width="0.8"/>
<line x1="569.93" y1="466.88" x2="607.97" y2="455.55" stroke="#3030f4" stroke-width="0.8"/>
<line x1="649.89" y1="420.29" x2="671.16" y2="423.18" stroke="#3030f4" stroke-width="0.8"/>
<line x1="624.44" y1="466.7" x2="637.24" y2="436.94" stroke="#ee3030" stroke-width="0.8"/>
<line x1="605.13" y1="435.37" x2="613.97" y2="420.43" stroke="#ee3030" stroke-width="0.8"/>
<line x1="632.38" y1="462.87" x2="641.11" y2="434.48" stroke="#ee3030" stroke-width="0.8"/>
<line x1="619.48" y1="475.97" x2="652.74" y2="475.85" stroke="#3030f4" stroke-width="0.8"/>
<line x1="548.53" y1="474.62" x2="567.87" y2="474.07" stroke="#3030f4" stroke-width="0.8"/>
<line x1="641.02" y1="426.33" x2="666.49" y2="426.56" stroke="#3030f4" stroke-width="0.8"/>
<line x1="631.72" y1="431.07" x2="647.53" y2="398.2" stroke="#ee3030" stroke-width="0.8"/>
</g>
<rect x="523.6" y="378" width="157.4" height="101.6" fill="none" stroke="#8a8a8a" stroke-width="1"/>
<line x1="519.3" y1="460.4" x2="523.6" y2="460.4" stroke="#777777" stroke-width="0.8"/>
<text x="518.3" y="463.06" font-size="7.4" text-anchor="end" fill="#2a2a2a">20</text>
<line x1="519.3" y1="436" x2="523.6" y2="436" stroke="#777777" stroke-width="0.8"/>
<text x="518.3" y="438.66" font-size="7.4" text-anchor="end" fill="#2a2a2a">40</text>
<line x1="519.3" y1="411.6" x2="523.6" y2="411.6" stroke="#777777" stroke-width="0.8"/>
<text x="518.3" y="414.26" font-size="7.4" text-anchor="end" fill="#2a2a2a">60</text>
<line x1="519.3" y1="387.2" x2="523.6" y2="387.2" stroke="#777777" stroke-width="0.8"/>
<text x="518.3" y="389.86" font-size="7.4" text-anchor="end" fill="#2a2a2a">80</text>
<line x1="534.6" y1="479.6" x2="534.6" y2="483.9" stroke="#777777" stroke-width="0.8"/>
<text x="534.6" y="490.9" font-size="7.4" text-anchor="middle" fill="#2a2a2a">20</text>
<line x1="582.8" y1="479.6" x2="582.8" y2="483.9" stroke="#777777" stroke-width="0.8"/>
<text x="582.8" y="490.9" font-size="7.4" text-anchor="middle" fill="#2a2a2a">40</text>
<line x1="631" y1="479.6" x2="631" y2="483.9" stroke="#777777" stroke-width="0.8"/>
<text x="631" y="490.9" font-size="7.4" text-anchor="middle" fill="#2a2a2a">60</text>
<line x1="679.2" y1="479.6" x2="679.2" y2="483.9" stroke="#777777" stroke-width="0.8"/>
<text x="679.2" y="490.9" font-size="7.4" text-anchor="middle" fill="#2a2a2a">80</text>
<text x="502.5" y="429" font-size="9" text-anchor="middle" transform="rotate(-90 502.5 429)">CombiWISE</text>
<text x="602" y="501" font-size="9" text-anchor="middle">age</text>
<line x1="632" y1="437" x2="645.4" y2="397" stroke="#1e6e1e" stroke-width="1.5"/>
<line x1="658" y1="396.4" x2="646.1" y2="402.04" stroke="#2a7a1a" stroke-width="1.4"/>
<path d="M642.4 403.8 L645.44 399.48 L647.67 404.18 Z" fill="#2a7a1a"/>
<text x="664" y="385" font-size="8.4" text-anchor="middle" fill="#2a7a2a">slope</text>
<text x="664" y="393.6" font-size="8.4" text-anchor="middle" fill="#2a7a2a">example</text>
<rect x="654" y="449" width="25" height="28.6" fill="#ffffff" stroke="#444" stroke-width="0.9"/>
<text x="655.5" y="458" font-size="8" fill="#3333ff">T1</text>
<line x1="671" y1="455.6" x2="676" y2="455.6" stroke="#3333ff" stroke-width="1.2"/>
<text x="655.5" y="466.2" font-size="8" fill="#c0c0c0">T2</text>
<line x1="671" y1="463.6" x2="676" y2="463.6" stroke="#c0c0c0" stroke-width="1.2"/>
<text x="655.5" y="475" font-size="8" fill="#ff2a2a">T3</text>
<line x1="671" y1="472.4" x2="676" y2="472.4" stroke="#ff2a2a" stroke-width="1.2"/>
<text x="638" y="478" font-size="7.6" text-anchor="end">n=150</text>
<text x="0.5" y="521" font-size="14" fill="#000" font-weight="bold">g</text>
<text x="19" y="521" font-size="9.1">Example of a patient-specific biomarker slope</text>
<path d="M40.2 582.2 L44.86 581.35 L49.52 580.48 L54.18 579.59 L58.83 578.65 L63.49 577.68 L68.15 576.64 L72.81 575.53 L77.47 574.33 L82.12 573.02 L86.78 571.55 L91.44 569.89 L96.1 568.01 L100.76 565.89 L105.42 563.54 L110.08 560.98 L114.73 558.24 L119.39 555.34 L124.05 552.32 L128.71 549.19 L133.37 545.98 L138.02 542.7 L142.68 539.37 L147.34 536 L152 532.6 L152 568.6 L147.34 569.61 L142.68 570.66 L138.02 571.75 L133.37 572.89 L128.71 574.09 L124.05 575.38 L119.39 576.77 L114.73 578.29 L110.08 579.97 L105.42 581.83 L100.76 583.89 L96.1 586.19 L91.44 588.73 L86.78 591.49 L82.12 594.43 L77.47 597.53 L72.81 600.75 L68.15 604.06 L63.49 607.44 L58.83 610.88 L54.18 614.36 L49.52 617.88 L44.86 621.43 L40.2 625 Z" fill="#f8e0e6"/>
<rect x="27.6" y="527.6" width="170" height="102" fill="none" stroke="#8a8a8a" stroke-width="1"/>
<line x1="34.6" y1="629.6" x2="34.6" y2="633.9" stroke="#777777" stroke-width="0.8"/>
<text x="34.6" y="640.9" font-size="7.4" text-anchor="middle" fill="#2a2a2a">60</text>
<line x1="79" y1="629.6" x2="79" y2="633.9" stroke="#777777" stroke-width="0.8"/>
<text x="79" y="640.9" font-size="7.4" text-anchor="middle" fill="#2a2a2a">62</text>
<line x1="123.4" y1="629.6" x2="123.4" y2="633.9" stroke="#777777" stroke-width="0.8"/>
<text x="123.4" y="640.9" font-size="7.4" text-anchor="middle" fill="#2a2a2a">64</text>
<line x1="167.8" y1="629.6" x2="167.8" y2="633.9" stroke="#777777" stroke-width="0.8"/>
<text x="167.8" y="640.9" font-size="7.4" text-anchor="middle" fill="#2a2a2a">66</text>
<text x="112" y="651.5" font-size="9" text-anchor="middle">Age</text>
<text x="17.5" y="579" font-size="9" text-anchor="middle" fill="#ff33ff" transform="rotate(-90 17.5 579)">CSF biomarker</text>
<text x="35" y="542.4" font-size="9.1">nr LPs = 5</text>
<text x="35" y="553" font-size="9.1">FU length = 4.1y</text>
<line x1="40" y1="604" x2="151.6" y2="550" stroke="#ff33ff" stroke-width="1.6"/>
<rect x="37.2" y="598.2" width="4.8" height="4.8" fill="none" stroke="#ff33ff" stroke-width="0.9"/>
<rect x="83.2" y="585" width="4.8" height="4.8" fill="none" stroke="#ff33ff" stroke-width="0.9"/>
<rect x="105.6" y="564.6" width="4.8" height="4.8" fill="none" stroke="#ff33ff" stroke-width="0.9"/>
<rect x="128.2" y="566.6" width="4.8" height="4.8" fill="none" stroke="#ff33ff" stroke-width="0.9"/>
<rect x="149.6" y="540.6" width="4.8" height="4.8" fill="none" stroke="#ff33ff" stroke-width="0.9"/>
<line x1="40" y1="605.6" x2="99.6" y2="605.6" stroke="#ff33ff" stroke-width="1.4"/>
<path d="M67.9 590.5 A 31 31 0 0 1 71 605.6" fill="none" stroke="#ff33ff" stroke-width="1.4"/>
<text x="179.4" y="600" font-size="9.1" text-anchor="end" fill="#ff33ff">CSF biomarker slope</text>
<text x="168" y="610.6" font-size="9.1" text-anchor="end" fill="#ff33ff">(yearly change)</text>
<text x="157.6" y="551" font-size="9.1" fill="#ff33ff">R<tspan font-size="5.64" dy="-3.28">2</tspan><tspan dy="3.28"> = 0.87</tspan></text>
<text x="157.6" y="562" font-size="9.1" fill="#ff33ff">p=0.013</text>
<text x="214" y="522.4" font-size="14" fill="#000" font-weight="bold">h</text>
<text x="231" y="521" font-size="9.1">Significantly different biomarkers</text>
<rect x="225" y="527" width="14.4" height="104" fill="url(#ghy)"/>
<rect x="239.4" y="631" width="159.2" height="8.6" fill="url(#ghx)"/>
<line x1="317.4" y1="527" x2="317.4" y2="631" stroke="#d0d0d0" stroke-width="0.7" stroke-dasharray="2,2"/>
<line x1="239.4" y1="580.4" x2="398.6" y2="580.4" stroke="#d0d0d0" stroke-width="0.7" stroke-dasharray="2,2"/>
<line x1="245" y1="624.4" x2="391" y2="535.6" stroke="#333" stroke-width="0.9"/>
<line x1="252" y1="578.4" x2="245.6" y2="622.6" stroke="#333" stroke-width="0.8"/>
<line x1="353.6" y1="592.5" x2="324" y2="579" stroke="#333" stroke-width="0.8"/>
<circle cx="262.6" cy="606.4" r="1.9" fill="#b0e0e4" stroke="#2c4a4a" stroke-width="0.6"/>
<circle cx="278" cy="603" r="1.9" fill="#b0e0e4" stroke="#2c4a4a" stroke-width="0.6"/>
<circle cx="281" cy="606" r="1.9" fill="#b0e0e4" stroke="#2c4a4a" stroke-width="0.6"/>
<circle cx="283" cy="601" r="1.9" fill="#b0e0e4" stroke="#2c4a4a" stroke-width="0.6"/>
<circle cx="297" cy="598.4" r="1.9" fill="#b0e0e4" stroke="#2c4a4a" stroke-width="0.6"/>
<circle cx="246" cy="622.6" r="1.9" fill="#b0e0e4" stroke="#2c4a4a" stroke-width="0.6"/>
<circle cx="324" cy="567" r="1.9" fill="#b0e0e4" stroke="#2c4a4a" stroke-width="0.6"/>
<circle cx="334.4" cy="561" r="1.9" fill="#b0e0e4" stroke="#2c4a4a" stroke-width="0.6"/>
<circle cx="339" cy="561.6" r="1.9" fill="#b0e0e4" stroke="#2c4a4a" stroke-width="0.6"/>
<circle cx="336" cy="566.4" r="1.9" fill="#b0e0e4" stroke="#2c4a4a" stroke-width="0.6"/>
<circle cx="333.6" cy="569.6" r="1.9" fill="#b0e0e4" stroke="#2c4a4a" stroke-width="0.6"/>
<circle cx="344" cy="559.6" r="1.9" fill="#b0e0e4" stroke="#2c4a4a" stroke-width="0.6"/>
<circle cx="347" cy="556" r="1.9" fill="#b0e0e4" stroke="#2c4a4a" stroke-width="0.6"/>
<circle cx="349" cy="555" r="1.9" fill="#b0e0e4" stroke="#2c4a4a" stroke-width="0.6"/>
<circle cx="351" cy="553.6" r="1.9" fill="#b0e0e4" stroke="#2c4a4a" stroke-width="0.6"/>
<circle cx="353" cy="560" r="1.9" fill="#b0e0e4" stroke="#2c4a4a" stroke-width="0.6"/>
<circle cx="355.6" cy="549" r="1.9" fill="#b0e0e4" stroke="#2c4a4a" stroke-width="0.6"/>
<circle cx="356" cy="555" r="1.9" fill="#b0e0e4" stroke="#2c4a4a" stroke-width="0.6"/>
<circle cx="360" cy="553" r="1.9" fill="#b0e0e4" stroke="#2c4a4a" stroke-width="0.6"/>
<circle cx="362.4" cy="555" r="1.9" fill="#b0e0e4" stroke="#2c4a4a" stroke-width="0.6"/>
<circle cx="364" cy="550" r="1.9" fill="#b0e0e4" stroke="#2c4a4a" stroke-width="0.6"/>
<circle cx="370" cy="547" r="1.9" fill="#b0e0e4" stroke="#2c4a4a" stroke-width="0.6"/>
<circle cx="383.6" cy="531.6" r="1.9" fill="#b0e0e4" stroke="#2c4a4a" stroke-width="0.6"/>
<circle cx="391" cy="554.4" r="1.9" fill="#b0e0e4" stroke="#2c4a4a" stroke-width="0.6"/>
<circle cx="364.4" cy="552.4" r="1.9" fill="#b0e0e4" stroke="#2c4a4a" stroke-width="0.6"/>
<circle cx="341" cy="558" r="1.9" fill="#b0e0e4" stroke="#2c4a4a" stroke-width="0.6"/>
<circle cx="358" cy="551" r="1.9" fill="#b0e0e4" stroke="#2c4a4a" stroke-width="0.6"/>
<path d="M309.4 579.8 L306.9 584.2 L311.9 584.2 Z" fill="#e9a228" stroke="#333" stroke-width="0.5"/>
<path d="M320 574.4 L317.5 578.8 L322.5 578.8 Z" fill="#e9a228" stroke="#333" stroke-width="0.5"/>
<path d="M323 573.4 L320.5 577.8 L325.5 577.8 Z" fill="#e9a228" stroke="#333" stroke-width="0.5"/>
<path d="M326 574.4 L323.5 578.8 L328.5 578.8 Z" fill="#e9a228" stroke="#333" stroke-width="0.5"/>
<path d="M329 574.4 L326.5 578.8 L331.5 578.8 Z" fill="#e9a228" stroke="#333" stroke-width="0.5"/>
<path d="M332 575.4 L329.5 579.8 L334.5 579.8 Z" fill="#e9a228" stroke="#333" stroke-width="0.5"/>
<path d="M335 573 L332.5 577.4 L337.5 577.4 Z" fill="#e9a228" stroke="#333" stroke-width="0.5"/>
<path d="M320 580 L317.5 584.4 L322.5 584.4 Z" fill="#e9a228" stroke="#333" stroke-width="0.5"/>
<path d="M321.5 572.4 L319 576.8 L324 576.8 Z" fill="#e9a228" stroke="#333" stroke-width="0.5"/>
<path d="M324.5 572 L322 576.4 L327 576.4 Z" fill="#e9a228" stroke="#333" stroke-width="0.5"/>
<path d="M327.5 572.6 L325 577 L330 577 Z" fill="#e9a228" stroke="#333" stroke-width="0.5"/>
<path d="M330.5 573.4 L328 577.8 L333 577.8 Z" fill="#e9a228" stroke="#333" stroke-width="0.5"/>
<rect x="239.4" y="527" width="159.2" height="104" fill="none" stroke="#8a8a8a" stroke-width="1"/>
<line x1="237" y1="629.2" x2="239.4" y2="629.2" stroke="#777" stroke-width="0.7"/>
<text x="237.6" y="631.7" font-size="7" text-anchor="end" fill="#444">-0.4</text>
<line x1="237" y1="604.8" x2="239.4" y2="604.8" stroke="#777" stroke-width="0.7"/>
<text x="237.6" y="607.3" font-size="7" text-anchor="end" fill="#444">-0.2</text>
<line x1="237" y1="580.4" x2="239.4" y2="580.4" stroke="#777" stroke-width="0.7"/>
<text x="237.6" y="582.9" font-size="7" text-anchor="end" fill="#444">0.0</text>
<line x1="237" y1="556" x2="239.4" y2="556" stroke="#777" stroke-width="0.7"/>
<text x="237.6" y="558.5" font-size="7" text-anchor="end" fill="#444">0.2</text>
<line x1="237" y1="531.6" x2="239.4" y2="531.6" stroke="#777" stroke-width="0.7"/>
<text x="237.6" y="534.1" font-size="7" text-anchor="end" fill="#444">0.4</text>
<line x1="244" y1="631" x2="244" y2="633.5" stroke="#777" stroke-width="0.7"/>
<text x="244" y="638.8" font-size="7" text-anchor="middle" fill="#444">-2</text>
<line x1="280.7" y1="631" x2="280.7" y2="633.5" stroke="#777" stroke-width="0.7"/>
<text x="280.7" y="638.8" font-size="7" text-anchor="middle" fill="#444">-1</text>
<line x1="317.4" y1="631" x2="317.4" y2="633.5" stroke="#777" stroke-width="0.7"/>
<text x="317.4" y="638.8" font-size="7" text-anchor="middle" fill="#444">0</text>
<line x1="354.1" y1="631" x2="354.1" y2="633.5" stroke="#777" stroke-width="0.7"/>
<text x="354.1" y="638.8" font-size="7" text-anchor="middle" fill="#444">1</text>
<line x1="390.8" y1="631" x2="390.8" y2="633.5" stroke="#777" stroke-width="0.7"/>
<text x="390.8" y="638.8" font-size="7" text-anchor="middle" fill="#444">2</text>
<text x="240.4" y="541" font-size="7.8">R<tspan font-size="4.84" dy="-2.81">2</tspan><tspan dy="2.81">=0.93, p&lt;2.2e-16</tspan></text>
<rect x="242.4" y="568.4" width="57.2" height="10" fill="#fff" stroke="#777" stroke-width="0.8" rx="2.5"/>
<text x="271" y="576.4" font-size="7.8" text-anchor="middle">RAR activation</text>
<rect x="353.6" y="587.6" width="28.8" height="10.8" fill="#fff" stroke="#777" stroke-width="0.8" rx="2.5"/>
<text x="368" y="595.8" font-size="7.8" text-anchor="middle">GPC3</text>
<rect x="356.6" y="608.4" width="40.8" height="21" fill="#fff" stroke="#444" stroke-width="0.9"/>
<circle cx="362" cy="613.8" r="2.3" fill="#a8dce8" stroke="#333" stroke-width="0.6"/>
<text x="365.6" y="616.6" font-size="7.8">pathway</text>
<path d="M362 622.4 L359.5 626.6 L364.5 626.6 Z" fill="#e9a228" stroke="#333" stroke-width="0.5"/>
<text x="365.6" y="627" font-size="7.8">protein</text>
<text x="213" y="579" font-size="9.2" text-anchor="middle" transform="rotate(-90 213 579)">cross-sectional</text>
<text x="222.3" y="579" font-size="9.2" text-anchor="middle" transform="rotate(-90 222.3 579)">CombiWISE association</text>
<text x="239" y="648" font-size="7.9">difference in marker slope between <tspan fill="#ff2a2a">T3</tspan> and <tspan fill="#3333ff">T1</tspan></text>
<rect x="430.6" y="527.6" width="110" height="103.8" fill="none" stroke="#8a8a8a" stroke-width="1"/>
<line x1="430.6" y1="592.4" x2="540.6" y2="592.4" stroke="#b8b8b8" stroke-width="1.1" stroke-dasharray="4,3"/>
<circle cx="463.44" cy="591.57" r="1.8" fill="#3a3af6" stroke="#2424c0" stroke-width="0.4" fill-opacity="0.5"/>
<circle cx="461.95" cy="574.45" r="1.8" fill="#3a3af6" stroke="#2424c0" stroke-width="0.4" fill-opacity="0.5"/>
<circle cx="466.81" cy="587.83" r="1.8" fill="#3a3af6" stroke="#2424c0" stroke-width="0.4" fill-opacity="0.5"/>
<circle cx="459.53" cy="607.22" r="1.8" fill="#3a3af6" stroke="#2424c0" stroke-width="0.4" fill-opacity="0.5"/>
<circle cx="462.44" cy="591.05" r="1.8" fill="#3a3af6" stroke="#2424c0" stroke-width="0.4" fill-opacity="0.5"/>
<circle cx="460.11" cy="586.16" r="1.8" fill="#3a3af6" stroke="#2424c0" stroke-width="0.4" fill-opacity="0.5"/>
<circle cx="463.49" cy="587.62" r="1.8" fill="#3a3af6" stroke="#2424c0" stroke-width="0.4" fill-opacity="0.5"/>
<circle cx="450.91" cy="588.22" r="1.8" fill="#3a3af6" stroke="#2424c0" stroke-width="0.4" fill-opacity="0.5"/>
<circle cx="453.03" cy="594.61" r="1.8" fill="#3a3af6" stroke="#2424c0" stroke-width="0.4" fill-opacity="0.5"/>
<circle cx="467.99" cy="574.87" r="1.8" fill="#3a3af6" stroke="#2424c0" stroke-width="0.4" fill-opacity="0.5"/>
<circle cx="464.99" cy="586.61" r="1.8" fill="#3a3af6" stroke="#2424c0" stroke-width="0.4" fill-opacity="0.5"/>
<circle cx="454.35" cy="595.2" r="1.8" fill="#3a3af6" stroke="#2424c0" stroke-width="0.4" fill-opacity="0.5"/>
<circle cx="464.87" cy="595.69" r="1.8" fill="#3a3af6" stroke="#2424c0" stroke-width="0.4" fill-opacity="0.5"/>
<circle cx="452.29" cy="582.98" r="1.8" fill="#3a3af6" stroke="#2424c0" stroke-width="0.4" fill-opacity="0.5"/>
<circle cx="459.81" cy="605.21" r="1.8" fill="#3a3af6" stroke="#2424c0" stroke-width="0.4" fill-opacity="0.5"/>
<circle cx="469.89" cy="576.97" r="1.8" fill="#3a3af6" stroke="#2424c0" stroke-width="0.4" fill-opacity="0.5"/>
<circle cx="450.89" cy="598.51" r="1.8" fill="#3a3af6" stroke="#2424c0" stroke-width="0.4" fill-opacity="0.5"/>
<circle cx="452.19" cy="606.25" r="1.8" fill="#3a3af6" stroke="#2424c0" stroke-width="0.4" fill-opacity="0.5"/>
<circle cx="453.92" cy="595.15" r="1.8" fill="#3a3af6" stroke="#2424c0" stroke-width="0.4" fill-opacity="0.5"/>
<circle cx="451.8" cy="579.91" r="1.8" fill="#3a3af6" stroke="#2424c0" stroke-width="0.4" fill-opacity="0.5"/>
<circle cx="459.37" cy="593.3" r="1.8" fill="#3a3af6" stroke="#2424c0" stroke-width="0.4" fill-opacity="0.5"/>
<circle cx="466.55" cy="599.79" r="1.8" fill="#3a3af6" stroke="#2424c0" stroke-width="0.4" fill-opacity="0.5"/>
<circle cx="463.19" cy="594.14" r="1.8" fill="#3a3af6" stroke="#2424c0" stroke-width="0.4" fill-opacity="0.5"/>
<circle cx="466.32" cy="591.03" r="1.8" fill="#3a3af6" stroke="#2424c0" stroke-width="0.4" fill-opacity="0.5"/>
<circle cx="461.94" cy="583.68" r="1.8" fill="#3a3af6" stroke="#2424c0" stroke-width="0.4" fill-opacity="0.5"/>
<circle cx="470.08" cy="587.13" r="1.8" fill="#3a3af6" stroke="#2424c0" stroke-width="0.4" fill-opacity="0.5"/>
<circle cx="457.24" cy="606.34" r="1.8" fill="#3a3af6" stroke="#2424c0" stroke-width="0.4" fill-opacity="0.5"/>
<circle cx="467.23" cy="607.78" r="1.8" fill="#3a3af6" stroke="#2424c0" stroke-width="0.4" fill-opacity="0.5"/>
<circle cx="459.17" cy="601.36" r="1.8" fill="#3a3af6" stroke="#2424c0" stroke-width="0.4" fill-opacity="0.5"/>
<circle cx="464.3" cy="578.52" r="1.8" fill="#3a3af6" stroke="#2424c0" stroke-width="0.4" fill-opacity="0.5"/>
<circle cx="466.75" cy="607" r="1.8" fill="#3a3af6" stroke="#2424c0" stroke-width="0.4" fill-opacity="0.5"/>
<circle cx="455.86" cy="586.42" r="1.8" fill="#3a3af6" stroke="#2424c0" stroke-width="0.4" fill-opacity="0.5"/>
<circle cx="466.92" cy="593.44" r="1.8" fill="#3a3af6" stroke="#2424c0" stroke-width="0.4" fill-opacity="0.5"/>
<circle cx="467.26" cy="574.29" r="1.8" fill="#3a3af6" stroke="#2424c0" stroke-width="0.4" fill-opacity="0.5"/>
<circle cx="462.04" cy="584.72" r="1.8" fill="#3a3af6" stroke="#2424c0" stroke-width="0.4" fill-opacity="0.5"/>
<circle cx="466.74" cy="596.61" r="1.8" fill="#3a3af6" stroke="#2424c0" stroke-width="0.4" fill-opacity="0.5"/>
<circle cx="457.54" cy="607.17" r="1.8" fill="#3a3af6" stroke="#2424c0" stroke-width="0.4" fill-opacity="0.5"/>
<circle cx="466.55" cy="593.04" r="1.8" fill="#3a3af6" stroke="#2424c0" stroke-width="0.4" fill-opacity="0.5"/>
<circle cx="469.23" cy="595.4" r="1.8" fill="#3a3af6" stroke="#2424c0" stroke-width="0.4" fill-opacity="0.5"/>
<circle cx="464.15" cy="593.68" r="1.8" fill="#3a3af6" stroke="#2424c0" stroke-width="0.4" fill-opacity="0.5"/>
<circle cx="455.69" cy="588.88" r="1.8" fill="#3a3af6" stroke="#2424c0" stroke-width="0.4" fill-opacity="0.5"/>
<circle cx="459.79" cy="583.77" r="1.8" fill="#3a3af6" stroke="#2424c0" stroke-width="0.4" fill-opacity="0.5"/>
<circle cx="466.04" cy="596.08" r="1.8" fill="#3a3af6" stroke="#2424c0" stroke-width="0.4" fill-opacity="0.5"/>
<circle cx="468.54" cy="593.36" r="1.8" fill="#3a3af6" stroke="#2424c0" stroke-width="0.4" fill-opacity="0.5"/>
<circle cx="460.13" cy="580.36" r="1.8" fill="#3a3af6" stroke="#2424c0" stroke-width="0.4" fill-opacity="0.5"/>
<circle cx="454.45" cy="600.22" r="1.8" fill="#3a3af6" stroke="#2424c0" stroke-width="0.4" fill-opacity="0.5"/>
<circle cx="457.86" cy="594.81" r="1.8" fill="#3a3af6" stroke="#2424c0" stroke-width="0.4" fill-opacity="0.5"/>
<circle cx="460.94" cy="602.26" r="1.8" fill="#3a3af6" stroke="#2424c0" stroke-width="0.4" fill-opacity="0.5"/>
<circle cx="470.54" cy="586.94" r="1.8" fill="#3a3af6" stroke="#2424c0" stroke-width="0.4" fill-opacity="0.5"/>
<circle cx="463.25" cy="587.67" r="1.8" fill="#3a3af6" stroke="#2424c0" stroke-width="0.4" fill-opacity="0.5"/>
<circle cx="457.6" cy="563.4" r="1.8" fill="#3a3af6" stroke="#2424c0" stroke-width="0.4" fill-opacity="0.5"/>
<circle cx="470.6" cy="570" r="1.8" fill="#3a3af6" stroke="#2424c0" stroke-width="0.4" fill-opacity="0.5"/>
<circle cx="453.4" cy="616.8" r="1.8" fill="#3a3af6" stroke="#2424c0" stroke-width="0.4" fill-opacity="0.5"/>
<circle cx="452.4" cy="609.4" r="1.8" fill="#3a3af6" stroke="#2424c0" stroke-width="0.4" fill-opacity="0.5"/>
<line x1="460.6" y1="570.6" x2="460.6" y2="586.4" stroke="#333" stroke-width="0.9"/>
<line x1="460.6" y1="598.4" x2="460.6" y2="610.4" stroke="#333" stroke-width="0.9"/>
<rect x="441.6" y="586.4" width="38" height="12" fill="none" stroke="#333" stroke-width="0.9"/>
<line x1="441.6" y1="592.4" x2="479.6" y2="592.4" stroke="#333" stroke-width="1.6"/>
<circle cx="512.54" cy="555.37" r="1.8" fill="#de4646" stroke="#a82222" stroke-width="0.4" fill-opacity="0.5"/>
<circle cx="501.01" cy="583.37" r="1.8" fill="#de4646" stroke="#a82222" stroke-width="0.4" fill-opacity="0.5"/>
<circle cx="517.92" cy="592.22" r="1.8" fill="#de4646" stroke="#a82222" stroke-width="0.4" fill-opacity="0.5"/>
<circle cx="505.83" cy="584.26" r="1.8" fill="#de4646" stroke="#a82222" stroke-width="0.4" fill-opacity="0.5"/>
<circle cx="519.53" cy="561.2" r="1.8" fill="#de4646" stroke="#a82222" stroke-width="0.4" fill-opacity="0.5"/>
<circle cx="519.87" cy="569.69" r="1.8" fill="#de4646" stroke="#a82222" stroke-width="0.4" fill-opacity="0.5"/>
<circle cx="504.62" cy="574.31" r="1.8" fill="#de4646" stroke="#a82222" stroke-width="0.4" fill-opacity="0.5"/>
<circle cx="501.62" cy="575.17" r="1.8" fill="#de4646" stroke="#a82222" stroke-width="0.4" fill-opacity="0.5"/>
<circle cx="509.77" cy="602.57" r="1.8" fill="#de4646" stroke="#a82222" stroke-width="0.4" fill-opacity="0.5"/>
<circle cx="501.88" cy="571.65" r="1.8" fill="#de4646" stroke="#a82222" stroke-width="0.4" fill-opacity="0.5"/>
<circle cx="503" cy="597.04" r="1.8" fill="#de4646" stroke="#a82222" stroke-width="0.4" fill-opacity="0.5"/>
<circle cx="511.89" cy="557.56" r="1.8" fill="#de4646" stroke="#a82222" stroke-width="0.4" fill-opacity="0.5"/>
<circle cx="513.99" cy="603.57" r="1.8" fill="#de4646" stroke="#a82222" stroke-width="0.4" fill-opacity="0.5"/>
<circle cx="503.79" cy="582.03" r="1.8" fill="#de4646" stroke="#a82222" stroke-width="0.4" fill-opacity="0.5"/>
<circle cx="505.03" cy="573.42" r="1.8" fill="#de4646" stroke="#a82222" stroke-width="0.4" fill-opacity="0.5"/>
<circle cx="507.64" cy="578.41" r="1.8" fill="#de4646" stroke="#a82222" stroke-width="0.4" fill-opacity="0.5"/>
<circle cx="517.34" cy="571.54" r="1.8" fill="#de4646" stroke="#a82222" stroke-width="0.4" fill-opacity="0.5"/>
<circle cx="514.79" cy="588.38" r="1.8" fill="#de4646" stroke="#a82222" stroke-width="0.4" fill-opacity="0.5"/>
<circle cx="501.72" cy="603.91" r="1.8" fill="#de4646" stroke="#a82222" stroke-width="0.4" fill-opacity="0.5"/>
<circle cx="519.39" cy="587.79" r="1.8" fill="#de4646" stroke="#a82222" stroke-width="0.4" fill-opacity="0.5"/>
<circle cx="512.43" cy="595.89" r="1.8" fill="#de4646" stroke="#a82222" stroke-width="0.4" fill-opacity="0.5"/>
<circle cx="507.08" cy="554.28" r="1.8" fill="#de4646" stroke="#a82222" stroke-width="0.4" fill-opacity="0.5"/>
<circle cx="510.23" cy="575.93" r="1.8" fill="#de4646" stroke="#a82222" stroke-width="0.4" fill-opacity="0.5"/>
<circle cx="503.46" cy="578.08" r="1.8" fill="#de4646" stroke="#a82222" stroke-width="0.4" fill-opacity="0.5"/>
<circle cx="514.94" cy="592.55" r="1.8" fill="#de4646" stroke="#a82222" stroke-width="0.4" fill-opacity="0.5"/>
<circle cx="519.15" cy="574.28" r="1.8" fill="#de4646" stroke="#a82222" stroke-width="0.4" fill-opacity="0.5"/>
<circle cx="517.94" cy="591.16" r="1.8" fill="#de4646" stroke="#a82222" stroke-width="0.4" fill-opacity="0.5"/>
<circle cx="509.54" cy="555.02" r="1.8" fill="#de4646" stroke="#a82222" stroke-width="0.4" fill-opacity="0.5"/>
<circle cx="517.44" cy="591.06" r="1.8" fill="#de4646" stroke="#a82222" stroke-width="0.4" fill-opacity="0.5"/>
<circle cx="507.4" cy="597.68" r="1.8" fill="#de4646" stroke="#a82222" stroke-width="0.4" fill-opacity="0.5"/>
<circle cx="513.16" cy="562.31" r="1.8" fill="#de4646" stroke="#a82222" stroke-width="0.4" fill-opacity="0.5"/>
<circle cx="501.73" cy="577.77" r="1.8" fill="#de4646" stroke="#a82222" stroke-width="0.4" fill-opacity="0.5"/>
<circle cx="503.49" cy="598.86" r="1.8" fill="#de4646" stroke="#a82222" stroke-width="0.4" fill-opacity="0.5"/>
<circle cx="508.84" cy="557.75" r="1.8" fill="#de4646" stroke="#a82222" stroke-width="0.4" fill-opacity="0.5"/>
<circle cx="517.39" cy="578.7" r="1.8" fill="#de4646" stroke="#a82222" stroke-width="0.4" fill-opacity="0.5"/>
<circle cx="510.42" cy="576.75" r="1.8" fill="#de4646" stroke="#a82222" stroke-width="0.4" fill-opacity="0.5"/>
<circle cx="502.88" cy="590.58" r="1.8" fill="#de4646" stroke="#a82222" stroke-width="0.4" fill-opacity="0.5"/>
<circle cx="518.5" cy="553.23" r="1.8" fill="#de4646" stroke="#a82222" stroke-width="0.4" fill-opacity="0.5"/>
<circle cx="510.15" cy="594.87" r="1.8" fill="#de4646" stroke="#a82222" stroke-width="0.4" fill-opacity="0.5"/>
<circle cx="504.63" cy="578.45" r="1.8" fill="#de4646" stroke="#a82222" stroke-width="0.4" fill-opacity="0.5"/>
<circle cx="520.56" cy="592.23" r="1.8" fill="#de4646" stroke="#a82222" stroke-width="0.4" fill-opacity="0.5"/>
<circle cx="506.39" cy="554.11" r="1.8" fill="#de4646" stroke="#a82222" stroke-width="0.4" fill-opacity="0.5"/>
<circle cx="515.13" cy="553.24" r="1.8" fill="#de4646" stroke="#a82222" stroke-width="0.4" fill-opacity="0.5"/>
<circle cx="500.92" cy="592" r="1.8" fill="#de4646" stroke="#a82222" stroke-width="0.4" fill-opacity="0.5"/>
<circle cx="503.4" cy="559.36" r="1.8" fill="#de4646" stroke="#a82222" stroke-width="0.4" fill-opacity="0.5"/>
<circle cx="511.13" cy="589.25" r="1.8" fill="#de4646" stroke="#a82222" stroke-width="0.4" fill-opacity="0.5"/>
<circle cx="518.84" cy="581.78" r="1.8" fill="#de4646" stroke="#a82222" stroke-width="0.4" fill-opacity="0.5"/>
<circle cx="503.36" cy="584.34" r="1.8" fill="#de4646" stroke="#a82222" stroke-width="0.4" fill-opacity="0.5"/>
<circle cx="514.83" cy="588.08" r="1.8" fill="#de4646" stroke="#a82222" stroke-width="0.4" fill-opacity="0.5"/>
<circle cx="502.35" cy="575.09" r="1.8" fill="#de4646" stroke="#a82222" stroke-width="0.4" fill-opacity="0.5"/>
<circle cx="504.6" cy="546.4" r="1.8" fill="#de4646" stroke="#a82222" stroke-width="0.4" fill-opacity="0.5"/>
<circle cx="517.6" cy="557.6" r="1.8" fill="#de4646" stroke="#a82222" stroke-width="0.4" fill-opacity="0.5"/>
<line x1="510.6" y1="546.6" x2="510.6" y2="573.6" stroke="#333" stroke-width="0.9"/>
<line x1="510.6" y1="592.4" x2="510.6" y2="607" stroke="#333" stroke-width="0.9"/>
<rect x="491.6" y="573.6" width="38" height="18.8" fill="none" stroke="#333" stroke-width="0.9"/>
<line x1="491.6" y1="584" x2="529.6" y2="584" stroke="#333" stroke-width="1.6"/>
<text x="479.4" y="539.6" font-size="7.5" text-anchor="middle">T-test, p = 0.00017</text>
<text x="460.6" y="626.4" font-size="7.3" text-anchor="middle">n=50</text>
<text x="510.6" y="626.4" font-size="7.3" text-anchor="middle">n=50</text>
<text x="460.6" y="642" font-size="8.1" text-anchor="middle" fill="#3333ff">T1</text>
<text x="510.6" y="642" font-size="8.1" text-anchor="middle" fill="#ff2a2a">T3</text>
<text x="419" y="579" font-size="9.2" text-anchor="middle" fill="#ff33ff" transform="rotate(-90 419 579)">GPC3 yearly change</text>
<rect x="572" y="527.6" width="109.6" height="103.8" fill="none" stroke="#8a8a8a" stroke-width="1"/>
<line x1="572" y1="568" x2="681.6" y2="568" stroke="#b8b8b8" stroke-width="1.1" stroke-dasharray="4,3"/>
<circle cx="596.88" cy="581.79" r="1.8" fill="#3a3af6" stroke="#2424c0" stroke-width="0.4" fill-opacity="0.5"/>
<circle cx="605.56" cy="571.44" r="1.8" fill="#3a3af6" stroke="#2424c0" stroke-width="0.4" fill-opacity="0.5"/>
<circle cx="595.45" cy="559.06" r="1.8" fill="#3a3af6" stroke="#2424c0" stroke-width="0.4" fill-opacity="0.5"/>
<circle cx="599.56" cy="572.98" r="1.8" fill="#3a3af6" stroke="#2424c0" stroke-width="0.4" fill-opacity="0.5"/>
<circle cx="607.61" cy="577" r="1.8" fill="#3a3af6" stroke="#2424c0" stroke-width="0.4" fill-opacity="0.5"/>
<circle cx="608.69" cy="574.38" r="1.8" fill="#3a3af6" stroke="#2424c0" stroke-width="0.4" fill-opacity="0.5"/>
<circle cx="609.6" cy="563.8" r="1.8" fill="#3a3af6" stroke="#2424c0" stroke-width="0.4" fill-opacity="0.5"/>
<circle cx="596.73" cy="574.76" r="1.8" fill="#3a3af6" stroke="#2424c0" stroke-width="0.4" fill-opacity="0.5"/>
<circle cx="598.74" cy="574.24" r="1.8" fill="#3a3af6" stroke="#2424c0" stroke-width="0.4" fill-opacity="0.5"/>
<circle cx="603.3" cy="568.35" r="1.8" fill="#3a3af6" stroke="#2424c0" stroke-width="0.4" fill-opacity="0.5"/>
<circle cx="600.32" cy="570.25" r="1.8" fill="#3a3af6" stroke="#2424c0" stroke-width="0.4" fill-opacity="0.5"/>
<circle cx="605.69" cy="577.71" r="1.8" fill="#3a3af6" stroke="#2424c0" stroke-width="0.4" fill-opacity="0.5"/>
<circle cx="597.82" cy="562.14" r="1.8" fill="#3a3af6" stroke="#2424c0" stroke-width="0.4" fill-opacity="0.5"/>
<circle cx="606.43" cy="580.55" r="1.8" fill="#3a3af6" stroke="#2424c0" stroke-width="0.4" fill-opacity="0.5"/>
<circle cx="610.48" cy="574.77" r="1.8" fill="#3a3af6" stroke="#2424c0" stroke-width="0.4" fill-opacity="0.5"/>
<circle cx="602.01" cy="570.17" r="1.8" fill="#3a3af6" stroke="#2424c0" stroke-width="0.4" fill-opacity="0.5"/>
<circle cx="610.75" cy="576.63" r="1.8" fill="#3a3af6" stroke="#2424c0" stroke-width="0.4" fill-opacity="0.5"/>
<circle cx="593.45" cy="565.93" r="1.8" fill="#3a3af6" stroke="#2424c0" stroke-width="0.4" fill-opacity="0.5"/>
<circle cx="592" cy="574.06" r="1.8" fill="#3a3af6" stroke="#2424c0" stroke-width="0.4" fill-opacity="0.5"/>
<circle cx="595.3" cy="572.55" r="1.8" fill="#3a3af6" stroke="#2424c0" stroke-width="0.4" fill-opacity="0.5"/>
<circle cx="602.93" cy="571.27" r="1.8" fill="#3a3af6" stroke="#2424c0" stroke-width="0.4" fill-opacity="0.5"/>
<circle cx="593.46" cy="584.04" r="1.8" fill="#3a3af6" stroke="#2424c0" stroke-width="0.4" fill-opacity="0.5"/>
<circle cx="592.3" cy="560.52" r="1.8" fill="#3a3af6" stroke="#2424c0" stroke-width="0.4" fill-opacity="0.5"/>
<circle cx="601.42" cy="569.92" r="1.8" fill="#3a3af6" stroke="#2424c0" stroke-width="0.4" fill-opacity="0.5"/>
<circle cx="599.51" cy="565.16" r="1.8" fill="#3a3af6" stroke="#2424c0" stroke-width="0.4" fill-opacity="0.5"/>
<circle cx="608.62" cy="571.18" r="1.8" fill="#3a3af6" stroke="#2424c0" stroke-width="0.4" fill-opacity="0.5"/>
<circle cx="606.33" cy="570.93" r="1.8" fill="#3a3af6" stroke="#2424c0" stroke-width="0.4" fill-opacity="0.5"/>
<circle cx="610.15" cy="574.17" r="1.8" fill="#3a3af6" stroke="#2424c0" stroke-width="0.4" fill-opacity="0.5"/>
<circle cx="608.19" cy="568.98" r="1.8" fill="#3a3af6" stroke="#2424c0" stroke-width="0.4" fill-opacity="0.5"/>
<circle cx="610.23" cy="580.7" r="1.8" fill="#3a3af6" stroke="#2424c0" stroke-width="0.4" fill-opacity="0.5"/>
<circle cx="596.21" cy="556.4" r="1.8" fill="#3a3af6" stroke="#2424c0" stroke-width="0.4" fill-opacity="0.5"/>
<circle cx="611.02" cy="569.18" r="1.8" fill="#3a3af6" stroke="#2424c0" stroke-width="0.4" fill-opacity="0.5"/>
<circle cx="607.7" cy="562.65" r="1.8" fill="#3a3af6" stroke="#2424c0" stroke-width="0.4" fill-opacity="0.5"/>
<circle cx="601.75" cy="553.3" r="1.8" fill="#3a3af6" stroke="#2424c0" stroke-width="0.4" fill-opacity="0.5"/>
<circle cx="596.39" cy="562.89" r="1.8" fill="#3a3af6" stroke="#2424c0" stroke-width="0.4" fill-opacity="0.5"/>
<circle cx="598.69" cy="571.7" r="1.8" fill="#3a3af6" stroke="#2424c0" stroke-width="0.4" fill-opacity="0.5"/>
<circle cx="600.06" cy="577.15" r="1.8" fill="#3a3af6" stroke="#2424c0" stroke-width="0.4" fill-opacity="0.5"/>
<circle cx="594.19" cy="576.63" r="1.8" fill="#3a3af6" stroke="#2424c0" stroke-width="0.4" fill-opacity="0.5"/>
<circle cx="610.14" cy="561.17" r="1.8" fill="#3a3af6" stroke="#2424c0" stroke-width="0.4" fill-opacity="0.5"/>
<circle cx="609.09" cy="585.2" r="1.8" fill="#3a3af6" stroke="#2424c0" stroke-width="0.4" fill-opacity="0.5"/>
<circle cx="604.23" cy="553.09" r="1.8" fill="#3a3af6" stroke="#2424c0" stroke-width="0.4" fill-opacity="0.5"/>
<circle cx="596.87" cy="572.28" r="1.8" fill="#3a3af6" stroke="#2424c0" stroke-width="0.4" fill-opacity="0.5"/>
<circle cx="603.83" cy="586.46" r="1.8" fill="#3a3af6" stroke="#2424c0" stroke-width="0.4" fill-opacity="0.5"/>
<circle cx="600.07" cy="570.26" r="1.8" fill="#3a3af6" stroke="#2424c0" stroke-width="0.4" fill-opacity="0.5"/>
<circle cx="597.51" cy="555.85" r="1.8" fill="#3a3af6" stroke="#2424c0" stroke-width="0.4" fill-opacity="0.5"/>
<circle cx="603.29" cy="577.71" r="1.8" fill="#3a3af6" stroke="#2424c0" stroke-width="0.4" fill-opacity="0.5"/>
<circle cx="596.77" cy="558.31" r="1.8" fill="#3a3af6" stroke="#2424c0" stroke-width="0.4" fill-opacity="0.5"/>
<circle cx="594.37" cy="570.43" r="1.8" fill="#3a3af6" stroke="#2424c0" stroke-width="0.4" fill-opacity="0.5"/>
<circle cx="597.27" cy="565.28" r="1.8" fill="#3a3af6" stroke="#2424c0" stroke-width="0.4" fill-opacity="0.5"/>
<circle cx="596.27" cy="567.29" r="1.8" fill="#3a3af6" stroke="#2424c0" stroke-width="0.4" fill-opacity="0.5"/>
<circle cx="598.4" cy="617.6" r="1.8" fill="#3a3af6" stroke="#2424c0" stroke-width="0.4" fill-opacity="0.5"/>
<circle cx="594.6" cy="599.4" r="1.8" fill="#3a3af6" stroke="#2424c0" stroke-width="0.4" fill-opacity="0.5"/>
<circle cx="606.4" cy="603.6" r="1.8" fill="#3a3af6" stroke="#2424c0" stroke-width="0.4" fill-opacity="0.5"/>
<circle cx="597" cy="588.6" r="1.8" fill="#3a3af6" stroke="#2424c0" stroke-width="0.4" fill-opacity="0.5"/>
<circle cx="611" cy="589" r="1.8" fill="#3a3af6" stroke="#2424c0" stroke-width="0.4" fill-opacity="0.5"/>
<line x1="601.4" y1="550" x2="601.4" y2="563.6" stroke="#333" stroke-width="0.9"/>
<line x1="601.4" y1="576.4" x2="601.4" y2="590" stroke="#333" stroke-width="0.9"/>
<rect x="582.4" y="563.6" width="38" height="12.8" fill="none" stroke="#333" stroke-width="0.9"/>
<line x1="582.4" y1="569" x2="620.4" y2="569" stroke="#333" stroke-width="1.6"/>
<circle cx="658.19" cy="579.02" r="1.8" fill="#de4646" stroke="#a82222" stroke-width="0.4" fill-opacity="0.5"/>
<circle cx="654.41" cy="594.75" r="1.8" fill="#de4646" stroke="#a82222" stroke-width="0.4" fill-opacity="0.5"/>
<circle cx="650.62" cy="581.9" r="1.8" fill="#de4646" stroke="#a82222" stroke-width="0.4" fill-opacity="0.5"/>
<circle cx="650.78" cy="595.33" r="1.8" fill="#de4646" stroke="#a82222" stroke-width="0.4" fill-opacity="0.5"/>
<circle cx="645.83" cy="573.66" r="1.8" fill="#de4646" stroke="#a82222" stroke-width="0.4" fill-opacity="0.5"/>
<circle cx="653.11" cy="592.21" r="1.8" fill="#de4646" stroke="#a82222" stroke-width="0.4" fill-opacity="0.5"/>
<circle cx="658.64" cy="575.61" r="1.8" fill="#de4646" stroke="#a82222" stroke-width="0.4" fill-opacity="0.5"/>
<circle cx="651.23" cy="579.2" r="1.8" fill="#de4646" stroke="#a82222" stroke-width="0.4" fill-opacity="0.5"/>
<circle cx="647.31" cy="586.78" r="1.8" fill="#de4646" stroke="#a82222" stroke-width="0.4" fill-opacity="0.5"/>
<circle cx="642.74" cy="558.36" r="1.8" fill="#de4646" stroke="#a82222" stroke-width="0.4" fill-opacity="0.5"/>
<circle cx="642.64" cy="562.05" r="1.8" fill="#de4646" stroke="#a82222" stroke-width="0.4" fill-opacity="0.5"/>
<circle cx="656.11" cy="577.14" r="1.8" fill="#de4646" stroke="#a82222" stroke-width="0.4" fill-opacity="0.5"/>
<circle cx="660.59" cy="573.36" r="1.8" fill="#de4646" stroke="#a82222" stroke-width="0.4" fill-opacity="0.5"/>
<circle cx="648.14" cy="589.1" r="1.8" fill="#de4646" stroke="#a82222" stroke-width="0.4" fill-opacity="0.5"/>
<circle cx="653.73" cy="581.29" r="1.8" fill="#de4646" stroke="#a82222" stroke-width="0.4" fill-opacity="0.5"/>
<circle cx="651.76" cy="567.05" r="1.8" fill="#de4646" stroke="#a82222" stroke-width="0.4" fill-opacity="0.5"/>
<circle cx="656.59" cy="597.11" r="1.8" fill="#de4646" stroke="#a82222" stroke-width="0.4" fill-opacity="0.5"/>
<circle cx="655.57" cy="583.21" r="1.8" fill="#de4646" stroke="#a82222" stroke-width="0.4" fill-opacity="0.5"/>
<circle cx="658.82" cy="557.95" r="1.8" fill="#de4646" stroke="#a82222" stroke-width="0.4" fill-opacity="0.5"/>
<circle cx="653.12" cy="582.88" r="1.8" fill="#de4646" stroke="#a82222" stroke-width="0.4" fill-opacity="0.5"/>
<circle cx="652.84" cy="586.34" r="1.8" fill="#de4646" stroke="#a82222" stroke-width="0.4" fill-opacity="0.5"/>
<circle cx="658.86" cy="583.19" r="1.8" fill="#de4646" stroke="#a82222" stroke-width="0.4" fill-opacity="0.5"/>
<circle cx="650.45" cy="592.16" r="1.8" fill="#de4646" stroke="#a82222" stroke-width="0.4" fill-opacity="0.5"/>
<circle cx="647.26" cy="582.13" r="1.8" fill="#de4646" stroke="#a82222" stroke-width="0.4" fill-opacity="0.5"/>
<circle cx="649.09" cy="579.17" r="1.8" fill="#de4646" stroke="#a82222" stroke-width="0.4" fill-opacity="0.5"/>
<circle cx="658.39" cy="583.25" r="1.8" fill="#de4646" stroke="#a82222" stroke-width="0.4" fill-opacity="0.5"/>
<circle cx="645.08" cy="577.21" r="1.8" fill="#de4646" stroke="#a82222" stroke-width="0.4" fill-opacity="0.5"/>
<circle cx="652.91" cy="571.95" r="1.8" fill="#de4646" stroke="#a82222" stroke-width="0.4" fill-opacity="0.5"/>
<circle cx="659.8" cy="588.2" r="1.8" fill="#de4646" stroke="#a82222" stroke-width="0.4" fill-opacity="0.5"/>
<circle cx="658.16" cy="584.24" r="1.8" fill="#de4646" stroke="#a82222" stroke-width="0.4" fill-opacity="0.5"/>
<circle cx="649.93" cy="558.96" r="1.8" fill="#de4646" stroke="#a82222" stroke-width="0.4" fill-opacity="0.5"/>
<circle cx="642.35" cy="556.42" r="1.8" fill="#de4646" stroke="#a82222" stroke-width="0.4" fill-opacity="0.5"/>
<circle cx="659.81" cy="593.76" r="1.8" fill="#de4646" stroke="#a82222" stroke-width="0.4" fill-opacity="0.5"/>
<circle cx="661.37" cy="563.35" r="1.8" fill="#de4646" stroke="#a82222" stroke-width="0.4" fill-opacity="0.5"/>
<circle cx="655.1" cy="594.03" r="1.8" fill="#de4646" stroke="#a82222" stroke-width="0.4" fill-opacity="0.5"/>
<circle cx="653.29" cy="575.7" r="1.8" fill="#de4646" stroke="#a82222" stroke-width="0.4" fill-opacity="0.5"/>
<circle cx="654.93" cy="586.08" r="1.8" fill="#de4646" stroke="#a82222" stroke-width="0.4" fill-opacity="0.5"/>
<circle cx="648.89" cy="588.35" r="1.8" fill="#de4646" stroke="#a82222" stroke-width="0.4" fill-opacity="0.5"/>
<circle cx="652.88" cy="579.28" r="1.8" fill="#de4646" stroke="#a82222" stroke-width="0.4" fill-opacity="0.5"/>
<circle cx="651.13" cy="568.93" r="1.8" fill="#de4646" stroke="#a82222" stroke-width="0.4" fill-opacity="0.5"/>
<circle cx="661.32" cy="580.39" r="1.8" fill="#de4646" stroke="#a82222" stroke-width="0.4" fill-opacity="0.5"/>
<circle cx="657.72" cy="578.73" r="1.8" fill="#de4646" stroke="#a82222" stroke-width="0.4" fill-opacity="0.5"/>
<circle cx="660.97" cy="575" r="1.8" fill="#de4646" stroke="#a82222" stroke-width="0.4" fill-opacity="0.5"/>
<circle cx="643.61" cy="563.01" r="1.8" fill="#de4646" stroke="#a82222" stroke-width="0.4" fill-opacity="0.5"/>
<circle cx="657.81" cy="565.33" r="1.8" fill="#de4646" stroke="#a82222" stroke-width="0.4" fill-opacity="0.5"/>
<circle cx="649.82" cy="567.93" r="1.8" fill="#de4646" stroke="#a82222" stroke-width="0.4" fill-opacity="0.5"/>
<circle cx="651.63" cy="574.5" r="1.8" fill="#de4646" stroke="#a82222" stroke-width="0.4" fill-opacity="0.5"/>
<circle cx="645.05" cy="589.56" r="1.8" fill="#de4646" stroke="#a82222" stroke-width="0.4" fill-opacity="0.5"/>
<circle cx="648.46" cy="595.2" r="1.8" fill="#de4646" stroke="#a82222" stroke-width="0.4" fill-opacity="0.5"/>
<circle cx="642.25" cy="564.63" r="1.8" fill="#de4646" stroke="#a82222" stroke-width="0.4" fill-opacity="0.5"/>
<circle cx="653.4" cy="532.2" r="1.8" fill="#de4646" stroke="#a82222" stroke-width="0.4" fill-opacity="0.5"/>
<circle cx="642.4" cy="553" r="1.8" fill="#de4646" stroke="#a82222" stroke-width="0.4" fill-opacity="0.5"/>
<circle cx="654.6" cy="618.4" r="1.8" fill="#de4646" stroke="#a82222" stroke-width="0.4" fill-opacity="0.5"/>
<circle cx="642.4" cy="598.8" r="1.8" fill="#de4646" stroke="#a82222" stroke-width="0.4" fill-opacity="0.5"/>
<circle cx="659.6" cy="604.6" r="1.8" fill="#de4646" stroke="#a82222" stroke-width="0.4" fill-opacity="0.5"/>
<line x1="651.4" y1="553" x2="651.4" y2="569.4" stroke="#333" stroke-width="0.9"/>
<line x1="651.4" y1="587" x2="651.4" y2="604" stroke="#333" stroke-width="0.9"/>
<rect x="632.4" y="569.4" width="38" height="17.6" fill="none" stroke="#333" stroke-width="0.9"/>
<line x1="632.4" y1="578" x2="670.4" y2="578" stroke="#333" stroke-width="1.6"/>
<text x="618" y="539" font-size="7.5" text-anchor="middle">T-test, p = 0.007</text>
<text x="601.4" y="629.6" font-size="7.3" text-anchor="middle">n=50</text>
<text x="651.4" y="629.6" font-size="7.3" text-anchor="middle">n=50</text>
<text x="601.4" y="642" font-size="8.1" text-anchor="middle" fill="#3333ff">T1</text>
<text x="651.4" y="642" font-size="8.1" text-anchor="middle" fill="#ff2a2a">T3</text>
<text x="551" y="580" font-size="9.2" text-anchor="middle" fill="#ff33ff" transform="rotate(-90 551 580)">RAR activation</text>
<text x="560.6" y="580" font-size="9.2" text-anchor="middle" fill="#ff33ff" transform="rotate(-90 560.6 580)">yearly change</text>
<text x="0.5" y="672" font-size="14" fill="#000" font-weight="bold">i</text>
<rect x="267.4" y="680.75" width="31.02" height="3.7" fill="#b0e0e6" stroke="#ec6a78" stroke-width="0.8"/>
<line x1="215.1" y1="682.6" x2="217.4" y2="682.6" stroke="#777777" stroke-width="0.8"/>
<text x="213.4" y="685.3" font-size="7.8" text-anchor="end">Role of Macrophages, Fibroblasts and Endoth. cells in RA</text>
<rect x="267.4" y="688.35" width="11.05" height="3.7" fill="#b0e0e6" stroke="#ec6a78" stroke-width="0.8"/>
<line x1="215.1" y1="690.2" x2="217.4" y2="690.2" stroke="#777777" stroke-width="0.8"/>
<text x="213.4" y="692.9" font-size="7.8" text-anchor="end">TNFs bind their physiological receptors</text>
<rect x="267.4" y="695.95" width="22.09" height="3.7" fill="#b0e0e6" stroke="#ec6a78" stroke-width="0.8"/>
<line x1="215.1" y1="697.8" x2="217.4" y2="697.8" stroke="#777777" stroke-width="0.8"/>
<text x="213.4" y="700.5" font-size="7.8" text-anchor="end">Role of Chondrocytes in RA Signaling Pathway</text>
<rect x="267.4" y="703.55" width="23.26" height="3.7" fill="#b0e0e6" stroke="#ec6a78" stroke-width="0.8"/>
<line x1="215.1" y1="705.4" x2="217.4" y2="705.4" stroke="#777777" stroke-width="0.8"/>
<text x="213.4" y="708.1" font-size="7.8" text-anchor="end">ID1 Signaling</text>
<rect x="267.4" y="711.15" width="20.68" height="3.7" fill="#b0e0e6" stroke="#ec6a78" stroke-width="0.8"/>
<line x1="215.1" y1="713" x2="217.4" y2="713" stroke="#777777" stroke-width="0.8"/>
<text x="213.4" y="715.7" font-size="7.8" text-anchor="end">HIF1a Signaling</text>
<rect x="267.4" y="718.75" width="19.27" height="3.7" fill="#b0e0e6" stroke="#ec6a78" stroke-width="0.8"/>
<line x1="215.1" y1="720.6" x2="217.4" y2="720.6" stroke="#777777" stroke-width="0.8"/>
<text x="213.4" y="723.3" font-size="7.8" text-anchor="end">Role of Osteoblasts, Osteoclasts and Chondrocytes in RA</text>
<rect x="267.4" y="726.35" width="23.5" height="3.7" fill="#b0e0e6" stroke="#ec6a78" stroke-width="0.8"/>
<line x1="215.1" y1="728.2" x2="217.4" y2="728.2" stroke="#777777" stroke-width="0.8"/>
<text x="213.4" y="730.9" font-size="7.8" text-anchor="end">Atherosclerosis Signaling</text>
<rect x="267.4" y="733.95" width="28.2" height="3.7" fill="#b0e0e6" stroke="#ec6a78" stroke-width="0.8"/>
<line x1="215.1" y1="735.8" x2="217.4" y2="735.8" stroke="#777777" stroke-width="0.8"/>
<text x="213.4" y="738.5" font-size="7.8" text-anchor="end">Hepatic Fibrosis</text>
<rect x="267.4" y="741.55" width="12.22" height="3.7" fill="#b0e0e6" stroke="#ec6a78" stroke-width="0.8"/>
<line x1="215.1" y1="743.4" x2="217.4" y2="743.4" stroke="#777777" stroke-width="0.8"/>
<text x="213.4" y="746.1" font-size="7.8" text-anchor="end">Inhibition of MMPs</text>
<rect x="244.37" y="749.15" width="23.03" height="3.7" fill="#b0e0e6" stroke="#4a4af4" stroke-width="0.8"/>
<line x1="215.1" y1="751" x2="217.4" y2="751" stroke="#777777" stroke-width="0.8"/>
<text x="213.4" y="753.7" font-size="7.8" text-anchor="end">Osteoarthritis Pathway</text>
<rect x="267.4" y="756.75" width="20.21" height="3.7" fill="#b0e0e6" stroke="#ec6a78" stroke-width="0.8"/>
<line x1="215.1" y1="758.6" x2="217.4" y2="758.6" stroke="#777777" stroke-width="0.8"/>
<text x="213.4" y="761.3" font-size="7.8" text-anchor="end">Pulmonary Healing Signaling Pathway</text>
<rect x="267.4" y="764.35" width="11.28" height="3.7" fill="#b0e0e6" stroke="#ec6a78" stroke-width="0.8"/>
<line x1="215.1" y1="766.2" x2="217.4" y2="766.2" stroke="#777777" stroke-width="0.8"/>
<text x="213.4" y="768.9" font-size="7.8" text-anchor="end">STAT3 Pathway</text>
<rect x="267.4" y="771.95" width="20.21" height="3.7" fill="#b0e0e6" stroke="#ec6a78" stroke-width="0.8"/>
<line x1="215.1" y1="773.8" x2="217.4" y2="773.8" stroke="#777777" stroke-width="0.8"/>
<text x="213.4" y="776.5" font-size="7.8" text-anchor="end">LXR/RXR Activation</text>
<rect x="267.4" y="779.55" width="43.24" height="3.7" fill="#b0e0e6" stroke="#ec6a78" stroke-width="0.8"/>
<line x1="215.1" y1="781.4" x2="217.4" y2="781.4" stroke="#777777" stroke-width="0.8"/>
<text x="213.4" y="784.1" font-size="7.8" text-anchor="end">Cardiac Hypertrophy Signaling (Enhanced)</text>
<rect x="267.4" y="787.15" width="29.14" height="3.7" fill="#b0e0e6" stroke="#ec6a78" stroke-width="0.8"/>
<line x1="215.1" y1="789" x2="217.4" y2="789" stroke="#777777" stroke-width="0.8"/>
<text x="213.4" y="791.7" font-size="7.8" text-anchor="end">Hepatic Cholestasis</text>
<rect x="267.4" y="794.75" width="48.18" height="3.7" fill="#b0e0e6" stroke="#ec6a78" stroke-width="0.8"/>
<line x1="215.1" y1="796.6" x2="217.4" y2="796.6" stroke="#777777" stroke-width="0.8"/>
<text x="213.4" y="799.3" font-size="7.8" text-anchor="end">ERK/MAPK Signaling</text>
<rect x="267.4" y="802.35" width="14.1" height="3.7" fill="#b0e0e6" stroke="#ec6a78" stroke-width="0.8"/>
<line x1="215.1" y1="804.2" x2="217.4" y2="804.2" stroke="#777777" stroke-width="0.8"/>
<text x="213.4" y="806.9" font-size="7.8" text-anchor="end">PI3K/AKT Signaling</text>
<rect x="232.38" y="809.95" width="35.01" height="3.7" fill="#b0e0e6" stroke="#4a4af4" stroke-width="0.8"/>
<line x1="215.1" y1="811.8" x2="217.4" y2="811.8" stroke="#777777" stroke-width="0.8"/>
<text x="213.4" y="814.5" font-size="7.8" text-anchor="end">Autism Signaling Pathway</text>
<rect x="245.31" y="817.55" width="22.09" height="3.7" fill="#b0e0e6" stroke="#4a4af4" stroke-width="0.8"/>
<line x1="215.1" y1="819.4" x2="217.4" y2="819.4" stroke="#777777" stroke-width="0.8"/>
<text x="213.4" y="822.1" font-size="7.8" text-anchor="end">Crosstalk between Dendritic Cells and Natural Killer Cells</text>
<rect x="267.4" y="825.15" width="24.91" height="3.7" fill="#b0e0e6" stroke="#ec6a78" stroke-width="0.8"/>
<line x1="215.1" y1="827" x2="217.4" y2="827" stroke="#777777" stroke-width="0.8"/>
<text x="213.4" y="829.7" font-size="7.8" text-anchor="end">Role of Tissue Factor in Cancer</text>
<rect x="221.57" y="832.75" width="45.82" height="3.7" fill="#b0e0e6" stroke="#4a4af4" stroke-width="0.8"/>
<line x1="215.1" y1="834.6" x2="217.4" y2="834.6" stroke="#777777" stroke-width="0.8"/>
<text x="213.4" y="837.3" font-size="7.8" text-anchor="end">RAR Activation</text>
<rect x="267.4" y="840.35" width="30.08" height="3.7" fill="#b0e0e6" stroke="#ec6a78" stroke-width="0.8"/>
<line x1="215.1" y1="842.2" x2="217.4" y2="842.2" stroke="#777777" stroke-width="0.8"/>
<text x="213.4" y="844.9" font-size="7.8" text-anchor="end">Role of Osteoclasts in RA Signaling Pathway</text>
<rect x="267.4" y="847.95" width="24.91" height="3.7" fill="#b0e0e6" stroke="#ec6a78" stroke-width="0.8"/>
<line x1="215.1" y1="849.8" x2="217.4" y2="849.8" stroke="#777777" stroke-width="0.8"/>
<text x="213.4" y="852.5" font-size="7.8" text-anchor="end">Axonal Guidance Signaling</text>
<rect x="267.4" y="855.55" width="27.96" height="3.7" fill="#b0e0e6" stroke="#ec6a78" stroke-width="0.8"/>
<line x1="215.1" y1="857.4" x2="217.4" y2="857.4" stroke="#777777" stroke-width="0.8"/>
<text x="213.4" y="860.1" font-size="7.8" text-anchor="end">NAFLD Signaling Pathway</text>
<rect x="242.49" y="863.15" width="24.91" height="3.7" fill="#b0e0e6" stroke="#4a4af4" stroke-width="0.8"/>
<line x1="215.1" y1="865" x2="217.4" y2="865" stroke="#777777" stroke-width="0.8"/>
<text x="213.4" y="867.7" font-size="7.8" text-anchor="end">FXR/RXR Activation</text>
<rect x="267.4" y="870.75" width="23.03" height="3.7" fill="#b0e0e6" stroke="#ec6a78" stroke-width="0.8"/>
<line x1="215.1" y1="872.6" x2="217.4" y2="872.6" stroke="#777777" stroke-width="0.8"/>
<text x="213.4" y="875.3" font-size="7.8" text-anchor="end">Pulmonary Fibrosis Idiopathic Signaling Pathway</text>
<rect x="267.4" y="878.35" width="34.31" height="3.7" fill="#b0e0e6" stroke="#ec6a78" stroke-width="0.8"/>
<line x1="215.1" y1="880.2" x2="217.4" y2="880.2" stroke="#777777" stroke-width="0.8"/>
<text x="213.4" y="882.9" font-size="7.8" text-anchor="end">Cachexia Signaling Pathway</text>
<rect x="254.71" y="885.95" width="12.69" height="3.7" fill="#b0e0e6" stroke="#4a4af4" stroke-width="0.8"/>
<line x1="215.1" y1="887.8" x2="217.4" y2="887.8" stroke="#777777" stroke-width="0.8"/>
<text x="213.4" y="890.5" font-size="7.8" text-anchor="end">HEY1 Signaling Pathway</text>
<rect x="267.4" y="893.55" width="27.96" height="3.7" fill="#b0e0e6" stroke="#ec6a78" stroke-width="0.8"/>
<line x1="215.1" y1="895.4" x2="217.4" y2="895.4" stroke="#777777" stroke-width="0.8"/>
<text x="213.4" y="898.1" font-size="7.8" text-anchor="end">HMGB1 Signaling</text>
<rect x="267.4" y="901.15" width="4.7" height="3.7" fill="#b0e0e6" stroke="#ec6a78" stroke-width="0.8"/>
<line x1="215.1" y1="903" x2="217.4" y2="903" stroke="#777777" stroke-width="0.8"/>
<text x="213.4" y="905.7" font-size="7.8" text-anchor="end">IL-6 Signaling</text>
<rect x="267.4" y="908.75" width="16.92" height="3.7" fill="#b0e0e6" stroke="#ec6a78" stroke-width="0.8"/>
<line x1="215.1" y1="910.6" x2="217.4" y2="910.6" stroke="#777777" stroke-width="0.8"/>
<text x="213.4" y="913.3" font-size="7.8" text-anchor="end">PD-1, PD-L1 cancer immunotherapy pathway</text>
<line x1="267.4" y1="678.6" x2="267.4" y2="915" stroke="#555" stroke-width="0.9"/>
<line x1="298.6" y1="678.6" x2="298.6" y2="915" stroke="#2e8b2e" stroke-width="0.9" stroke-dasharray="2.2,2"/>
<circle cx="307.4" cy="682.6" r="2.1" fill="#1a6e1a"/>
<circle cx="307.4" cy="690.2" r="2.1" fill="#1a6e1a"/>
<circle cx="306.4" cy="697.8" r="2.1" fill="#1a6e1a"/>
<circle cx="305" cy="705.4" r="2.1" fill="#1a6e1a"/>
<circle cx="303.8" cy="713" r="2.1" fill="#1a6e1a"/>
<circle cx="303.8" cy="720.6" r="2.1" fill="#1a6e1a"/>
<circle cx="303.8" cy="728.2" r="2.1" fill="#1a6e1a"/>
<circle cx="303.8" cy="735.8" r="2.1" fill="#1a6e1a"/>
<circle cx="303.8" cy="743.4" r="2.1" fill="#1a6e1a"/>
<circle cx="303.8" cy="751" r="2.1" fill="#1a6e1a"/>
<circle cx="303.8" cy="758.6" r="2.1" fill="#1a6e1a"/>
<circle cx="303.8" cy="766.2" r="2.1" fill="#1a6e1a"/>
<circle cx="302" cy="773.8" r="2.1" fill="#1a6e1a"/>
<circle cx="302" cy="781.4" r="2.1" fill="#1a6e1a"/>
<circle cx="302" cy="789" r="2.1" fill="#1a6e1a"/>
<circle cx="301.8" cy="796.6" r="2.1" fill="#1a6e1a"/>
<circle cx="301.6" cy="804.2" r="2.1" fill="#1a6e1a"/>
<circle cx="301" cy="811.8" r="2.1" fill="#1a6e1a"/>
<circle cx="301" cy="819.4" r="2.1" fill="#1a6e1a"/>
<circle cx="300.6" cy="827" r="2.1" fill="#1a6e1a"/>
<circle cx="300.4" cy="834.6" r="2.1" fill="#1a6e1a"/>
<circle cx="300.2" cy="842.2" r="2.1" fill="#1a6e1a"/>
<circle cx="300" cy="849.8" r="2.1" fill="#1a6e1a"/>
<circle cx="300" cy="857.4" r="2.1" fill="#1a6e1a"/>
<circle cx="300" cy="865" r="2.1" fill="#1a6e1a"/>
<circle cx="299.6" cy="872.6" r="2.1" fill="#1a6e1a"/>
<circle cx="299" cy="880.2" r="2.1" fill="#1a6e1a"/>
<circle cx="299" cy="887.8" r="2.1" fill="#1a6e1a"/>
<circle cx="299" cy="895.4" r="2.1" fill="#1a6e1a"/>
<circle cx="299" cy="903" r="2.1" fill="#1a6e1a"/>
<circle cx="299" cy="910.6" r="2.1" fill="#1a6e1a"/>
<rect x="217.4" y="678.6" width="101.8" height="236.4" fill="none" stroke="#444" stroke-width="1"/>
<line x1="220.6" y1="675.6" x2="220.6" y2="678.6" stroke="#2e8b2e" stroke-width="0.8"/>
<text x="220.6" y="674.4" font-size="7" text-anchor="middle" fill="#2e8b2e">-2</text>
<line x1="244.4" y1="675.6" x2="244.4" y2="678.6" stroke="#2e8b2e" stroke-width="0.8"/>
<text x="244.4" y="674.4" font-size="7" text-anchor="middle" fill="#2e8b2e">-1</text>
<line x1="267.4" y1="675.6" x2="267.4" y2="678.6" stroke="#2e8b2e" stroke-width="0.8"/>
<text x="267.4" y="674.4" font-size="7" text-anchor="middle" fill="#2e8b2e">0</text>
<line x1="291" y1="675.6" x2="291" y2="678.6" stroke="#2e8b2e" stroke-width="0.8"/>
<text x="291" y="674.4" font-size="7" text-anchor="middle" fill="#2e8b2e">1</text>
<line x1="314.6" y1="675.6" x2="314.6" y2="678.6" stroke="#2e8b2e" stroke-width="0.8"/>
<text x="314.6" y="674.4" font-size="7" text-anchor="middle" fill="#2e8b2e">2</text>
<text x="268.6" y="666.6" font-size="7.8" text-anchor="middle" fill="#2e8b2e">-log10(p-value)</text>
<text x="212" y="674.4" font-size="7.9" text-anchor="end">Pathways</text>
<rect x="217.4" y="915.6" width="101.8" height="10" fill="url(#gi1)"/>
<text x="220.6" y="923.2" font-size="7" text-anchor="middle" fill="#333">-2</text>
<text x="244.4" y="923.2" font-size="7" text-anchor="middle" fill="#333">-1</text>
<text x="267.4" y="923.2" font-size="7" text-anchor="middle" fill="#333">0</text>
<text x="291" y="923.2" font-size="7" text-anchor="middle" fill="#333">1</text>
<text x="314.6" y="923.2" font-size="7" text-anchor="middle" fill="#333">2</text>
<text x="271" y="933.6" font-size="7.9" text-anchor="middle">difference in marker slope</text>
<text x="271" y="942" font-size="7.9" text-anchor="middle">between <tspan fill="#ff2a2a">T3</tspan> and <tspan fill="#3333ff">T1</tspan></text>
<rect x="406.2" y="679.55" width="31.4" height="3.7" fill="#f2cc8c" stroke="#ec6a78" stroke-width="0.8"/>
<line x1="400.5" y1="681.4" x2="402.8" y2="681.4" stroke="#777777" stroke-width="0.8"/>
<text x="398.8" y="684.1" font-size="7.9" text-anchor="end">TNFRSF11B</text>
<rect x="406.2" y="686.75" width="32.4" height="3.7" fill="#f2cc8c" stroke="#ec6a78" stroke-width="0.8"/>
<line x1="400.5" y1="688.6" x2="402.8" y2="688.6" stroke="#777777" stroke-width="0.8"/>
<text x="398.8" y="691.3" font-size="7.9" text-anchor="end">EIF4H</text>
<rect x="406.2" y="693.95" width="32.4" height="3.7" fill="#f2cc8c" stroke="#ec6a78" stroke-width="0.8"/>
<line x1="400.5" y1="695.8" x2="402.8" y2="695.8" stroke="#777777" stroke-width="0.8"/>
<text x="398.8" y="698.5" font-size="7.9" text-anchor="end">STX4</text>
<rect x="406.2" y="701.15" width="32.4" height="3.7" fill="#f2cc8c" stroke="#ec6a78" stroke-width="0.8"/>
<line x1="400.5" y1="703" x2="402.8" y2="703" stroke="#777777" stroke-width="0.8"/>
<text x="398.8" y="705.7" font-size="7.9" text-anchor="end">TGFB1</text>
<rect x="406.2" y="708.35" width="29.2" height="3.7" fill="#f2cc8c" stroke="#ec6a78" stroke-width="0.8"/>
<line x1="400.5" y1="710.2" x2="402.8" y2="710.2" stroke="#777777" stroke-width="0.8"/>
<text x="398.8" y="712.9" font-size="7.9" text-anchor="end">ARHGAP1</text>
<rect x="406.2" y="715.55" width="40.2" height="3.7" fill="#f2cc8c" stroke="#ec6a78" stroke-width="0.8"/>
<line x1="400.5" y1="717.4" x2="402.8" y2="717.4" stroke="#777777" stroke-width="0.8"/>
<text x="398.8" y="720.1" font-size="7.9" text-anchor="end">SNX4</text>
<rect x="406.2" y="722.75" width="40.4" height="3.7" fill="#f2cc8c" stroke="#ec6a78" stroke-width="0.8"/>
<line x1="400.5" y1="724.6" x2="402.8" y2="724.6" stroke="#777777" stroke-width="0.8"/>
<text x="398.8" y="727.3" font-size="7.9" text-anchor="end">IGBP1</text>
<rect x="406.2" y="729.95" width="24.4" height="3.7" fill="#f2cc8c" stroke="#ec6a78" stroke-width="0.8"/>
<line x1="400.5" y1="731.8" x2="402.8" y2="731.8" stroke="#777777" stroke-width="0.8"/>
<text x="398.8" y="734.5" font-size="7.9" text-anchor="end">PDCD5</text>
<rect x="406.2" y="737.15" width="28.4" height="3.7" fill="#f2cc8c" stroke="#ec6a78" stroke-width="0.8"/>
<line x1="400.5" y1="739" x2="402.8" y2="739" stroke="#777777" stroke-width="0.8"/>
<text x="398.8" y="741.7" font-size="7.9" text-anchor="end">TFF2</text>
<rect x="406.2" y="744.35" width="19.4" height="3.7" fill="#f2cc8c" stroke="#ec6a78" stroke-width="0.8"/>
<line x1="400.5" y1="746.2" x2="402.8" y2="746.2" stroke="#777777" stroke-width="0.8"/>
<text x="398.8" y="748.9" font-size="7.9" text-anchor="end">CBL</text>
<rect x="406.2" y="751.55" width="24.8" height="3.7" fill="#f2cc8c" stroke="#ec6a78" stroke-width="0.8"/>
<line x1="400.5" y1="753.4" x2="402.8" y2="753.4" stroke="#777777" stroke-width="0.8"/>
<text x="398.8" y="756.1" font-size="7.9" text-anchor="end">GFRA1</text>
<rect x="406.2" y="758.75" width="19.8" height="3.7" fill="#f2cc8c" stroke="#ec6a78" stroke-width="0.8"/>
<line x1="400.5" y1="760.6" x2="402.8" y2="760.6" stroke="#777777" stroke-width="0.8"/>
<text x="398.8" y="763.3" font-size="7.9" text-anchor="end">MMP19</text>
<rect x="406.2" y="765.95" width="43.8" height="3.7" fill="#f2cc8c" stroke="#ec6a78" stroke-width="0.8"/>
<line x1="400.5" y1="767.8" x2="402.8" y2="767.8" stroke="#777777" stroke-width="0.8"/>
<text x="398.8" y="770.5" font-size="7.9" text-anchor="end">PDLIM4</text>
<rect x="406.2" y="773.15" width="43.4" height="3.7" fill="#f2cc8c" stroke="#ec6a78" stroke-width="0.8"/>
<line x1="400.5" y1="775" x2="402.8" y2="775" stroke="#777777" stroke-width="0.8"/>
<text x="398.8" y="777.7" font-size="7.9" text-anchor="end">SMAD4</text>
<rect x="406.2" y="780.35" width="27.4" height="3.7" fill="#f2cc8c" stroke="#ec6a78" stroke-width="0.8"/>
<line x1="400.5" y1="782.2" x2="402.8" y2="782.2" stroke="#777777" stroke-width="0.8"/>
<text x="398.8" y="784.9" font-size="7.9" text-anchor="end">VPS4A</text>
<rect x="406.2" y="787.55" width="31.2" height="3.7" fill="#f2cc8c" stroke="#ec6a78" stroke-width="0.8"/>
<line x1="400.5" y1="789.4" x2="402.8" y2="789.4" stroke="#777777" stroke-width="0.8"/>
<text x="398.8" y="792.1" font-size="7.9" text-anchor="end">COLEC12</text>
<rect x="406.2" y="794.75" width="26.2" height="3.7" fill="#f2cc8c" stroke="#ec6a78" stroke-width="0.8"/>
<line x1="400.5" y1="796.6" x2="402.8" y2="796.6" stroke="#777777" stroke-width="0.8"/>
<text x="398.8" y="799.3" font-size="7.9" text-anchor="end">CTGF</text>
<rect x="406.2" y="801.95" width="31.4" height="3.7" fill="#f2cc8c" stroke="#ec6a78" stroke-width="0.8"/>
<line x1="400.5" y1="803.8" x2="402.8" y2="803.8" stroke="#777777" stroke-width="0.8"/>
<text x="398.8" y="806.5" font-size="7.9" text-anchor="end">GPC3</text>
<rect x="406.2" y="809.15" width="75.3" height="3.7" fill="#f2cc8c" stroke="#ec6a78" stroke-width="0.8"/>
<line x1="400.5" y1="811" x2="402.8" y2="811" stroke="#777777" stroke-width="0.8"/>
<text x="398.8" y="813.7" font-size="7.9" text-anchor="end">TMOD1</text>
<rect x="406.2" y="816.35" width="21.4" height="3.7" fill="#f2cc8c" stroke="#ec6a78" stroke-width="0.8"/>
<line x1="400.5" y1="818.2" x2="402.8" y2="818.2" stroke="#777777" stroke-width="0.8"/>
<text x="398.8" y="820.9" font-size="7.9" text-anchor="end">NUDC</text>
<rect x="406.2" y="823.55" width="6.2" height="3.7" fill="#f2cc8c" stroke="#ec6a78" stroke-width="0.8"/>
<line x1="400.5" y1="825.4" x2="402.8" y2="825.4" stroke="#777777" stroke-width="0.8"/>
<text x="398.8" y="828.1" font-size="7.9" text-anchor="end">ARL2</text>
<rect x="406.2" y="830.75" width="31.4" height="3.7" fill="#f2cc8c" stroke="#ec6a78" stroke-width="0.8"/>
<line x1="400.5" y1="832.6" x2="402.8" y2="832.6" stroke="#777777" stroke-width="0.8"/>
<text x="398.8" y="835.3" font-size="7.9" text-anchor="end">EIF4G2</text>
<rect x="406.2" y="837.95" width="12.6" height="3.7" fill="#f2cc8c" stroke="#ec6a78" stroke-width="0.8"/>
<line x1="400.5" y1="839.8" x2="402.8" y2="839.8" stroke="#777777" stroke-width="0.8"/>
<text x="398.8" y="842.5" font-size="7.9" text-anchor="end">DAG1</text>
<rect x="406.2" y="845.15" width="32.5" height="3.7" fill="#f2cc8c" stroke="#ec6a78" stroke-width="0.8"/>
<line x1="400.5" y1="847" x2="402.8" y2="847" stroke="#777777" stroke-width="0.8"/>
<text x="398.8" y="849.7" font-size="7.9" text-anchor="end">VPS24</text>
<rect x="406.2" y="852.35" width="18.9" height="3.7" fill="#f2cc8c" stroke="#ec6a78" stroke-width="0.8"/>
<line x1="400.5" y1="854.2" x2="402.8" y2="854.2" stroke="#777777" stroke-width="0.8"/>
<text x="398.8" y="856.9" font-size="7.9" text-anchor="end">GSN</text>
<rect x="406.2" y="859.55" width="34.2" height="3.7" fill="#f2cc8c" stroke="#ec6a78" stroke-width="0.8"/>
<line x1="400.5" y1="861.4" x2="402.8" y2="861.4" stroke="#777777" stroke-width="0.8"/>
<text x="398.8" y="864.1" font-size="7.9" text-anchor="end">MAP3K3</text>
<rect x="406.2" y="866.75" width="34.2" height="3.7" fill="#f2cc8c" stroke="#ec6a78" stroke-width="0.8"/>
<line x1="400.5" y1="868.6" x2="402.8" y2="868.6" stroke="#777777" stroke-width="0.8"/>
<text x="398.8" y="871.3" font-size="7.9" text-anchor="end">SMTN</text>
<rect x="406.2" y="873.95" width="29.5" height="3.7" fill="#f2cc8c" stroke="#ec6a78" stroke-width="0.8"/>
<line x1="400.5" y1="875.8" x2="402.8" y2="875.8" stroke="#777777" stroke-width="0.8"/>
<text x="398.8" y="878.5" font-size="7.9" text-anchor="end">TAX1BP3</text>
<rect x="406.2" y="881.15" width="32.5" height="3.7" fill="#f2cc8c" stroke="#ec6a78" stroke-width="0.8"/>
<line x1="400.5" y1="883" x2="402.8" y2="883" stroke="#777777" stroke-width="0.8"/>
<text x="398.8" y="885.7" font-size="7.9" text-anchor="end">C1QTNF3</text>
<rect x="406.2" y="888.35" width="20.1" height="3.7" fill="#f2cc8c" stroke="#ec6a78" stroke-width="0.8"/>
<line x1="400.5" y1="890.2" x2="402.8" y2="890.2" stroke="#777777" stroke-width="0.8"/>
<text x="398.8" y="892.9" font-size="7.9" text-anchor="end">C11orf68</text>
<rect x="406.2" y="895.55" width="28.4" height="3.7" fill="#f2cc8c" stroke="#ec6a78" stroke-width="0.8"/>
<line x1="400.5" y1="897.4" x2="402.8" y2="897.4" stroke="#777777" stroke-width="0.8"/>
<text x="398.8" y="900.1" font-size="7.9" text-anchor="end">SPG20</text>
<rect x="406.2" y="902.75" width="50.8" height="3.7" fill="#f2cc8c" stroke="#ec6a78" stroke-width="0.8"/>
<line x1="400.5" y1="904.6" x2="402.8" y2="904.6" stroke="#777777" stroke-width="0.8"/>
<text x="398.8" y="907.3" font-size="7.9" text-anchor="end">C1orf198</text>
<rect x="406.2" y="909.95" width="33.9" height="3.7" fill="#f2cc8c" stroke="#ec6a78" stroke-width="0.8"/>
<line x1="400.5" y1="911.8" x2="402.8" y2="911.8" stroke="#777777" stroke-width="0.8"/>
<text x="398.8" y="914.5" font-size="7.9" text-anchor="end">CIRBP</text>
<line x1="406.2" y1="677.6" x2="406.2" y2="915.4" stroke="#555" stroke-width="0.9"/>
<line x1="457.6" y1="677.6" x2="457.6" y2="915.4" stroke="#2e8b2e" stroke-width="0.9" stroke-dasharray="2.2,2"/>
<circle cx="474" cy="681.4" r="2.1" fill="#1a6e1a"/>
<circle cx="473.4" cy="688.6" r="2.1" fill="#1a6e1a"/>
<circle cx="470.6" cy="695.8" r="2.1" fill="#1a6e1a"/>
<circle cx="467.6" cy="703" r="2.1" fill="#1a6e1a"/>
<circle cx="466.2" cy="710.2" r="2.1" fill="#1a6e1a"/>
<circle cx="466" cy="717.4" r="2.1" fill="#1a6e1a"/>
<circle cx="466" cy="724.6" r="2.1" fill="#1a6e1a"/>
<circle cx="466" cy="731.8" r="2.1" fill="#1a6e1a"/>
<circle cx="466" cy="739" r="2.1" fill="#1a6e1a"/>
<circle cx="465.6" cy="746.2" r="2.1" fill="#1a6e1a"/>
<circle cx="465.6" cy="753.4" r="2.1" fill="#1a6e1a"/>
<circle cx="465.4" cy="760.6" r="2.1" fill="#1a6e1a"/>
<circle cx="465.4" cy="767.8" r="2.1" fill="#1a6e1a"/>
<circle cx="465.4" cy="775" r="2.1" fill="#1a6e1a"/>
<circle cx="465.2" cy="782.2" r="2.1" fill="#1a6e1a"/>
<circle cx="465.2" cy="789.4" r="2.1" fill="#1a6e1a"/>
<circle cx="465" cy="796.6" r="2.1" fill="#1a6e1a"/>
<circle cx="465" cy="803.8" r="2.1" fill="#1a6e1a"/>
<circle cx="465" cy="811" r="2.1" fill="#1a6e1a"/>
<circle cx="463" cy="818.2" r="2.1" fill="#1a6e1a"/>
<circle cx="463" cy="825.4" r="2.1" fill="#1a6e1a"/>
<circle cx="463" cy="832.6" r="2.1" fill="#1a6e1a"/>
<circle cx="462.8" cy="839.8" r="2.1" fill="#1a6e1a"/>
<circle cx="462.8" cy="847" r="2.1" fill="#1a6e1a"/>
<circle cx="462.6" cy="854.2" r="2.1" fill="#1a6e1a"/>
<circle cx="462.4" cy="861.4" r="2.1" fill="#1a6e1a"/>
<circle cx="462.4" cy="868.6" r="2.1" fill="#1a6e1a"/>
<circle cx="462.2" cy="875.8" r="2.1" fill="#1a6e1a"/>
<circle cx="462.2" cy="883" r="2.1" fill="#1a6e1a"/>
<circle cx="462" cy="890.2" r="2.1" fill="#1a6e1a"/>
<circle cx="462" cy="897.4" r="2.1" fill="#1a6e1a"/>
<circle cx="462" cy="904.6" r="2.1" fill="#1a6e1a"/>
<circle cx="461.4" cy="911.8" r="2.1" fill="#1a6e1a"/>
<rect x="402.8" y="677.6" width="94.5" height="237.8" fill="none" stroke="#444" stroke-width="1"/>
<line x1="406" y1="674.6" x2="406" y2="677.6" stroke="#2e8b2e" stroke-width="0.8"/>
<text x="406" y="674.4" font-size="7" text-anchor="middle" fill="#2e8b2e">0.0</text>
<line x1="426" y1="674.6" x2="426" y2="677.6" stroke="#2e8b2e" stroke-width="0.8"/>
<text x="426" y="674.4" font-size="7" text-anchor="middle" fill="#2e8b2e">0.5</text>
<line x1="445.6" y1="674.6" x2="445.6" y2="677.6" stroke="#2e8b2e" stroke-width="0.8"/>
<text x="445.6" y="674.4" font-size="7" text-anchor="middle" fill="#2e8b2e">1.0</text>
<line x1="465.4" y1="674.6" x2="465.4" y2="677.6" stroke="#2e8b2e" stroke-width="0.8"/>
<text x="465.4" y="674.4" font-size="7" text-anchor="middle" fill="#2e8b2e">1.5</text>
<line x1="485" y1="674.6" x2="485" y2="677.6" stroke="#2e8b2e" stroke-width="0.8"/>
<text x="485" y="674.4" font-size="7" text-anchor="middle" fill="#2e8b2e">2.0</text>
<text x="449.3" y="666.1" font-size="7.8" text-anchor="middle" fill="#2e8b2e">-log10(p-value)</text>
<text x="397.6" y="674.4" font-size="7.9" text-anchor="end">Protein</text>
<rect x="402.8" y="916" width="94.5" height="10" fill="url(#gi2)"/>
<text x="405" y="923.6" font-size="7" text-anchor="middle" fill="#333">0.0</text>
<text x="421.3" y="923.6" font-size="7" text-anchor="middle" fill="#333">0.1</text>
<text x="437.5" y="923.6" font-size="7" text-anchor="middle" fill="#333">0.2</text>
<text x="453.8" y="923.6" font-size="7" text-anchor="middle" fill="#333">0.3</text>
<text x="470" y="923.6" font-size="7" text-anchor="middle" fill="#333">0.4</text>
<text x="486.3" y="923.6" font-size="7" text-anchor="middle" fill="#333">0.5</text>
<text x="452.9" y="934.2" font-size="7.9" text-anchor="middle">difference in marker slope</text>
<text x="452.9" y="942.6" font-size="7.9" text-anchor="middle">between <tspan fill="#ff2a2a">T3</tspan> and <tspan fill="#3333ff">T1</tspan></text>
<rect x="626.4" y="680.75" width="23.1" height="3.7" fill="#f2cc8c" stroke="#ec6a78" stroke-width="0.8"/>
<line x1="579.1" y1="682.6" x2="581.4" y2="682.6" stroke="#777777" stroke-width="0.8"/>
<text x="577.4" y="685.3" font-size="8" text-anchor="end">ETS2</text>
<rect x="626.4" y="688.2" width="36.4" height="3.7" fill="#f2cc8c" stroke="#ec6a78" stroke-width="0.8"/>
<line x1="579.1" y1="690.05" x2="581.4" y2="690.05" stroke="#777777" stroke-width="0.8"/>
<text x="577.4" y="692.75" font-size="8" text-anchor="end">PGRMC2</text>
<rect x="626.4" y="695.65" width="25.1" height="3.7" fill="#f2cc8c" stroke="#ec6a78" stroke-width="0.8"/>
<line x1="579.1" y1="697.5" x2="581.4" y2="697.5" stroke="#777777" stroke-width="0.8"/>
<text x="577.4" y="700.2" font-size="8" text-anchor="end">CRK</text>
<rect x="626.4" y="703.1" width="39.4" height="3.7" fill="#f2cc8c" stroke="#ec6a78" stroke-width="0.8"/>
<line x1="579.1" y1="704.95" x2="581.4" y2="704.95" stroke="#777777" stroke-width="0.8"/>
<text x="577.4" y="707.65" font-size="8" text-anchor="end">PCDHGB2</text>
<rect x="626.4" y="710.55" width="12.9" height="3.7" fill="#f2cc8c" stroke="#ec6a78" stroke-width="0.8"/>
<line x1="579.1" y1="712.4" x2="581.4" y2="712.4" stroke="#777777" stroke-width="0.8"/>
<text x="577.4" y="715.1" font-size="8" text-anchor="end">RNASE2</text>
<rect x="626.4" y="718" width="30.8" height="3.7" fill="#f2cc8c" stroke="#ec6a78" stroke-width="0.8"/>
<line x1="579.1" y1="719.85" x2="581.4" y2="719.85" stroke="#777777" stroke-width="0.8"/>
<text x="577.4" y="722.55" font-size="8" text-anchor="end">TST</text>
<rect x="626.4" y="725.45" width="14" height="3.7" fill="#f2cc8c" stroke="#ec6a78" stroke-width="0.8"/>
<line x1="579.1" y1="727.3" x2="581.4" y2="727.3" stroke="#777777" stroke-width="0.8"/>
<text x="577.4" y="730" font-size="8" text-anchor="end">ALDH1A1</text>
<rect x="626.4" y="732.9" width="30.3" height="3.7" fill="#f2cc8c" stroke="#ec6a78" stroke-width="0.8"/>
<line x1="579.1" y1="734.75" x2="581.4" y2="734.75" stroke="#777777" stroke-width="0.8"/>
<text x="577.4" y="737.45" font-size="8" text-anchor="end">TLN2</text>
<rect x="626.4" y="740.35" width="24.2" height="3.7" fill="#f2cc8c" stroke="#ec6a78" stroke-width="0.8"/>
<line x1="579.1" y1="742.2" x2="581.4" y2="742.2" stroke="#777777" stroke-width="0.8"/>
<text x="577.4" y="744.9" font-size="8" text-anchor="end">UBE2N</text>
<rect x="626.4" y="747.8" width="20.8" height="3.7" fill="#f2cc8c" stroke="#ec6a78" stroke-width="0.8"/>
<line x1="579.1" y1="749.65" x2="581.4" y2="749.65" stroke="#777777" stroke-width="0.8"/>
<text x="577.4" y="752.35" font-size="8" text-anchor="end">FABP3</text>
<rect x="590.6" y="755.25" width="35.8" height="3.7" fill="#f2cc8c" stroke="#4a4af4" stroke-width="0.8"/>
<line x1="579.1" y1="757.1" x2="581.4" y2="757.1" stroke="#777777" stroke-width="0.8"/>
<text x="577.4" y="759.8" font-size="8" text-anchor="end">FCRL3</text>
<rect x="626.4" y="762.7" width="17.9" height="3.7" fill="#f2cc8c" stroke="#ec6a78" stroke-width="0.8"/>
<line x1="579.1" y1="764.55" x2="581.4" y2="764.55" stroke="#777777" stroke-width="0.8"/>
<text x="577.4" y="767.25" font-size="8" text-anchor="end">MSMP</text>
<rect x="585" y="770.15" width="41.4" height="3.7" fill="#f2cc8c" stroke="#4a4af4" stroke-width="0.8"/>
<line x1="579.1" y1="772" x2="581.4" y2="772" stroke="#777777" stroke-width="0.8"/>
<text x="577.4" y="774.7" font-size="8" text-anchor="end">ADCYAP1</text>
<rect x="626.4" y="777.6" width="50" height="3.7" fill="#f2cc8c" stroke="#ec6a78" stroke-width="0.8"/>
<line x1="579.1" y1="779.45" x2="581.4" y2="779.45" stroke="#777777" stroke-width="0.8"/>
<text x="577.4" y="782.15" font-size="8" text-anchor="end">MPZ</text>
<rect x="626.4" y="785.05" width="19.5" height="3.7" fill="#f2cc8c" stroke="#ec6a78" stroke-width="0.8"/>
<line x1="579.1" y1="786.9" x2="581.4" y2="786.9" stroke="#777777" stroke-width="0.8"/>
<text x="577.4" y="789.6" font-size="8" text-anchor="end">SPINK2</text>
<rect x="626.4" y="792.5" width="28.5" height="3.7" fill="#f2cc8c" stroke="#ec6a78" stroke-width="0.8"/>
<line x1="579.1" y1="794.35" x2="581.4" y2="794.35" stroke="#777777" stroke-width="0.8"/>
<text x="577.4" y="797.05" font-size="8" text-anchor="end">CHKB</text>
<rect x="626.4" y="799.95" width="26.1" height="3.7" fill="#f2cc8c" stroke="#ec6a78" stroke-width="0.8"/>
<line x1="579.1" y1="801.8" x2="581.4" y2="801.8" stroke="#777777" stroke-width="0.8"/>
<text x="577.4" y="804.5" font-size="8" text-anchor="end">C1QL2</text>
<rect x="626.4" y="807.4" width="29.2" height="3.7" fill="#f2cc8c" stroke="#ec6a78" stroke-width="0.8"/>
<line x1="579.1" y1="809.25" x2="581.4" y2="809.25" stroke="#777777" stroke-width="0.8"/>
<text x="577.4" y="811.95" font-size="8" text-anchor="end">FGFBP3</text>
<rect x="626.4" y="814.85" width="14.4" height="3.7" fill="#f2cc8c" stroke="#ec6a78" stroke-width="0.8"/>
<line x1="579.1" y1="816.7" x2="581.4" y2="816.7" stroke="#777777" stroke-width="0.8"/>
<text x="577.4" y="819.4" font-size="8" text-anchor="end">GDF15</text>
<rect x="626.4" y="822.3" width="21.1" height="3.7" fill="#f2cc8c" stroke="#ec6a78" stroke-width="0.8"/>
<line x1="579.1" y1="824.15" x2="581.4" y2="824.15" stroke="#777777" stroke-width="0.8"/>
<text x="577.4" y="826.85" font-size="8" text-anchor="end">DNASE1L2</text>
<rect x="626.4" y="829.75" width="43.3" height="3.7" fill="#f2cc8c" stroke="#ec6a78" stroke-width="0.8"/>
<line x1="579.1" y1="831.6" x2="581.4" y2="831.6" stroke="#777777" stroke-width="0.8"/>
<text x="577.4" y="834.3" font-size="8" text-anchor="end">HSPA1A</text>
<rect x="626.4" y="837.2" width="25.6" height="3.7" fill="#f2cc8c" stroke="#ec6a78" stroke-width="0.8"/>
<line x1="579.1" y1="839.05" x2="581.4" y2="839.05" stroke="#777777" stroke-width="0.8"/>
<text x="577.4" y="841.75" font-size="8" text-anchor="end">INSRR</text>
<rect x="626.4" y="844.65" width="31.8" height="3.7" fill="#f2cc8c" stroke="#ec6a78" stroke-width="0.8"/>
<line x1="579.1" y1="846.5" x2="581.4" y2="846.5" stroke="#777777" stroke-width="0.8"/>
<text x="577.4" y="849.2" font-size="8" text-anchor="end">PAM</text>
<rect x="626.4" y="852.1" width="44.6" height="3.7" fill="#f2cc8c" stroke="#ec6a78" stroke-width="0.8"/>
<line x1="579.1" y1="853.95" x2="581.4" y2="853.95" stroke="#777777" stroke-width="0.8"/>
<text x="577.4" y="856.65" font-size="8" text-anchor="end">SHC1</text>
<line x1="626.4" y1="678.5" x2="626.4" y2="858.5" stroke="#555" stroke-width="0.9"/>
<line x1="667.4" y1="678.5" x2="667.4" y2="858.5" stroke="#2e8b2e" stroke-width="0.9" stroke-dasharray="2.2,2"/>
<circle cx="670.8" cy="682.6" r="2.1" fill="#1a6e1a"/>
<circle cx="670.8" cy="690.05" r="2.1" fill="#1a6e1a"/>
<circle cx="670.6" cy="697.5" r="2.1" fill="#1a6e1a"/>
<circle cx="670.6" cy="704.95" r="2.1" fill="#1a6e1a"/>
<circle cx="670.4" cy="712.4" r="2.1" fill="#1a6e1a"/>
<circle cx="670.4" cy="719.85" r="2.1" fill="#1a6e1a"/>
<circle cx="670.2" cy="727.3" r="2.1" fill="#1a6e1a"/>
<circle cx="670.2" cy="734.75" r="2.1" fill="#1a6e1a"/>
<circle cx="670" cy="742.2" r="2.1" fill="#1a6e1a"/>
<circle cx="670" cy="749.65" r="2.1" fill="#1a6e1a"/>
<circle cx="669.8" cy="757.1" r="2.1" fill="#1a6e1a"/>
<circle cx="669.8" cy="764.55" r="2.1" fill="#1a6e1a"/>
<circle cx="669.6" cy="772" r="2.1" fill="#1a6e1a"/>
<circle cx="668.4" cy="779.45" r="2.1" fill="#1a6e1a"/>
<circle cx="668.2" cy="786.9" r="2.1" fill="#1a6e1a"/>
<circle cx="668.2" cy="794.35" r="2.1" fill="#1a6e1a"/>
<circle cx="668" cy="801.8" r="2.1" fill="#1a6e1a"/>
<circle cx="668" cy="809.25" r="2.1" fill="#1a6e1a"/>
<circle cx="668" cy="816.7" r="2.1" fill="#1a6e1a"/>
<circle cx="668" cy="824.15" r="2.1" fill="#1a6e1a"/>
<circle cx="667.8" cy="831.6" r="2.1" fill="#1a6e1a"/>
<circle cx="667.8" cy="839.05" r="2.1" fill="#1a6e1a"/>
<circle cx="667.8" cy="846.5" r="2.1" fill="#1a6e1a"/>
<circle cx="667.8" cy="853.95" r="2.1" fill="#1a6e1a"/>
<rect x="581.4" y="678.5" width="99.1" height="180" fill="none" stroke="#444" stroke-width="1"/>
<line x1="595.6" y1="675.5" x2="595.6" y2="678.5" stroke="#2e8b2e" stroke-width="0.8"/>
<text x="595.6" y="674.4" font-size="7" text-anchor="middle" fill="#2e8b2e">-1</text>
<line x1="626.6" y1="675.5" x2="626.6" y2="678.5" stroke="#2e8b2e" stroke-width="0.8"/>
<text x="626.6" y="674.4" font-size="7" text-anchor="middle" fill="#2e8b2e">0</text>
<line x1="657.9" y1="675.5" x2="657.9" y2="678.5" stroke="#2e8b2e" stroke-width="0.8"/>
<text x="657.9" y="674.4" font-size="7" text-anchor="middle" fill="#2e8b2e">1</text>
<text x="630.7" y="667" font-size="7.8" text-anchor="middle" fill="#2e8b2e">-log10(p-value)</text>
<text x="576.4" y="674.4" font-size="7.9" text-anchor="end">Protein</text>
<rect x="581.4" y="859.1" width="99.1" height="10" fill="url(#gi3)"/>
<text x="589.2" y="866.7" font-size="7" text-anchor="middle" fill="#333">-0.2</text>
<text x="607.9" y="866.7" font-size="7" text-anchor="middle" fill="#333">-0.1</text>
<text x="626.2" y="866.7" font-size="7" text-anchor="middle" fill="#333">0.0</text>
<text x="644.1" y="866.7" font-size="7" text-anchor="middle" fill="#333">0.1</text>
<text x="663.3" y="866.7" font-size="7" text-anchor="middle" fill="#333">0.2</text>
<text x="630" y="878.1" font-size="7.9" text-anchor="middle">difference in marker slope</text>
<text x="630" y="886.5" font-size="7.9" text-anchor="middle">between <tspan fill="#ff2a2a">T3</tspan> and <tspan fill="#3333ff">T1</tspan></text>
<rect x="581.5" y="893.5" width="99.2" height="41.4" fill="#fff" stroke="#444" stroke-width="0.9"/>
<rect x="587.2" y="896.8" width="23" height="5.6" fill="#b0dde4"/>
<text x="616.5" y="902.4" font-size="8">pathway</text>
<rect x="587.2" y="906.2" width="23" height="5.6" fill="#f0cc88"/>
<text x="616.5" y="912.1" font-size="8">protein</text>
<rect x="587.6" y="916.4" width="22.2" height="5.4" fill="none" stroke="#4040f0" stroke-width="0.9"/>
<text x="616.5" y="922.1" font-size="8">decreased in <tspan fill="#ff2a2a">T3</tspan></text>
<rect x="587.6" y="926.2" width="22.2" height="5.4" fill="none" stroke="#f05050" stroke-width="0.9"/>
<text x="616.5" y="932.3" font-size="8">increased in <tspan fill="#ff2a2a">T3</tspan></text>
</svg></body></html>
